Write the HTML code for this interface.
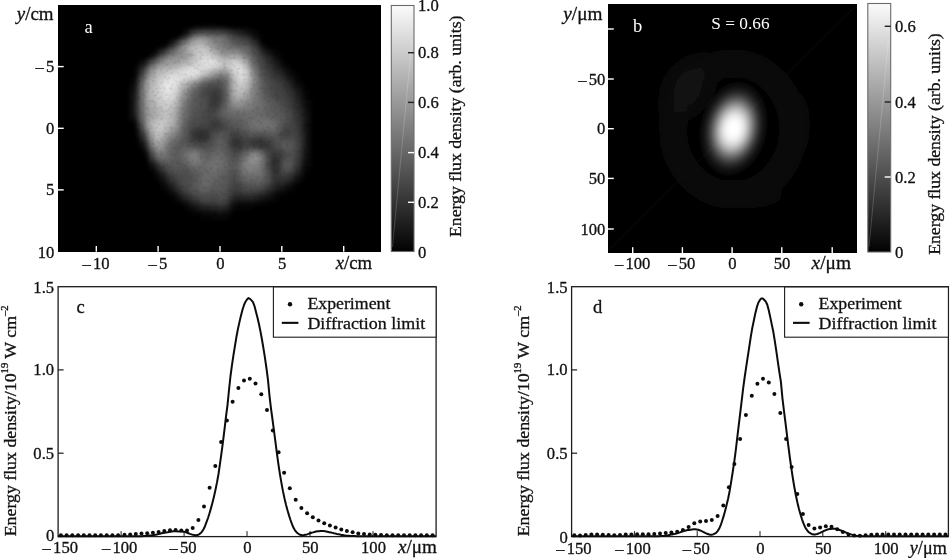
<!DOCTYPE html>
<html lang="en"><head><meta charset="utf-8"><title>Figure</title>
<style>html,body{margin:0;padding:0;background:#fff;}body{width:950px;height:558px;overflow:hidden;}svg{display:block;font-family:"Liberation Serif", "DejaVu Serif", serif;font-size:16.6px;}.it{font-style:italic;}</style></head><body>
<svg width="950" height="558" viewBox="0 0 950 558">
<defs>
<filter id="bl" x="0" y="0" width="1" height="1" color-interpolation-filters="sRGB"><feGaussianBlur in="SourceGraphic" stdDeviation="1.3" result="b"/><feTurbulence type="fractalNoise" baseFrequency="0.3" numOctaves="2" seed="7" result="n"/><feColorMatrix in="n" type="matrix" values="0.3 0 0 0 0.85  0.3 0 0 0 0.85  0.3 0 0 0 0.85  0 0 0 0 1" result="g"/><feBlend in="b" in2="g" mode="multiply"/></filter>
<filter id="bl2" x="-20%" y="-20%" width="140%" height="140%"><feGaussianBlur stdDeviation="11"/></filter>
<linearGradient id="cba" x1="0" y1="0" x2="0" y2="1"><stop offset="0" stop-color="#fbfbfb"/><stop offset="1" stop-color="#020202"/></linearGradient>
<radialGradient id="spot" cx="0.5" cy="0.5" r="0.5"><stop offset="0.00" stop-color="#fff" stop-opacity="1.000"/><stop offset="0.04" stop-color="#fff" stop-opacity="1.000"/><stop offset="0.08" stop-color="#fff" stop-opacity="0.997"/><stop offset="0.12" stop-color="#fff" stop-opacity="0.990"/><stop offset="0.16" stop-color="#fff" stop-opacity="0.978"/><stop offset="0.20" stop-color="#fff" stop-opacity="0.960"/><stop offset="0.24" stop-color="#fff" stop-opacity="0.934"/><stop offset="0.28" stop-color="#fff" stop-opacity="0.900"/><stop offset="0.32" stop-color="#fff" stop-opacity="0.858"/><stop offset="0.36" stop-color="#fff" stop-opacity="0.808"/><stop offset="0.40" stop-color="#fff" stop-opacity="0.751"/><stop offset="0.44" stop-color="#fff" stop-opacity="0.688"/><stop offset="0.48" stop-color="#fff" stop-opacity="0.620"/><stop offset="0.52" stop-color="#fff" stop-opacity="0.550"/><stop offset="0.56" stop-color="#fff" stop-opacity="0.479"/><stop offset="0.60" stop-color="#fff" stop-opacity="0.410"/><stop offset="0.64" stop-color="#fff" stop-opacity="0.343"/><stop offset="0.68" stop-color="#fff" stop-opacity="0.282"/><stop offset="0.72" stop-color="#fff" stop-opacity="0.226"/><stop offset="0.76" stop-color="#fff" stop-opacity="0.177"/><stop offset="0.80" stop-color="#fff" stop-opacity="0.136"/><stop offset="0.84" stop-color="#fff" stop-opacity="0.101"/><stop offset="0.88" stop-color="#fff" stop-opacity="0.074"/><stop offset="0.92" stop-color="#fff" stop-opacity="0.052"/><stop offset="0.96" stop-color="#fff" stop-opacity="0.036"/><stop offset="1.00" stop-color="#fff" stop-opacity="0.024"/></radialGradient>
<clipPath id="clipa"><rect x="58" y="5" width="323" height="247"/></clipPath>
<clipPath id="clipb"><rect x="608" y="4" width="249" height="249"/></clipPath>
</defs>
<rect width="950" height="558" fill="#fff"/>
<rect x="58" y="5" width="323" height="246.7" fill="#000"/>
<g clip-path="url(#clipa)">
<!--BLOB-->
<g filter="url(#bl)" shape-rendering="crispEdges" transform="translate(221.5 119.5) scale(0.995) translate(-221.5 -119.5)">
<rect x="40" y="-10" width="360" height="280" fill="#000"/>
<rect x="193.3" y="23.3" width="10.2" height="3.5" fill="#040404"/>
<rect x="203.3" y="23.3" width="13.5" height="3.5" fill="#080808"/>
<rect x="216.7" y="23.3" width="10.2" height="3.5" fill="#040404"/>
<rect x="183.3" y="26.7" width="3.5" height="3.5" fill="#040404"/>
<rect x="186.7" y="26.7" width="3.5" height="3.5" fill="#080808"/>
<rect x="190.0" y="26.7" width="3.5" height="3.5" fill="#101010"/>
<rect x="193.3" y="26.7" width="3.5" height="3.5" fill="#181818"/>
<rect x="196.7" y="26.7" width="26.9" height="3.5" fill="#1c1c1c"/>
<rect x="223.3" y="26.7" width="3.5" height="3.5" fill="#181818"/>
<rect x="226.7" y="26.7" width="3.5" height="3.5" fill="#141414"/>
<rect x="230.0" y="26.7" width="3.5" height="3.5" fill="#101010"/>
<rect x="233.3" y="26.7" width="6.9" height="3.5" fill="#0c0c0c"/>
<rect x="240.0" y="26.7" width="6.9" height="3.5" fill="#080808"/>
<rect x="246.7" y="26.7" width="6.9" height="3.5" fill="#040404"/>
<rect x="183.3" y="30.0" width="3.5" height="3.5" fill="#0c0c0c"/>
<rect x="186.7" y="30.0" width="3.5" height="3.5" fill="#181818"/>
<rect x="190.0" y="30.0" width="3.5" height="3.5" fill="#2c2c2c"/>
<rect x="193.3" y="30.0" width="3.5" height="3.5" fill="#383838"/>
<rect x="196.7" y="30.0" width="3.5" height="3.5" fill="#404040"/>
<rect x="200.0" y="30.0" width="10.2" height="3.5" fill="#444444"/>
<rect x="210.0" y="30.0" width="10.2" height="3.5" fill="#404040"/>
<rect x="220.0" y="30.0" width="3.5" height="3.5" fill="#3c3c3c"/>
<rect x="223.3" y="30.0" width="3.5" height="3.5" fill="#383838"/>
<rect x="226.7" y="30.0" width="3.5" height="3.5" fill="#303030"/>
<rect x="230.0" y="30.0" width="3.5" height="3.5" fill="#2c2c2c"/>
<rect x="233.3" y="30.0" width="3.5" height="3.5" fill="#242424"/>
<rect x="236.7" y="30.0" width="3.5" height="3.5" fill="#202020"/>
<rect x="240.0" y="30.0" width="3.5" height="3.5" fill="#1c1c1c"/>
<rect x="243.3" y="30.0" width="3.5" height="3.5" fill="#141414"/>
<rect x="246.7" y="30.0" width="3.5" height="3.5" fill="#101010"/>
<rect x="250.0" y="30.0" width="3.5" height="3.5" fill="#0c0c0c"/>
<rect x="253.3" y="30.0" width="3.5" height="3.5" fill="#080808"/>
<rect x="256.7" y="30.0" width="3.5" height="3.5" fill="#040404"/>
<rect x="176.7" y="33.3" width="3.5" height="3.5" fill="#040404"/>
<rect x="180.0" y="33.3" width="3.5" height="3.5" fill="#101010"/>
<rect x="183.3" y="33.3" width="3.5" height="3.5" fill="#202020"/>
<rect x="186.7" y="33.3" width="3.5" height="3.5" fill="#343434"/>
<rect x="190.0" y="33.3" width="3.5" height="3.5" fill="#4c4c4c"/>
<rect x="193.3" y="33.3" width="3.5" height="3.5" fill="#606060"/>
<rect x="196.7" y="33.3" width="10.2" height="3.5" fill="#6c6c6c"/>
<rect x="206.7" y="33.3" width="3.5" height="3.5" fill="#686868"/>
<rect x="210.0" y="33.3" width="3.5" height="3.5" fill="#646464"/>
<rect x="213.3" y="33.3" width="6.9" height="3.5" fill="#606060"/>
<rect x="220.0" y="33.3" width="3.5" height="3.5" fill="#5c5c5c"/>
<rect x="223.3" y="33.3" width="3.5" height="3.5" fill="#585858"/>
<rect x="226.7" y="33.3" width="3.5" height="3.5" fill="#4c4c4c"/>
<rect x="230.0" y="33.3" width="3.5" height="3.5" fill="#444444"/>
<rect x="233.3" y="33.3" width="3.5" height="3.5" fill="#383838"/>
<rect x="236.7" y="33.3" width="3.5" height="3.5" fill="#343434"/>
<rect x="240.0" y="33.3" width="3.5" height="3.5" fill="#2c2c2c"/>
<rect x="243.3" y="33.3" width="3.5" height="3.5" fill="#282828"/>
<rect x="246.7" y="33.3" width="3.5" height="3.5" fill="#202020"/>
<rect x="250.0" y="33.3" width="3.5" height="3.5" fill="#181818"/>
<rect x="253.3" y="33.3" width="3.5" height="3.5" fill="#0c0c0c"/>
<rect x="256.7" y="33.3" width="3.5" height="3.5" fill="#080808"/>
<rect x="260.0" y="33.3" width="3.5" height="3.5" fill="#040404"/>
<rect x="170.0" y="36.7" width="3.5" height="3.5" fill="#040404"/>
<rect x="173.3" y="36.7" width="3.5" height="3.5" fill="#0c0c0c"/>
<rect x="176.7" y="36.7" width="3.5" height="3.5" fill="#1c1c1c"/>
<rect x="180.0" y="36.7" width="3.5" height="3.5" fill="#2c2c2c"/>
<rect x="183.3" y="36.7" width="3.5" height="3.5" fill="#404040"/>
<rect x="186.7" y="36.7" width="3.5" height="3.5" fill="#5c5c5c"/>
<rect x="190.0" y="36.7" width="3.5" height="3.5" fill="#747474"/>
<rect x="193.3" y="36.7" width="3.5" height="3.5" fill="#848484"/>
<rect x="196.7" y="36.7" width="6.9" height="3.5" fill="#909090"/>
<rect x="203.3" y="36.7" width="3.5" height="3.5" fill="#8c8c8c"/>
<rect x="206.7" y="36.7" width="3.5" height="3.5" fill="#848484"/>
<rect x="210.0" y="36.7" width="3.5" height="3.5" fill="#7c7c7c"/>
<rect x="213.3" y="36.7" width="6.9" height="3.5" fill="#747474"/>
<rect x="220.0" y="36.7" width="3.5" height="3.5" fill="#707070"/>
<rect x="223.3" y="36.7" width="3.5" height="3.5" fill="#686868"/>
<rect x="226.7" y="36.7" width="3.5" height="3.5" fill="#606060"/>
<rect x="230.0" y="36.7" width="3.5" height="3.5" fill="#545454"/>
<rect x="233.3" y="36.7" width="3.5" height="3.5" fill="#484848"/>
<rect x="236.7" y="36.7" width="3.5" height="3.5" fill="#444444"/>
<rect x="240.0" y="36.7" width="3.5" height="3.5" fill="#404040"/>
<rect x="243.3" y="36.7" width="3.5" height="3.5" fill="#383838"/>
<rect x="246.7" y="36.7" width="3.5" height="3.5" fill="#303030"/>
<rect x="250.0" y="36.7" width="3.5" height="3.5" fill="#242424"/>
<rect x="253.3" y="36.7" width="3.5" height="3.5" fill="#181818"/>
<rect x="256.7" y="36.7" width="3.5" height="3.5" fill="#0c0c0c"/>
<rect x="260.0" y="36.7" width="3.5" height="3.5" fill="#040404"/>
<rect x="166.7" y="40.0" width="3.5" height="3.5" fill="#080808"/>
<rect x="170.0" y="40.0" width="3.5" height="3.5" fill="#141414"/>
<rect x="173.3" y="40.0" width="3.5" height="3.5" fill="#282828"/>
<rect x="176.7" y="40.0" width="3.5" height="3.5" fill="#3c3c3c"/>
<rect x="180.0" y="40.0" width="3.5" height="3.5" fill="#545454"/>
<rect x="183.3" y="40.0" width="3.5" height="3.5" fill="#6c6c6c"/>
<rect x="186.7" y="40.0" width="3.5" height="3.5" fill="#808080"/>
<rect x="190.0" y="40.0" width="3.5" height="3.5" fill="#949494"/>
<rect x="193.3" y="40.0" width="3.5" height="3.5" fill="#a4a4a4"/>
<rect x="196.7" y="40.0" width="6.9" height="3.5" fill="#a8a8a8"/>
<rect x="203.3" y="40.0" width="3.5" height="3.5" fill="#a0a0a0"/>
<rect x="206.7" y="40.0" width="3.5" height="3.5" fill="#949494"/>
<rect x="210.0" y="40.0" width="3.5" height="3.5" fill="#8c8c8c"/>
<rect x="213.3" y="40.0" width="3.5" height="3.5" fill="#808080"/>
<rect x="216.7" y="40.0" width="3.5" height="3.5" fill="#7c7c7c"/>
<rect x="220.0" y="40.0" width="3.5" height="3.5" fill="#787878"/>
<rect x="223.3" y="40.0" width="3.5" height="3.5" fill="#707070"/>
<rect x="226.7" y="40.0" width="3.5" height="3.5" fill="#686868"/>
<rect x="230.0" y="40.0" width="3.5" height="3.5" fill="#5c5c5c"/>
<rect x="233.3" y="40.0" width="3.5" height="3.5" fill="#545454"/>
<rect x="236.7" y="40.0" width="3.5" height="3.5" fill="#505050"/>
<rect x="240.0" y="40.0" width="3.5" height="3.5" fill="#4c4c4c"/>
<rect x="243.3" y="40.0" width="3.5" height="3.5" fill="#484848"/>
<rect x="246.7" y="40.0" width="3.5" height="3.5" fill="#404040"/>
<rect x="250.0" y="40.0" width="3.5" height="3.5" fill="#343434"/>
<rect x="253.3" y="40.0" width="3.5" height="3.5" fill="#282828"/>
<rect x="256.7" y="40.0" width="3.5" height="3.5" fill="#181818"/>
<rect x="260.0" y="40.0" width="3.5" height="3.5" fill="#080808"/>
<rect x="160.0" y="43.3" width="3.5" height="3.5" fill="#040404"/>
<rect x="163.3" y="43.3" width="3.5" height="3.5" fill="#080808"/>
<rect x="166.7" y="43.3" width="3.5" height="3.5" fill="#181818"/>
<rect x="170.0" y="43.3" width="3.5" height="3.5" fill="#2c2c2c"/>
<rect x="173.3" y="43.3" width="3.5" height="3.5" fill="#444444"/>
<rect x="176.7" y="43.3" width="3.5" height="3.5" fill="#5c5c5c"/>
<rect x="180.0" y="43.3" width="3.5" height="3.5" fill="#747474"/>
<rect x="183.3" y="43.3" width="3.5" height="3.5" fill="#8c8c8c"/>
<rect x="186.7" y="43.3" width="3.5" height="3.5" fill="#9c9c9c"/>
<rect x="190.0" y="43.3" width="3.5" height="3.5" fill="#acacac"/>
<rect x="193.3" y="43.3" width="3.5" height="3.5" fill="#b4b4b4"/>
<rect x="196.7" y="43.3" width="6.9" height="3.5" fill="#b8b8b8"/>
<rect x="203.3" y="43.3" width="3.5" height="3.5" fill="#b0b0b0"/>
<rect x="206.7" y="43.3" width="3.5" height="3.5" fill="#a4a4a4"/>
<rect x="210.0" y="43.3" width="3.5" height="3.5" fill="#989898"/>
<rect x="213.3" y="43.3" width="3.5" height="3.5" fill="#8c8c8c"/>
<rect x="216.7" y="43.3" width="3.5" height="3.5" fill="#808080"/>
<rect x="220.0" y="43.3" width="3.5" height="3.5" fill="#7c7c7c"/>
<rect x="223.3" y="43.3" width="3.5" height="3.5" fill="#747474"/>
<rect x="226.7" y="43.3" width="3.5" height="3.5" fill="#707070"/>
<rect x="230.0" y="43.3" width="3.5" height="3.5" fill="#686868"/>
<rect x="233.3" y="43.3" width="3.5" height="3.5" fill="#606060"/>
<rect x="236.7" y="43.3" width="6.9" height="3.5" fill="#5c5c5c"/>
<rect x="243.3" y="43.3" width="3.5" height="3.5" fill="#585858"/>
<rect x="246.7" y="43.3" width="3.5" height="3.5" fill="#505050"/>
<rect x="250.0" y="43.3" width="3.5" height="3.5" fill="#444444"/>
<rect x="253.3" y="43.3" width="3.5" height="3.5" fill="#343434"/>
<rect x="256.7" y="43.3" width="3.5" height="3.5" fill="#242424"/>
<rect x="260.0" y="43.3" width="3.5" height="3.5" fill="#141414"/>
<rect x="263.3" y="43.3" width="3.5" height="3.5" fill="#080808"/>
<rect x="153.3" y="46.7" width="3.5" height="3.5" fill="#040404"/>
<rect x="156.7" y="46.7" width="3.5" height="3.5" fill="#080808"/>
<rect x="160.0" y="46.7" width="3.5" height="3.5" fill="#141414"/>
<rect x="163.3" y="46.7" width="3.5" height="3.5" fill="#202020"/>
<rect x="166.7" y="46.7" width="3.5" height="3.5" fill="#343434"/>
<rect x="170.0" y="46.7" width="3.5" height="3.5" fill="#484848"/>
<rect x="173.3" y="46.7" width="3.5" height="3.5" fill="#5c5c5c"/>
<rect x="176.7" y="46.7" width="3.5" height="3.5" fill="#747474"/>
<rect x="180.0" y="46.7" width="3.5" height="3.5" fill="#848484"/>
<rect x="183.3" y="46.7" width="3.5" height="3.5" fill="#989898"/>
<rect x="186.7" y="46.7" width="3.5" height="3.5" fill="#a8a8a8"/>
<rect x="190.0" y="46.7" width="3.5" height="3.5" fill="#b4b4b4"/>
<rect x="193.3" y="46.7" width="3.5" height="3.5" fill="#bcbcbc"/>
<rect x="196.7" y="46.7" width="3.5" height="3.5" fill="#c0c0c0"/>
<rect x="200.0" y="46.7" width="3.5" height="3.5" fill="#c4c4c4"/>
<rect x="203.3" y="46.7" width="3.5" height="3.5" fill="#bcbcbc"/>
<rect x="206.7" y="46.7" width="3.5" height="3.5" fill="#b4b4b4"/>
<rect x="210.0" y="46.7" width="3.5" height="3.5" fill="#a4a4a4"/>
<rect x="213.3" y="46.7" width="3.5" height="3.5" fill="#989898"/>
<rect x="216.7" y="46.7" width="3.5" height="3.5" fill="#8c8c8c"/>
<rect x="220.0" y="46.7" width="3.5" height="3.5" fill="#848484"/>
<rect x="223.3" y="46.7" width="3.5" height="3.5" fill="#7c7c7c"/>
<rect x="226.7" y="46.7" width="3.5" height="3.5" fill="#787878"/>
<rect x="230.0" y="46.7" width="6.9" height="3.5" fill="#747474"/>
<rect x="236.7" y="46.7" width="3.5" height="3.5" fill="#707070"/>
<rect x="240.0" y="46.7" width="3.5" height="3.5" fill="#686868"/>
<rect x="243.3" y="46.7" width="3.5" height="3.5" fill="#646464"/>
<rect x="246.7" y="46.7" width="3.5" height="3.5" fill="#5c5c5c"/>
<rect x="250.0" y="46.7" width="3.5" height="3.5" fill="#505050"/>
<rect x="253.3" y="46.7" width="3.5" height="3.5" fill="#404040"/>
<rect x="256.7" y="46.7" width="3.5" height="3.5" fill="#303030"/>
<rect x="260.0" y="46.7" width="3.5" height="3.5" fill="#202020"/>
<rect x="263.3" y="46.7" width="3.5" height="3.5" fill="#101010"/>
<rect x="266.7" y="46.7" width="3.5" height="3.5" fill="#080808"/>
<rect x="270.0" y="46.7" width="6.9" height="3.5" fill="#040404"/>
<rect x="150.0" y="50.0" width="3.5" height="3.5" fill="#040404"/>
<rect x="153.3" y="50.0" width="3.5" height="3.5" fill="#0c0c0c"/>
<rect x="156.7" y="50.0" width="3.5" height="3.5" fill="#1c1c1c"/>
<rect x="160.0" y="50.0" width="3.5" height="3.5" fill="#2c2c2c"/>
<rect x="163.3" y="50.0" width="3.5" height="3.5" fill="#404040"/>
<rect x="166.7" y="50.0" width="3.5" height="3.5" fill="#545454"/>
<rect x="170.0" y="50.0" width="3.5" height="3.5" fill="#646464"/>
<rect x="173.3" y="50.0" width="3.5" height="3.5" fill="#747474"/>
<rect x="176.7" y="50.0" width="3.5" height="3.5" fill="#808080"/>
<rect x="180.0" y="50.0" width="3.5" height="3.5" fill="#8c8c8c"/>
<rect x="183.3" y="50.0" width="3.5" height="3.5" fill="#989898"/>
<rect x="186.7" y="50.0" width="3.5" height="3.5" fill="#a4a4a4"/>
<rect x="190.0" y="50.0" width="3.5" height="3.5" fill="#b0b0b0"/>
<rect x="193.3" y="50.0" width="3.5" height="3.5" fill="#bcbcbc"/>
<rect x="196.7" y="50.0" width="3.5" height="3.5" fill="#c4c4c4"/>
<rect x="200.0" y="50.0" width="6.9" height="3.5" fill="#c8c8c8"/>
<rect x="206.7" y="50.0" width="3.5" height="3.5" fill="#c0c0c0"/>
<rect x="210.0" y="50.0" width="3.5" height="3.5" fill="#b4b4b4"/>
<rect x="213.3" y="50.0" width="3.5" height="3.5" fill="#a8a8a8"/>
<rect x="216.7" y="50.0" width="3.5" height="3.5" fill="#9c9c9c"/>
<rect x="220.0" y="50.0" width="3.5" height="3.5" fill="#909090"/>
<rect x="223.3" y="50.0" width="13.5" height="3.5" fill="#888888"/>
<rect x="236.7" y="50.0" width="3.5" height="3.5" fill="#848484"/>
<rect x="240.0" y="50.0" width="3.5" height="3.5" fill="#7c7c7c"/>
<rect x="243.3" y="50.0" width="3.5" height="3.5" fill="#707070"/>
<rect x="246.7" y="50.0" width="3.5" height="3.5" fill="#646464"/>
<rect x="250.0" y="50.0" width="3.5" height="3.5" fill="#585858"/>
<rect x="253.3" y="50.0" width="3.5" height="3.5" fill="#4c4c4c"/>
<rect x="256.7" y="50.0" width="3.5" height="3.5" fill="#3c3c3c"/>
<rect x="260.0" y="50.0" width="3.5" height="3.5" fill="#2c2c2c"/>
<rect x="263.3" y="50.0" width="3.5" height="3.5" fill="#202020"/>
<rect x="266.7" y="50.0" width="3.5" height="3.5" fill="#141414"/>
<rect x="270.0" y="50.0" width="3.5" height="3.5" fill="#0c0c0c"/>
<rect x="273.3" y="50.0" width="3.5" height="3.5" fill="#080808"/>
<rect x="276.7" y="50.0" width="3.5" height="3.5" fill="#040404"/>
<rect x="146.7" y="53.3" width="3.5" height="3.5" fill="#040404"/>
<rect x="150.0" y="53.3" width="3.5" height="3.5" fill="#101010"/>
<rect x="153.3" y="53.3" width="3.5" height="3.5" fill="#202020"/>
<rect x="156.7" y="53.3" width="3.5" height="3.5" fill="#343434"/>
<rect x="160.0" y="53.3" width="3.5" height="3.5" fill="#4c4c4c"/>
<rect x="163.3" y="53.3" width="3.5" height="3.5" fill="#606060"/>
<rect x="166.7" y="53.3" width="3.5" height="3.5" fill="#707070"/>
<rect x="170.0" y="53.3" width="3.5" height="3.5" fill="#7c7c7c"/>
<rect x="173.3" y="53.3" width="3.5" height="3.5" fill="#848484"/>
<rect x="176.7" y="53.3" width="3.5" height="3.5" fill="#8c8c8c"/>
<rect x="180.0" y="53.3" width="3.5" height="3.5" fill="#909090"/>
<rect x="183.3" y="53.3" width="3.5" height="3.5" fill="#949494"/>
<rect x="186.7" y="53.3" width="3.5" height="3.5" fill="#a0a0a0"/>
<rect x="190.0" y="53.3" width="3.5" height="3.5" fill="#acacac"/>
<rect x="193.3" y="53.3" width="3.5" height="3.5" fill="#bcbcbc"/>
<rect x="196.7" y="53.3" width="3.5" height="3.5" fill="#c8c8c8"/>
<rect x="200.0" y="53.3" width="10.2" height="3.5" fill="#d0d0d0"/>
<rect x="210.0" y="53.3" width="3.5" height="3.5" fill="#c8c8c8"/>
<rect x="213.3" y="53.3" width="3.5" height="3.5" fill="#bcbcbc"/>
<rect x="216.7" y="53.3" width="3.5" height="3.5" fill="#acacac"/>
<rect x="220.0" y="53.3" width="3.5" height="3.5" fill="#a0a0a0"/>
<rect x="223.3" y="53.3" width="6.9" height="3.5" fill="#9c9c9c"/>
<rect x="230.0" y="53.3" width="6.9" height="3.5" fill="#a0a0a0"/>
<rect x="236.7" y="53.3" width="3.5" height="3.5" fill="#9c9c9c"/>
<rect x="240.0" y="53.3" width="3.5" height="3.5" fill="#909090"/>
<rect x="243.3" y="53.3" width="3.5" height="3.5" fill="#808080"/>
<rect x="246.7" y="53.3" width="3.5" height="3.5" fill="#707070"/>
<rect x="250.0" y="53.3" width="3.5" height="3.5" fill="#606060"/>
<rect x="253.3" y="53.3" width="3.5" height="3.5" fill="#505050"/>
<rect x="256.7" y="53.3" width="3.5" height="3.5" fill="#444444"/>
<rect x="260.0" y="53.3" width="3.5" height="3.5" fill="#383838"/>
<rect x="263.3" y="53.3" width="3.5" height="3.5" fill="#2c2c2c"/>
<rect x="266.7" y="53.3" width="3.5" height="3.5" fill="#202020"/>
<rect x="270.0" y="53.3" width="3.5" height="3.5" fill="#181818"/>
<rect x="273.3" y="53.3" width="3.5" height="3.5" fill="#0c0c0c"/>
<rect x="276.7" y="53.3" width="3.5" height="3.5" fill="#080808"/>
<rect x="280.0" y="53.3" width="3.5" height="3.5" fill="#040404"/>
<rect x="140.0" y="56.7" width="3.5" height="3.5" fill="#040404"/>
<rect x="143.3" y="56.7" width="3.5" height="3.5" fill="#080808"/>
<rect x="146.7" y="56.7" width="3.5" height="3.5" fill="#141414"/>
<rect x="150.0" y="56.7" width="3.5" height="3.5" fill="#282828"/>
<rect x="153.3" y="56.7" width="3.5" height="3.5" fill="#3c3c3c"/>
<rect x="156.7" y="56.7" width="3.5" height="3.5" fill="#545454"/>
<rect x="160.0" y="56.7" width="3.5" height="3.5" fill="#686868"/>
<rect x="163.3" y="56.7" width="3.5" height="3.5" fill="#7c7c7c"/>
<rect x="166.7" y="56.7" width="3.5" height="3.5" fill="#888888"/>
<rect x="170.0" y="56.7" width="3.5" height="3.5" fill="#909090"/>
<rect x="173.3" y="56.7" width="6.9" height="3.5" fill="#949494"/>
<rect x="180.0" y="56.7" width="3.5" height="3.5" fill="#989898"/>
<rect x="183.3" y="56.7" width="3.5" height="3.5" fill="#9c9c9c"/>
<rect x="186.7" y="56.7" width="3.5" height="3.5" fill="#a8a8a8"/>
<rect x="190.0" y="56.7" width="3.5" height="3.5" fill="#b4b4b4"/>
<rect x="193.3" y="56.7" width="3.5" height="3.5" fill="#c0c0c0"/>
<rect x="196.7" y="56.7" width="3.5" height="3.5" fill="#cccccc"/>
<rect x="200.0" y="56.7" width="3.5" height="3.5" fill="#d4d4d4"/>
<rect x="203.3" y="56.7" width="6.9" height="3.5" fill="#d8d8d8"/>
<rect x="210.0" y="56.7" width="3.5" height="3.5" fill="#d4d4d4"/>
<rect x="213.3" y="56.7" width="3.5" height="3.5" fill="#cccccc"/>
<rect x="216.7" y="56.7" width="3.5" height="3.5" fill="#c0c0c0"/>
<rect x="220.0" y="56.7" width="3.5" height="3.5" fill="#b4b4b4"/>
<rect x="223.3" y="56.7" width="6.9" height="3.5" fill="#b0b0b0"/>
<rect x="230.0" y="56.7" width="3.5" height="3.5" fill="#b4b4b4"/>
<rect x="233.3" y="56.7" width="3.5" height="3.5" fill="#b8b8b8"/>
<rect x="236.7" y="56.7" width="3.5" height="3.5" fill="#b4b4b4"/>
<rect x="240.0" y="56.7" width="3.5" height="3.5" fill="#a4a4a4"/>
<rect x="243.3" y="56.7" width="3.5" height="3.5" fill="#949494"/>
<rect x="246.7" y="56.7" width="3.5" height="3.5" fill="#808080"/>
<rect x="250.0" y="56.7" width="3.5" height="3.5" fill="#6c6c6c"/>
<rect x="253.3" y="56.7" width="3.5" height="3.5" fill="#585858"/>
<rect x="256.7" y="56.7" width="3.5" height="3.5" fill="#4c4c4c"/>
<rect x="260.0" y="56.7" width="3.5" height="3.5" fill="#404040"/>
<rect x="263.3" y="56.7" width="3.5" height="3.5" fill="#343434"/>
<rect x="266.7" y="56.7" width="3.5" height="3.5" fill="#282828"/>
<rect x="270.0" y="56.7" width="3.5" height="3.5" fill="#202020"/>
<rect x="273.3" y="56.7" width="3.5" height="3.5" fill="#141414"/>
<rect x="276.7" y="56.7" width="3.5" height="3.5" fill="#0c0c0c"/>
<rect x="280.0" y="56.7" width="3.5" height="3.5" fill="#040404"/>
<rect x="136.7" y="60.0" width="3.5" height="3.5" fill="#040404"/>
<rect x="140.0" y="60.0" width="3.5" height="3.5" fill="#0c0c0c"/>
<rect x="143.3" y="60.0" width="3.5" height="3.5" fill="#1c1c1c"/>
<rect x="146.7" y="60.0" width="3.5" height="3.5" fill="#303030"/>
<rect x="150.0" y="60.0" width="3.5" height="3.5" fill="#484848"/>
<rect x="153.3" y="60.0" width="3.5" height="3.5" fill="#606060"/>
<rect x="156.7" y="60.0" width="3.5" height="3.5" fill="#747474"/>
<rect x="160.0" y="60.0" width="3.5" height="3.5" fill="#848484"/>
<rect x="163.3" y="60.0" width="3.5" height="3.5" fill="#909090"/>
<rect x="166.7" y="60.0" width="3.5" height="3.5" fill="#989898"/>
<rect x="170.0" y="60.0" width="6.9" height="3.5" fill="#9c9c9c"/>
<rect x="176.7" y="60.0" width="3.5" height="3.5" fill="#a0a0a0"/>
<rect x="180.0" y="60.0" width="3.5" height="3.5" fill="#a8a8a8"/>
<rect x="183.3" y="60.0" width="3.5" height="3.5" fill="#b0b0b0"/>
<rect x="186.7" y="60.0" width="3.5" height="3.5" fill="#b4b4b4"/>
<rect x="190.0" y="60.0" width="3.5" height="3.5" fill="#c0c0c0"/>
<rect x="193.3" y="60.0" width="3.5" height="3.5" fill="#c8c8c8"/>
<rect x="196.7" y="60.0" width="3.5" height="3.5" fill="#d0d0d0"/>
<rect x="200.0" y="60.0" width="3.5" height="3.5" fill="#d8d8d8"/>
<rect x="203.3" y="60.0" width="3.5" height="3.5" fill="#dcdcdc"/>
<rect x="206.7" y="60.0" width="6.9" height="3.5" fill="#e0e0e0"/>
<rect x="213.3" y="60.0" width="3.5" height="3.5" fill="#d8d8d8"/>
<rect x="216.7" y="60.0" width="3.5" height="3.5" fill="#d0d0d0"/>
<rect x="220.0" y="60.0" width="3.5" height="3.5" fill="#c4c4c4"/>
<rect x="223.3" y="60.0" width="3.5" height="3.5" fill="#bcbcbc"/>
<rect x="226.7" y="60.0" width="3.5" height="3.5" fill="#c0c0c0"/>
<rect x="230.0" y="60.0" width="3.5" height="3.5" fill="#c8c8c8"/>
<rect x="233.3" y="60.0" width="3.5" height="3.5" fill="#cccccc"/>
<rect x="236.7" y="60.0" width="3.5" height="3.5" fill="#c8c8c8"/>
<rect x="240.0" y="60.0" width="3.5" height="3.5" fill="#bcbcbc"/>
<rect x="243.3" y="60.0" width="3.5" height="3.5" fill="#a8a8a8"/>
<rect x="246.7" y="60.0" width="3.5" height="3.5" fill="#909090"/>
<rect x="250.0" y="60.0" width="3.5" height="3.5" fill="#747474"/>
<rect x="253.3" y="60.0" width="3.5" height="3.5" fill="#606060"/>
<rect x="256.7" y="60.0" width="3.5" height="3.5" fill="#505050"/>
<rect x="260.0" y="60.0" width="3.5" height="3.5" fill="#444444"/>
<rect x="263.3" y="60.0" width="3.5" height="3.5" fill="#3c3c3c"/>
<rect x="266.7" y="60.0" width="3.5" height="3.5" fill="#303030"/>
<rect x="270.0" y="60.0" width="3.5" height="3.5" fill="#242424"/>
<rect x="273.3" y="60.0" width="3.5" height="3.5" fill="#1c1c1c"/>
<rect x="276.7" y="60.0" width="3.5" height="3.5" fill="#141414"/>
<rect x="280.0" y="60.0" width="3.5" height="3.5" fill="#0c0c0c"/>
<rect x="283.3" y="60.0" width="3.5" height="3.5" fill="#040404"/>
<rect x="133.3" y="63.3" width="3.5" height="3.5" fill="#040404"/>
<rect x="136.7" y="63.3" width="3.5" height="3.5" fill="#0c0c0c"/>
<rect x="140.0" y="63.3" width="3.5" height="3.5" fill="#1c1c1c"/>
<rect x="143.3" y="63.3" width="3.5" height="3.5" fill="#303030"/>
<rect x="146.7" y="63.3" width="3.5" height="3.5" fill="#4c4c4c"/>
<rect x="150.0" y="63.3" width="3.5" height="3.5" fill="#686868"/>
<rect x="153.3" y="63.3" width="3.5" height="3.5" fill="#808080"/>
<rect x="156.7" y="63.3" width="3.5" height="3.5" fill="#909090"/>
<rect x="160.0" y="63.3" width="3.5" height="3.5" fill="#9c9c9c"/>
<rect x="163.3" y="63.3" width="3.5" height="3.5" fill="#a0a0a0"/>
<rect x="166.7" y="63.3" width="3.5" height="3.5" fill="#a4a4a4"/>
<rect x="170.0" y="63.3" width="3.5" height="3.5" fill="#a8a8a8"/>
<rect x="173.3" y="63.3" width="3.5" height="3.5" fill="#acacac"/>
<rect x="176.7" y="63.3" width="3.5" height="3.5" fill="#b0b0b0"/>
<rect x="180.0" y="63.3" width="3.5" height="3.5" fill="#b8b8b8"/>
<rect x="183.3" y="63.3" width="3.5" height="3.5" fill="#c0c0c0"/>
<rect x="186.7" y="63.3" width="3.5" height="3.5" fill="#c8c8c8"/>
<rect x="190.0" y="63.3" width="3.5" height="3.5" fill="#cccccc"/>
<rect x="193.3" y="63.3" width="3.5" height="3.5" fill="#d0d0d0"/>
<rect x="196.7" y="63.3" width="6.9" height="3.5" fill="#d8d8d8"/>
<rect x="203.3" y="63.3" width="3.5" height="3.5" fill="#dcdcdc"/>
<rect x="206.7" y="63.3" width="3.5" height="3.5" fill="#e0e0e0"/>
<rect x="210.0" y="63.3" width="3.5" height="3.5" fill="#dcdcdc"/>
<rect x="213.3" y="63.3" width="3.5" height="3.5" fill="#d8d8d8"/>
<rect x="216.7" y="63.3" width="3.5" height="3.5" fill="#cccccc"/>
<rect x="220.0" y="63.3" width="3.5" height="3.5" fill="#c4c4c4"/>
<rect x="223.3" y="63.3" width="3.5" height="3.5" fill="#c0c0c0"/>
<rect x="226.7" y="63.3" width="3.5" height="3.5" fill="#c4c4c4"/>
<rect x="230.0" y="63.3" width="3.5" height="3.5" fill="#d0d0d0"/>
<rect x="233.3" y="63.3" width="6.9" height="3.5" fill="#d8d8d8"/>
<rect x="240.0" y="63.3" width="3.5" height="3.5" fill="#d0d0d0"/>
<rect x="243.3" y="63.3" width="3.5" height="3.5" fill="#bcbcbc"/>
<rect x="246.7" y="63.3" width="3.5" height="3.5" fill="#a0a0a0"/>
<rect x="250.0" y="63.3" width="3.5" height="3.5" fill="#808080"/>
<rect x="253.3" y="63.3" width="3.5" height="3.5" fill="#686868"/>
<rect x="256.7" y="63.3" width="3.5" height="3.5" fill="#545454"/>
<rect x="260.0" y="63.3" width="3.5" height="3.5" fill="#484848"/>
<rect x="263.3" y="63.3" width="3.5" height="3.5" fill="#404040"/>
<rect x="266.7" y="63.3" width="3.5" height="3.5" fill="#343434"/>
<rect x="270.0" y="63.3" width="3.5" height="3.5" fill="#2c2c2c"/>
<rect x="273.3" y="63.3" width="3.5" height="3.5" fill="#242424"/>
<rect x="276.7" y="63.3" width="3.5" height="3.5" fill="#181818"/>
<rect x="280.0" y="63.3" width="3.5" height="3.5" fill="#101010"/>
<rect x="283.3" y="63.3" width="3.5" height="3.5" fill="#080808"/>
<rect x="286.7" y="63.3" width="3.5" height="3.5" fill="#040404"/>
<rect x="133.3" y="66.7" width="3.5" height="3.5" fill="#040404"/>
<rect x="136.7" y="66.7" width="3.5" height="3.5" fill="#141414"/>
<rect x="140.0" y="66.7" width="3.5" height="3.5" fill="#282828"/>
<rect x="143.3" y="66.7" width="3.5" height="3.5" fill="#444444"/>
<rect x="146.7" y="66.7" width="3.5" height="3.5" fill="#646464"/>
<rect x="150.0" y="66.7" width="3.5" height="3.5" fill="#808080"/>
<rect x="153.3" y="66.7" width="3.5" height="3.5" fill="#989898"/>
<rect x="156.7" y="66.7" width="3.5" height="3.5" fill="#a4a4a4"/>
<rect x="160.0" y="66.7" width="3.5" height="3.5" fill="#acacac"/>
<rect x="163.3" y="66.7" width="3.5" height="3.5" fill="#b0b0b0"/>
<rect x="166.7" y="66.7" width="3.5" height="3.5" fill="#b4b4b4"/>
<rect x="170.0" y="66.7" width="3.5" height="3.5" fill="#b8b8b8"/>
<rect x="173.3" y="66.7" width="3.5" height="3.5" fill="#bcbcbc"/>
<rect x="176.7" y="66.7" width="3.5" height="3.5" fill="#c4c4c4"/>
<rect x="180.0" y="66.7" width="3.5" height="3.5" fill="#cccccc"/>
<rect x="183.3" y="66.7" width="3.5" height="3.5" fill="#d0d0d0"/>
<rect x="186.7" y="66.7" width="3.5" height="3.5" fill="#d8d8d8"/>
<rect x="190.0" y="66.7" width="10.2" height="3.5" fill="#dcdcdc"/>
<rect x="200.0" y="66.7" width="6.9" height="3.5" fill="#d8d8d8"/>
<rect x="206.7" y="66.7" width="3.5" height="3.5" fill="#d4d4d4"/>
<rect x="210.0" y="66.7" width="3.5" height="3.5" fill="#cccccc"/>
<rect x="213.3" y="66.7" width="3.5" height="3.5" fill="#c4c4c4"/>
<rect x="216.7" y="66.7" width="3.5" height="3.5" fill="#bcbcbc"/>
<rect x="220.0" y="66.7" width="3.5" height="3.5" fill="#b4b4b4"/>
<rect x="223.3" y="66.7" width="3.5" height="3.5" fill="#b0b0b0"/>
<rect x="226.7" y="66.7" width="3.5" height="3.5" fill="#bcbcbc"/>
<rect x="230.0" y="66.7" width="3.5" height="3.5" fill="#c8c8c8"/>
<rect x="233.3" y="66.7" width="3.5" height="3.5" fill="#d8d8d8"/>
<rect x="236.7" y="66.7" width="3.5" height="3.5" fill="#dcdcdc"/>
<rect x="240.0" y="66.7" width="3.5" height="3.5" fill="#d8d8d8"/>
<rect x="243.3" y="66.7" width="3.5" height="3.5" fill="#c8c8c8"/>
<rect x="246.7" y="66.7" width="3.5" height="3.5" fill="#acacac"/>
<rect x="250.0" y="66.7" width="3.5" height="3.5" fill="#8c8c8c"/>
<rect x="253.3" y="66.7" width="3.5" height="3.5" fill="#707070"/>
<rect x="256.7" y="66.7" width="3.5" height="3.5" fill="#5c5c5c"/>
<rect x="260.0" y="66.7" width="3.5" height="3.5" fill="#4c4c4c"/>
<rect x="263.3" y="66.7" width="3.5" height="3.5" fill="#444444"/>
<rect x="266.7" y="66.7" width="3.5" height="3.5" fill="#3c3c3c"/>
<rect x="270.0" y="66.7" width="3.5" height="3.5" fill="#303030"/>
<rect x="273.3" y="66.7" width="3.5" height="3.5" fill="#282828"/>
<rect x="276.7" y="66.7" width="3.5" height="3.5" fill="#202020"/>
<rect x="280.0" y="66.7" width="3.5" height="3.5" fill="#181818"/>
<rect x="283.3" y="66.7" width="3.5" height="3.5" fill="#101010"/>
<rect x="286.7" y="66.7" width="3.5" height="3.5" fill="#080808"/>
<rect x="290.0" y="66.7" width="3.5" height="3.5" fill="#040404"/>
<rect x="133.3" y="70.0" width="3.5" height="3.5" fill="#080808"/>
<rect x="136.7" y="70.0" width="3.5" height="3.5" fill="#181818"/>
<rect x="140.0" y="70.0" width="3.5" height="3.5" fill="#383838"/>
<rect x="143.3" y="70.0" width="3.5" height="3.5" fill="#585858"/>
<rect x="146.7" y="70.0" width="3.5" height="3.5" fill="#787878"/>
<rect x="150.0" y="70.0" width="3.5" height="3.5" fill="#949494"/>
<rect x="153.3" y="70.0" width="3.5" height="3.5" fill="#a8a8a8"/>
<rect x="156.7" y="70.0" width="3.5" height="3.5" fill="#b4b4b4"/>
<rect x="160.0" y="70.0" width="3.5" height="3.5" fill="#b8b8b8"/>
<rect x="163.3" y="70.0" width="3.5" height="3.5" fill="#c0c0c0"/>
<rect x="166.7" y="70.0" width="3.5" height="3.5" fill="#c4c4c4"/>
<rect x="170.0" y="70.0" width="3.5" height="3.5" fill="#c8c8c8"/>
<rect x="173.3" y="70.0" width="3.5" height="3.5" fill="#d0d0d0"/>
<rect x="176.7" y="70.0" width="3.5" height="3.5" fill="#d4d4d4"/>
<rect x="180.0" y="70.0" width="3.5" height="3.5" fill="#d8d8d8"/>
<rect x="183.3" y="70.0" width="3.5" height="3.5" fill="#dcdcdc"/>
<rect x="186.7" y="70.0" width="10.2" height="3.5" fill="#e0e0e0"/>
<rect x="196.7" y="70.0" width="3.5" height="3.5" fill="#dcdcdc"/>
<rect x="200.0" y="70.0" width="3.5" height="3.5" fill="#d0d0d0"/>
<rect x="203.3" y="70.0" width="3.5" height="3.5" fill="#c8c8c8"/>
<rect x="206.7" y="70.0" width="3.5" height="3.5" fill="#bcbcbc"/>
<rect x="210.0" y="70.0" width="3.5" height="3.5" fill="#b4b4b4"/>
<rect x="213.3" y="70.0" width="3.5" height="3.5" fill="#a8a8a8"/>
<rect x="216.7" y="70.0" width="3.5" height="3.5" fill="#9c9c9c"/>
<rect x="220.0" y="70.0" width="6.9" height="3.5" fill="#989898"/>
<rect x="226.7" y="70.0" width="3.5" height="3.5" fill="#a8a8a8"/>
<rect x="230.0" y="70.0" width="3.5" height="3.5" fill="#bcbcbc"/>
<rect x="233.3" y="70.0" width="3.5" height="3.5" fill="#d0d0d0"/>
<rect x="236.7" y="70.0" width="6.9" height="3.5" fill="#dcdcdc"/>
<rect x="243.3" y="70.0" width="3.5" height="3.5" fill="#d0d0d0"/>
<rect x="246.7" y="70.0" width="3.5" height="3.5" fill="#b8b8b8"/>
<rect x="250.0" y="70.0" width="3.5" height="3.5" fill="#989898"/>
<rect x="253.3" y="70.0" width="3.5" height="3.5" fill="#787878"/>
<rect x="256.7" y="70.0" width="3.5" height="3.5" fill="#646464"/>
<rect x="260.0" y="70.0" width="3.5" height="3.5" fill="#545454"/>
<rect x="263.3" y="70.0" width="3.5" height="3.5" fill="#484848"/>
<rect x="266.7" y="70.0" width="3.5" height="3.5" fill="#404040"/>
<rect x="270.0" y="70.0" width="3.5" height="3.5" fill="#383838"/>
<rect x="273.3" y="70.0" width="3.5" height="3.5" fill="#303030"/>
<rect x="276.7" y="70.0" width="3.5" height="3.5" fill="#282828"/>
<rect x="280.0" y="70.0" width="3.5" height="3.5" fill="#202020"/>
<rect x="283.3" y="70.0" width="3.5" height="3.5" fill="#181818"/>
<rect x="286.7" y="70.0" width="3.5" height="3.5" fill="#101010"/>
<rect x="290.0" y="70.0" width="3.5" height="3.5" fill="#080808"/>
<rect x="293.3" y="70.0" width="3.5" height="3.5" fill="#040404"/>
<rect x="133.3" y="73.3" width="3.5" height="3.5" fill="#080808"/>
<rect x="136.7" y="73.3" width="3.5" height="3.5" fill="#242424"/>
<rect x="140.0" y="73.3" width="3.5" height="3.5" fill="#444444"/>
<rect x="143.3" y="73.3" width="3.5" height="3.5" fill="#6c6c6c"/>
<rect x="146.7" y="73.3" width="3.5" height="3.5" fill="#888888"/>
<rect x="150.0" y="73.3" width="3.5" height="3.5" fill="#a0a0a0"/>
<rect x="153.3" y="73.3" width="3.5" height="3.5" fill="#b0b0b0"/>
<rect x="156.7" y="73.3" width="3.5" height="3.5" fill="#bcbcbc"/>
<rect x="160.0" y="73.3" width="3.5" height="3.5" fill="#c4c4c4"/>
<rect x="163.3" y="73.3" width="3.5" height="3.5" fill="#cccccc"/>
<rect x="166.7" y="73.3" width="3.5" height="3.5" fill="#d4d4d4"/>
<rect x="170.0" y="73.3" width="3.5" height="3.5" fill="#d8d8d8"/>
<rect x="173.3" y="73.3" width="20.2" height="3.5" fill="#dcdcdc"/>
<rect x="193.3" y="73.3" width="3.5" height="3.5" fill="#d8d8d8"/>
<rect x="196.7" y="73.3" width="3.5" height="3.5" fill="#cccccc"/>
<rect x="200.0" y="73.3" width="3.5" height="3.5" fill="#c0c0c0"/>
<rect x="203.3" y="73.3" width="3.5" height="3.5" fill="#b0b0b0"/>
<rect x="206.7" y="73.3" width="3.5" height="3.5" fill="#a4a4a4"/>
<rect x="210.0" y="73.3" width="3.5" height="3.5" fill="#989898"/>
<rect x="213.3" y="73.3" width="3.5" height="3.5" fill="#8c8c8c"/>
<rect x="216.7" y="73.3" width="3.5" height="3.5" fill="#808080"/>
<rect x="220.0" y="73.3" width="3.5" height="3.5" fill="#7c7c7c"/>
<rect x="223.3" y="73.3" width="3.5" height="3.5" fill="#808080"/>
<rect x="226.7" y="73.3" width="3.5" height="3.5" fill="#949494"/>
<rect x="230.0" y="73.3" width="3.5" height="3.5" fill="#acacac"/>
<rect x="233.3" y="73.3" width="3.5" height="3.5" fill="#c8c8c8"/>
<rect x="236.7" y="73.3" width="3.5" height="3.5" fill="#d8d8d8"/>
<rect x="240.0" y="73.3" width="3.5" height="3.5" fill="#dcdcdc"/>
<rect x="243.3" y="73.3" width="3.5" height="3.5" fill="#d0d0d0"/>
<rect x="246.7" y="73.3" width="3.5" height="3.5" fill="#bcbcbc"/>
<rect x="250.0" y="73.3" width="3.5" height="3.5" fill="#9c9c9c"/>
<rect x="253.3" y="73.3" width="3.5" height="3.5" fill="#808080"/>
<rect x="256.7" y="73.3" width="3.5" height="3.5" fill="#686868"/>
<rect x="260.0" y="73.3" width="3.5" height="3.5" fill="#585858"/>
<rect x="263.3" y="73.3" width="3.5" height="3.5" fill="#4c4c4c"/>
<rect x="266.7" y="73.3" width="3.5" height="3.5" fill="#444444"/>
<rect x="270.0" y="73.3" width="3.5" height="3.5" fill="#3c3c3c"/>
<rect x="273.3" y="73.3" width="3.5" height="3.5" fill="#343434"/>
<rect x="276.7" y="73.3" width="3.5" height="3.5" fill="#303030"/>
<rect x="280.0" y="73.3" width="3.5" height="3.5" fill="#282828"/>
<rect x="283.3" y="73.3" width="3.5" height="3.5" fill="#202020"/>
<rect x="286.7" y="73.3" width="3.5" height="3.5" fill="#141414"/>
<rect x="290.0" y="73.3" width="3.5" height="3.5" fill="#0c0c0c"/>
<rect x="293.3" y="73.3" width="3.5" height="3.5" fill="#080808"/>
<rect x="296.7" y="73.3" width="3.5" height="3.5" fill="#040404"/>
<rect x="130.0" y="76.7" width="3.5" height="3.5" fill="#040404"/>
<rect x="133.3" y="76.7" width="3.5" height="3.5" fill="#101010"/>
<rect x="136.7" y="76.7" width="3.5" height="3.5" fill="#2c2c2c"/>
<rect x="140.0" y="76.7" width="3.5" height="3.5" fill="#545454"/>
<rect x="143.3" y="76.7" width="3.5" height="3.5" fill="#787878"/>
<rect x="146.7" y="76.7" width="3.5" height="3.5" fill="#989898"/>
<rect x="150.0" y="76.7" width="3.5" height="3.5" fill="#a8a8a8"/>
<rect x="153.3" y="76.7" width="3.5" height="3.5" fill="#b8b8b8"/>
<rect x="156.7" y="76.7" width="3.5" height="3.5" fill="#c4c4c4"/>
<rect x="160.0" y="76.7" width="3.5" height="3.5" fill="#cccccc"/>
<rect x="163.3" y="76.7" width="3.5" height="3.5" fill="#d8d8d8"/>
<rect x="166.7" y="76.7" width="3.5" height="3.5" fill="#dcdcdc"/>
<rect x="170.0" y="76.7" width="3.5" height="3.5" fill="#e0e0e0"/>
<rect x="173.3" y="76.7" width="3.5" height="3.5" fill="#e4e4e4"/>
<rect x="176.7" y="76.7" width="3.5" height="3.5" fill="#e0e0e0"/>
<rect x="180.0" y="76.7" width="3.5" height="3.5" fill="#d8d8d8"/>
<rect x="183.3" y="76.7" width="3.5" height="3.5" fill="#d4d4d4"/>
<rect x="186.7" y="76.7" width="3.5" height="3.5" fill="#cccccc"/>
<rect x="190.0" y="76.7" width="3.5" height="3.5" fill="#c8c8c8"/>
<rect x="193.3" y="76.7" width="3.5" height="3.5" fill="#c0c0c0"/>
<rect x="196.7" y="76.7" width="3.5" height="3.5" fill="#b0b0b0"/>
<rect x="200.0" y="76.7" width="3.5" height="3.5" fill="#a0a0a0"/>
<rect x="203.3" y="76.7" width="3.5" height="3.5" fill="#909090"/>
<rect x="206.7" y="76.7" width="3.5" height="3.5" fill="#848484"/>
<rect x="210.0" y="76.7" width="3.5" height="3.5" fill="#787878"/>
<rect x="213.3" y="76.7" width="3.5" height="3.5" fill="#707070"/>
<rect x="216.7" y="76.7" width="6.9" height="3.5" fill="#686868"/>
<rect x="223.3" y="76.7" width="3.5" height="3.5" fill="#707070"/>
<rect x="226.7" y="76.7" width="3.5" height="3.5" fill="#848484"/>
<rect x="230.0" y="76.7" width="3.5" height="3.5" fill="#a4a4a4"/>
<rect x="233.3" y="76.7" width="3.5" height="3.5" fill="#c0c0c0"/>
<rect x="236.7" y="76.7" width="3.5" height="3.5" fill="#d0d0d0"/>
<rect x="240.0" y="76.7" width="3.5" height="3.5" fill="#d8d8d8"/>
<rect x="243.3" y="76.7" width="3.5" height="3.5" fill="#d0d0d0"/>
<rect x="246.7" y="76.7" width="3.5" height="3.5" fill="#b8b8b8"/>
<rect x="250.0" y="76.7" width="3.5" height="3.5" fill="#a0a0a0"/>
<rect x="253.3" y="76.7" width="3.5" height="3.5" fill="#848484"/>
<rect x="256.7" y="76.7" width="3.5" height="3.5" fill="#6c6c6c"/>
<rect x="260.0" y="76.7" width="3.5" height="3.5" fill="#5c5c5c"/>
<rect x="263.3" y="76.7" width="3.5" height="3.5" fill="#505050"/>
<rect x="266.7" y="76.7" width="3.5" height="3.5" fill="#484848"/>
<rect x="270.0" y="76.7" width="3.5" height="3.5" fill="#404040"/>
<rect x="273.3" y="76.7" width="3.5" height="3.5" fill="#3c3c3c"/>
<rect x="276.7" y="76.7" width="3.5" height="3.5" fill="#343434"/>
<rect x="280.0" y="76.7" width="3.5" height="3.5" fill="#303030"/>
<rect x="283.3" y="76.7" width="3.5" height="3.5" fill="#282828"/>
<rect x="286.7" y="76.7" width="3.5" height="3.5" fill="#1c1c1c"/>
<rect x="290.0" y="76.7" width="3.5" height="3.5" fill="#141414"/>
<rect x="293.3" y="76.7" width="3.5" height="3.5" fill="#0c0c0c"/>
<rect x="296.7" y="76.7" width="3.5" height="3.5" fill="#040404"/>
<rect x="130.0" y="80.0" width="3.5" height="3.5" fill="#040404"/>
<rect x="133.3" y="80.0" width="3.5" height="3.5" fill="#141414"/>
<rect x="136.7" y="80.0" width="3.5" height="3.5" fill="#343434"/>
<rect x="140.0" y="80.0" width="3.5" height="3.5" fill="#5c5c5c"/>
<rect x="143.3" y="80.0" width="3.5" height="3.5" fill="#848484"/>
<rect x="146.7" y="80.0" width="3.5" height="3.5" fill="#a0a0a0"/>
<rect x="150.0" y="80.0" width="3.5" height="3.5" fill="#b0b0b0"/>
<rect x="153.3" y="80.0" width="3.5" height="3.5" fill="#bcbcbc"/>
<rect x="156.7" y="80.0" width="3.5" height="3.5" fill="#c8c8c8"/>
<rect x="160.0" y="80.0" width="3.5" height="3.5" fill="#d4d4d4"/>
<rect x="163.3" y="80.0" width="3.5" height="3.5" fill="#e0e0e0"/>
<rect x="166.7" y="80.0" width="6.9" height="3.5" fill="#e4e4e4"/>
<rect x="173.3" y="80.0" width="3.5" height="3.5" fill="#e0e0e0"/>
<rect x="176.7" y="80.0" width="3.5" height="3.5" fill="#d8d8d8"/>
<rect x="180.0" y="80.0" width="3.5" height="3.5" fill="#d0d0d0"/>
<rect x="183.3" y="80.0" width="3.5" height="3.5" fill="#c4c4c4"/>
<rect x="186.7" y="80.0" width="3.5" height="3.5" fill="#b8b8b8"/>
<rect x="190.0" y="80.0" width="3.5" height="3.5" fill="#acacac"/>
<rect x="193.3" y="80.0" width="3.5" height="3.5" fill="#9c9c9c"/>
<rect x="196.7" y="80.0" width="3.5" height="3.5" fill="#909090"/>
<rect x="200.0" y="80.0" width="3.5" height="3.5" fill="#7c7c7c"/>
<rect x="203.3" y="80.0" width="3.5" height="3.5" fill="#707070"/>
<rect x="206.7" y="80.0" width="3.5" height="3.5" fill="#686868"/>
<rect x="210.0" y="80.0" width="3.5" height="3.5" fill="#606060"/>
<rect x="213.3" y="80.0" width="3.5" height="3.5" fill="#5c5c5c"/>
<rect x="216.7" y="80.0" width="3.5" height="3.5" fill="#585858"/>
<rect x="220.0" y="80.0" width="3.5" height="3.5" fill="#5c5c5c"/>
<rect x="223.3" y="80.0" width="3.5" height="3.5" fill="#686868"/>
<rect x="226.7" y="80.0" width="3.5" height="3.5" fill="#808080"/>
<rect x="230.0" y="80.0" width="3.5" height="3.5" fill="#9c9c9c"/>
<rect x="233.3" y="80.0" width="3.5" height="3.5" fill="#b8b8b8"/>
<rect x="236.7" y="80.0" width="3.5" height="3.5" fill="#cccccc"/>
<rect x="240.0" y="80.0" width="3.5" height="3.5" fill="#d0d0d0"/>
<rect x="243.3" y="80.0" width="3.5" height="3.5" fill="#c8c8c8"/>
<rect x="246.7" y="80.0" width="3.5" height="3.5" fill="#b4b4b4"/>
<rect x="250.0" y="80.0" width="3.5" height="3.5" fill="#9c9c9c"/>
<rect x="253.3" y="80.0" width="3.5" height="3.5" fill="#848484"/>
<rect x="256.7" y="80.0" width="3.5" height="3.5" fill="#707070"/>
<rect x="260.0" y="80.0" width="3.5" height="3.5" fill="#606060"/>
<rect x="263.3" y="80.0" width="3.5" height="3.5" fill="#545454"/>
<rect x="266.7" y="80.0" width="3.5" height="3.5" fill="#4c4c4c"/>
<rect x="270.0" y="80.0" width="3.5" height="3.5" fill="#444444"/>
<rect x="273.3" y="80.0" width="3.5" height="3.5" fill="#404040"/>
<rect x="276.7" y="80.0" width="3.5" height="3.5" fill="#3c3c3c"/>
<rect x="280.0" y="80.0" width="3.5" height="3.5" fill="#343434"/>
<rect x="283.3" y="80.0" width="3.5" height="3.5" fill="#303030"/>
<rect x="286.7" y="80.0" width="3.5" height="3.5" fill="#242424"/>
<rect x="290.0" y="80.0" width="3.5" height="3.5" fill="#181818"/>
<rect x="293.3" y="80.0" width="3.5" height="3.5" fill="#101010"/>
<rect x="296.7" y="80.0" width="3.5" height="3.5" fill="#080808"/>
<rect x="300.0" y="80.0" width="3.5" height="3.5" fill="#040404"/>
<rect x="130.0" y="83.3" width="3.5" height="3.5" fill="#080808"/>
<rect x="133.3" y="83.3" width="3.5" height="3.5" fill="#181818"/>
<rect x="136.7" y="83.3" width="3.5" height="3.5" fill="#3c3c3c"/>
<rect x="140.0" y="83.3" width="3.5" height="3.5" fill="#646464"/>
<rect x="143.3" y="83.3" width="3.5" height="3.5" fill="#8c8c8c"/>
<rect x="146.7" y="83.3" width="3.5" height="3.5" fill="#a4a4a4"/>
<rect x="150.0" y="83.3" width="3.5" height="3.5" fill="#b4b4b4"/>
<rect x="153.3" y="83.3" width="3.5" height="3.5" fill="#c0c0c0"/>
<rect x="156.7" y="83.3" width="3.5" height="3.5" fill="#cccccc"/>
<rect x="160.0" y="83.3" width="3.5" height="3.5" fill="#d8d8d8"/>
<rect x="163.3" y="83.3" width="3.5" height="3.5" fill="#e4e4e4"/>
<rect x="166.7" y="83.3" width="3.5" height="3.5" fill="#e8e8e8"/>
<rect x="170.0" y="83.3" width="3.5" height="3.5" fill="#e4e4e4"/>
<rect x="173.3" y="83.3" width="3.5" height="3.5" fill="#dcdcdc"/>
<rect x="176.7" y="83.3" width="3.5" height="3.5" fill="#d0d0d0"/>
<rect x="180.0" y="83.3" width="3.5" height="3.5" fill="#c0c0c0"/>
<rect x="183.3" y="83.3" width="3.5" height="3.5" fill="#b0b0b0"/>
<rect x="186.7" y="83.3" width="3.5" height="3.5" fill="#a0a0a0"/>
<rect x="190.0" y="83.3" width="3.5" height="3.5" fill="#909090"/>
<rect x="193.3" y="83.3" width="3.5" height="3.5" fill="#808080"/>
<rect x="196.7" y="83.3" width="3.5" height="3.5" fill="#707070"/>
<rect x="200.0" y="83.3" width="3.5" height="3.5" fill="#606060"/>
<rect x="203.3" y="83.3" width="3.5" height="3.5" fill="#585858"/>
<rect x="206.7" y="83.3" width="3.5" height="3.5" fill="#505050"/>
<rect x="210.0" y="83.3" width="10.2" height="3.5" fill="#4c4c4c"/>
<rect x="220.0" y="83.3" width="3.5" height="3.5" fill="#545454"/>
<rect x="223.3" y="83.3" width="3.5" height="3.5" fill="#606060"/>
<rect x="226.7" y="83.3" width="3.5" height="3.5" fill="#7c7c7c"/>
<rect x="230.0" y="83.3" width="3.5" height="3.5" fill="#9c9c9c"/>
<rect x="233.3" y="83.3" width="3.5" height="3.5" fill="#b4b4b4"/>
<rect x="236.7" y="83.3" width="6.9" height="3.5" fill="#c8c8c8"/>
<rect x="243.3" y="83.3" width="3.5" height="3.5" fill="#c0c0c0"/>
<rect x="246.7" y="83.3" width="3.5" height="3.5" fill="#b0b0b0"/>
<rect x="250.0" y="83.3" width="3.5" height="3.5" fill="#989898"/>
<rect x="253.3" y="83.3" width="3.5" height="3.5" fill="#808080"/>
<rect x="256.7" y="83.3" width="3.5" height="3.5" fill="#707070"/>
<rect x="260.0" y="83.3" width="3.5" height="3.5" fill="#606060"/>
<rect x="263.3" y="83.3" width="3.5" height="3.5" fill="#585858"/>
<rect x="266.7" y="83.3" width="3.5" height="3.5" fill="#505050"/>
<rect x="270.0" y="83.3" width="3.5" height="3.5" fill="#484848"/>
<rect x="273.3" y="83.3" width="3.5" height="3.5" fill="#444444"/>
<rect x="276.7" y="83.3" width="3.5" height="3.5" fill="#404040"/>
<rect x="280.0" y="83.3" width="3.5" height="3.5" fill="#3c3c3c"/>
<rect x="283.3" y="83.3" width="3.5" height="3.5" fill="#343434"/>
<rect x="286.7" y="83.3" width="3.5" height="3.5" fill="#2c2c2c"/>
<rect x="290.0" y="83.3" width="3.5" height="3.5" fill="#202020"/>
<rect x="293.3" y="83.3" width="3.5" height="3.5" fill="#141414"/>
<rect x="296.7" y="83.3" width="3.5" height="3.5" fill="#0c0c0c"/>
<rect x="300.0" y="83.3" width="3.5" height="3.5" fill="#080808"/>
<rect x="303.3" y="83.3" width="3.5" height="3.5" fill="#040404"/>
<rect x="126.7" y="86.7" width="3.5" height="3.5" fill="#040404"/>
<rect x="130.0" y="86.7" width="3.5" height="3.5" fill="#0c0c0c"/>
<rect x="133.3" y="86.7" width="3.5" height="3.5" fill="#1c1c1c"/>
<rect x="136.7" y="86.7" width="3.5" height="3.5" fill="#404040"/>
<rect x="140.0" y="86.7" width="3.5" height="3.5" fill="#686868"/>
<rect x="143.3" y="86.7" width="3.5" height="3.5" fill="#909090"/>
<rect x="146.7" y="86.7" width="3.5" height="3.5" fill="#a8a8a8"/>
<rect x="150.0" y="86.7" width="3.5" height="3.5" fill="#b8b8b8"/>
<rect x="153.3" y="86.7" width="3.5" height="3.5" fill="#c4c4c4"/>
<rect x="156.7" y="86.7" width="3.5" height="3.5" fill="#d0d0d0"/>
<rect x="160.0" y="86.7" width="3.5" height="3.5" fill="#dcdcdc"/>
<rect x="163.3" y="86.7" width="6.9" height="3.5" fill="#e4e4e4"/>
<rect x="170.0" y="86.7" width="3.5" height="3.5" fill="#e0e0e0"/>
<rect x="173.3" y="86.7" width="3.5" height="3.5" fill="#d8d8d8"/>
<rect x="176.7" y="86.7" width="3.5" height="3.5" fill="#c8c8c8"/>
<rect x="180.0" y="86.7" width="3.5" height="3.5" fill="#b4b4b4"/>
<rect x="183.3" y="86.7" width="3.5" height="3.5" fill="#a0a0a0"/>
<rect x="186.7" y="86.7" width="3.5" height="3.5" fill="#8c8c8c"/>
<rect x="190.0" y="86.7" width="3.5" height="3.5" fill="#7c7c7c"/>
<rect x="193.3" y="86.7" width="3.5" height="3.5" fill="#6c6c6c"/>
<rect x="196.7" y="86.7" width="3.5" height="3.5" fill="#606060"/>
<rect x="200.0" y="86.7" width="3.5" height="3.5" fill="#545454"/>
<rect x="203.3" y="86.7" width="3.5" height="3.5" fill="#4c4c4c"/>
<rect x="206.7" y="86.7" width="13.5" height="3.5" fill="#444444"/>
<rect x="220.0" y="86.7" width="3.5" height="3.5" fill="#4c4c4c"/>
<rect x="223.3" y="86.7" width="3.5" height="3.5" fill="#5c5c5c"/>
<rect x="226.7" y="86.7" width="3.5" height="3.5" fill="#787878"/>
<rect x="230.0" y="86.7" width="3.5" height="3.5" fill="#989898"/>
<rect x="233.3" y="86.7" width="3.5" height="3.5" fill="#b4b4b4"/>
<rect x="236.7" y="86.7" width="3.5" height="3.5" fill="#c0c0c0"/>
<rect x="240.0" y="86.7" width="3.5" height="3.5" fill="#c4c4c4"/>
<rect x="243.3" y="86.7" width="3.5" height="3.5" fill="#b8b8b8"/>
<rect x="246.7" y="86.7" width="3.5" height="3.5" fill="#a8a8a8"/>
<rect x="250.0" y="86.7" width="3.5" height="3.5" fill="#909090"/>
<rect x="253.3" y="86.7" width="3.5" height="3.5" fill="#7c7c7c"/>
<rect x="256.7" y="86.7" width="3.5" height="3.5" fill="#707070"/>
<rect x="260.0" y="86.7" width="3.5" height="3.5" fill="#606060"/>
<rect x="263.3" y="86.7" width="3.5" height="3.5" fill="#585858"/>
<rect x="266.7" y="86.7" width="3.5" height="3.5" fill="#505050"/>
<rect x="270.0" y="86.7" width="3.5" height="3.5" fill="#484848"/>
<rect x="273.3" y="86.7" width="3.5" height="3.5" fill="#444444"/>
<rect x="276.7" y="86.7" width="6.9" height="3.5" fill="#404040"/>
<rect x="283.3" y="86.7" width="3.5" height="3.5" fill="#383838"/>
<rect x="286.7" y="86.7" width="3.5" height="3.5" fill="#303030"/>
<rect x="290.0" y="86.7" width="3.5" height="3.5" fill="#282828"/>
<rect x="293.3" y="86.7" width="3.5" height="3.5" fill="#1c1c1c"/>
<rect x="296.7" y="86.7" width="3.5" height="3.5" fill="#141414"/>
<rect x="300.0" y="86.7" width="3.5" height="3.5" fill="#0c0c0c"/>
<rect x="303.3" y="86.7" width="3.5" height="3.5" fill="#040404"/>
<rect x="126.7" y="90.0" width="3.5" height="3.5" fill="#040404"/>
<rect x="130.0" y="90.0" width="3.5" height="3.5" fill="#0c0c0c"/>
<rect x="133.3" y="90.0" width="3.5" height="3.5" fill="#202020"/>
<rect x="136.7" y="90.0" width="3.5" height="3.5" fill="#444444"/>
<rect x="140.0" y="90.0" width="3.5" height="3.5" fill="#6c6c6c"/>
<rect x="143.3" y="90.0" width="3.5" height="3.5" fill="#909090"/>
<rect x="146.7" y="90.0" width="3.5" height="3.5" fill="#a8a8a8"/>
<rect x="150.0" y="90.0" width="3.5" height="3.5" fill="#b8b8b8"/>
<rect x="153.3" y="90.0" width="3.5" height="3.5" fill="#c4c4c4"/>
<rect x="156.7" y="90.0" width="3.5" height="3.5" fill="#cccccc"/>
<rect x="160.0" y="90.0" width="3.5" height="3.5" fill="#d8d8d8"/>
<rect x="163.3" y="90.0" width="3.5" height="3.5" fill="#e0e0e0"/>
<rect x="166.7" y="90.0" width="3.5" height="3.5" fill="#e4e4e4"/>
<rect x="170.0" y="90.0" width="3.5" height="3.5" fill="#dcdcdc"/>
<rect x="173.3" y="90.0" width="3.5" height="3.5" fill="#d4d4d4"/>
<rect x="176.7" y="90.0" width="3.5" height="3.5" fill="#c0c0c0"/>
<rect x="180.0" y="90.0" width="3.5" height="3.5" fill="#acacac"/>
<rect x="183.3" y="90.0" width="3.5" height="3.5" fill="#949494"/>
<rect x="186.7" y="90.0" width="3.5" height="3.5" fill="#808080"/>
<rect x="190.0" y="90.0" width="3.5" height="3.5" fill="#707070"/>
<rect x="193.3" y="90.0" width="3.5" height="3.5" fill="#606060"/>
<rect x="196.7" y="90.0" width="3.5" height="3.5" fill="#585858"/>
<rect x="200.0" y="90.0" width="3.5" height="3.5" fill="#4c4c4c"/>
<rect x="203.3" y="90.0" width="3.5" height="3.5" fill="#484848"/>
<rect x="206.7" y="90.0" width="6.9" height="3.5" fill="#404040"/>
<rect x="213.3" y="90.0" width="3.5" height="3.5" fill="#3c3c3c"/>
<rect x="216.7" y="90.0" width="3.5" height="3.5" fill="#404040"/>
<rect x="220.0" y="90.0" width="3.5" height="3.5" fill="#484848"/>
<rect x="223.3" y="90.0" width="3.5" height="3.5" fill="#585858"/>
<rect x="226.7" y="90.0" width="3.5" height="3.5" fill="#747474"/>
<rect x="230.0" y="90.0" width="3.5" height="3.5" fill="#949494"/>
<rect x="233.3" y="90.0" width="3.5" height="3.5" fill="#b0b0b0"/>
<rect x="236.7" y="90.0" width="6.9" height="3.5" fill="#bcbcbc"/>
<rect x="243.3" y="90.0" width="3.5" height="3.5" fill="#b0b0b0"/>
<rect x="246.7" y="90.0" width="3.5" height="3.5" fill="#a0a0a0"/>
<rect x="250.0" y="90.0" width="3.5" height="3.5" fill="#8c8c8c"/>
<rect x="253.3" y="90.0" width="3.5" height="3.5" fill="#7c7c7c"/>
<rect x="256.7" y="90.0" width="3.5" height="3.5" fill="#707070"/>
<rect x="260.0" y="90.0" width="3.5" height="3.5" fill="#646464"/>
<rect x="263.3" y="90.0" width="3.5" height="3.5" fill="#585858"/>
<rect x="266.7" y="90.0" width="3.5" height="3.5" fill="#505050"/>
<rect x="270.0" y="90.0" width="3.5" height="3.5" fill="#4c4c4c"/>
<rect x="273.3" y="90.0" width="6.9" height="3.5" fill="#444444"/>
<rect x="280.0" y="90.0" width="3.5" height="3.5" fill="#404040"/>
<rect x="283.3" y="90.0" width="3.5" height="3.5" fill="#3c3c3c"/>
<rect x="286.7" y="90.0" width="3.5" height="3.5" fill="#343434"/>
<rect x="290.0" y="90.0" width="3.5" height="3.5" fill="#2c2c2c"/>
<rect x="293.3" y="90.0" width="3.5" height="3.5" fill="#242424"/>
<rect x="296.7" y="90.0" width="3.5" height="3.5" fill="#181818"/>
<rect x="300.0" y="90.0" width="3.5" height="3.5" fill="#101010"/>
<rect x="303.3" y="90.0" width="3.5" height="3.5" fill="#080808"/>
<rect x="306.7" y="90.0" width="3.5" height="3.5" fill="#040404"/>
<rect x="126.7" y="93.3" width="3.5" height="3.5" fill="#040404"/>
<rect x="130.0" y="93.3" width="3.5" height="3.5" fill="#101010"/>
<rect x="133.3" y="93.3" width="3.5" height="3.5" fill="#242424"/>
<rect x="136.7" y="93.3" width="3.5" height="3.5" fill="#444444"/>
<rect x="140.0" y="93.3" width="3.5" height="3.5" fill="#6c6c6c"/>
<rect x="143.3" y="93.3" width="3.5" height="3.5" fill="#909090"/>
<rect x="146.7" y="93.3" width="3.5" height="3.5" fill="#a8a8a8"/>
<rect x="150.0" y="93.3" width="3.5" height="3.5" fill="#b8b8b8"/>
<rect x="153.3" y="93.3" width="3.5" height="3.5" fill="#c0c0c0"/>
<rect x="156.7" y="93.3" width="3.5" height="3.5" fill="#cccccc"/>
<rect x="160.0" y="93.3" width="3.5" height="3.5" fill="#d4d4d4"/>
<rect x="163.3" y="93.3" width="3.5" height="3.5" fill="#dcdcdc"/>
<rect x="166.7" y="93.3" width="3.5" height="3.5" fill="#e0e0e0"/>
<rect x="170.0" y="93.3" width="3.5" height="3.5" fill="#d8d8d8"/>
<rect x="173.3" y="93.3" width="3.5" height="3.5" fill="#cccccc"/>
<rect x="176.7" y="93.3" width="3.5" height="3.5" fill="#b8b8b8"/>
<rect x="180.0" y="93.3" width="3.5" height="3.5" fill="#a0a0a0"/>
<rect x="183.3" y="93.3" width="3.5" height="3.5" fill="#8c8c8c"/>
<rect x="186.7" y="93.3" width="3.5" height="3.5" fill="#787878"/>
<rect x="190.0" y="93.3" width="3.5" height="3.5" fill="#686868"/>
<rect x="193.3" y="93.3" width="3.5" height="3.5" fill="#5c5c5c"/>
<rect x="196.7" y="93.3" width="3.5" height="3.5" fill="#545454"/>
<rect x="200.0" y="93.3" width="3.5" height="3.5" fill="#4c4c4c"/>
<rect x="203.3" y="93.3" width="3.5" height="3.5" fill="#484848"/>
<rect x="206.7" y="93.3" width="3.5" height="3.5" fill="#404040"/>
<rect x="210.0" y="93.3" width="3.5" height="3.5" fill="#3c3c3c"/>
<rect x="213.3" y="93.3" width="3.5" height="3.5" fill="#383838"/>
<rect x="216.7" y="93.3" width="3.5" height="3.5" fill="#3c3c3c"/>
<rect x="220.0" y="93.3" width="3.5" height="3.5" fill="#444444"/>
<rect x="223.3" y="93.3" width="3.5" height="3.5" fill="#585858"/>
<rect x="226.7" y="93.3" width="3.5" height="3.5" fill="#747474"/>
<rect x="230.0" y="93.3" width="3.5" height="3.5" fill="#949494"/>
<rect x="233.3" y="93.3" width="3.5" height="3.5" fill="#acacac"/>
<rect x="236.7" y="93.3" width="3.5" height="3.5" fill="#b4b4b4"/>
<rect x="240.0" y="93.3" width="3.5" height="3.5" fill="#b0b0b0"/>
<rect x="243.3" y="93.3" width="3.5" height="3.5" fill="#a4a4a4"/>
<rect x="246.7" y="93.3" width="3.5" height="3.5" fill="#989898"/>
<rect x="250.0" y="93.3" width="3.5" height="3.5" fill="#888888"/>
<rect x="253.3" y="93.3" width="3.5" height="3.5" fill="#7c7c7c"/>
<rect x="256.7" y="93.3" width="3.5" height="3.5" fill="#707070"/>
<rect x="260.0" y="93.3" width="3.5" height="3.5" fill="#646464"/>
<rect x="263.3" y="93.3" width="3.5" height="3.5" fill="#5c5c5c"/>
<rect x="266.7" y="93.3" width="3.5" height="3.5" fill="#545454"/>
<rect x="270.0" y="93.3" width="3.5" height="3.5" fill="#4c4c4c"/>
<rect x="273.3" y="93.3" width="3.5" height="3.5" fill="#484848"/>
<rect x="276.7" y="93.3" width="6.9" height="3.5" fill="#444444"/>
<rect x="283.3" y="93.3" width="3.5" height="3.5" fill="#404040"/>
<rect x="286.7" y="93.3" width="3.5" height="3.5" fill="#383838"/>
<rect x="290.0" y="93.3" width="3.5" height="3.5" fill="#303030"/>
<rect x="293.3" y="93.3" width="3.5" height="3.5" fill="#282828"/>
<rect x="296.7" y="93.3" width="3.5" height="3.5" fill="#1c1c1c"/>
<rect x="300.0" y="93.3" width="3.5" height="3.5" fill="#141414"/>
<rect x="303.3" y="93.3" width="3.5" height="3.5" fill="#080808"/>
<rect x="306.7" y="93.3" width="3.5" height="3.5" fill="#040404"/>
<rect x="126.7" y="96.7" width="3.5" height="3.5" fill="#040404"/>
<rect x="130.0" y="96.7" width="3.5" height="3.5" fill="#101010"/>
<rect x="133.3" y="96.7" width="3.5" height="3.5" fill="#242424"/>
<rect x="136.7" y="96.7" width="3.5" height="3.5" fill="#444444"/>
<rect x="140.0" y="96.7" width="3.5" height="3.5" fill="#6c6c6c"/>
<rect x="143.3" y="96.7" width="3.5" height="3.5" fill="#909090"/>
<rect x="146.7" y="96.7" width="3.5" height="3.5" fill="#a8a8a8"/>
<rect x="150.0" y="96.7" width="3.5" height="3.5" fill="#b4b4b4"/>
<rect x="153.3" y="96.7" width="3.5" height="3.5" fill="#c0c0c0"/>
<rect x="156.7" y="96.7" width="3.5" height="3.5" fill="#c8c8c8"/>
<rect x="160.0" y="96.7" width="3.5" height="3.5" fill="#d0d0d0"/>
<rect x="163.3" y="96.7" width="6.9" height="3.5" fill="#d8d8d8"/>
<rect x="170.0" y="96.7" width="3.5" height="3.5" fill="#d4d4d4"/>
<rect x="173.3" y="96.7" width="3.5" height="3.5" fill="#c4c4c4"/>
<rect x="176.7" y="96.7" width="3.5" height="3.5" fill="#b0b0b0"/>
<rect x="180.0" y="96.7" width="3.5" height="3.5" fill="#989898"/>
<rect x="183.3" y="96.7" width="3.5" height="3.5" fill="#848484"/>
<rect x="186.7" y="96.7" width="3.5" height="3.5" fill="#707070"/>
<rect x="190.0" y="96.7" width="3.5" height="3.5" fill="#646464"/>
<rect x="193.3" y="96.7" width="3.5" height="3.5" fill="#585858"/>
<rect x="196.7" y="96.7" width="3.5" height="3.5" fill="#545454"/>
<rect x="200.0" y="96.7" width="3.5" height="3.5" fill="#505050"/>
<rect x="203.3" y="96.7" width="3.5" height="3.5" fill="#4c4c4c"/>
<rect x="206.7" y="96.7" width="3.5" height="3.5" fill="#444444"/>
<rect x="210.0" y="96.7" width="3.5" height="3.5" fill="#3c3c3c"/>
<rect x="213.3" y="96.7" width="6.9" height="3.5" fill="#383838"/>
<rect x="220.0" y="96.7" width="3.5" height="3.5" fill="#444444"/>
<rect x="223.3" y="96.7" width="3.5" height="3.5" fill="#585858"/>
<rect x="226.7" y="96.7" width="3.5" height="3.5" fill="#707070"/>
<rect x="230.0" y="96.7" width="3.5" height="3.5" fill="#8c8c8c"/>
<rect x="233.3" y="96.7" width="3.5" height="3.5" fill="#a4a4a4"/>
<rect x="236.7" y="96.7" width="3.5" height="3.5" fill="#a8a8a8"/>
<rect x="240.0" y="96.7" width="3.5" height="3.5" fill="#a4a4a4"/>
<rect x="243.3" y="96.7" width="3.5" height="3.5" fill="#9c9c9c"/>
<rect x="246.7" y="96.7" width="3.5" height="3.5" fill="#909090"/>
<rect x="250.0" y="96.7" width="3.5" height="3.5" fill="#848484"/>
<rect x="253.3" y="96.7" width="3.5" height="3.5" fill="#787878"/>
<rect x="256.7" y="96.7" width="3.5" height="3.5" fill="#707070"/>
<rect x="260.0" y="96.7" width="3.5" height="3.5" fill="#686868"/>
<rect x="263.3" y="96.7" width="3.5" height="3.5" fill="#606060"/>
<rect x="266.7" y="96.7" width="3.5" height="3.5" fill="#585858"/>
<rect x="270.0" y="96.7" width="3.5" height="3.5" fill="#545454"/>
<rect x="273.3" y="96.7" width="3.5" height="3.5" fill="#4c4c4c"/>
<rect x="276.7" y="96.7" width="3.5" height="3.5" fill="#484848"/>
<rect x="280.0" y="96.7" width="3.5" height="3.5" fill="#444444"/>
<rect x="283.3" y="96.7" width="3.5" height="3.5" fill="#404040"/>
<rect x="286.7" y="96.7" width="3.5" height="3.5" fill="#3c3c3c"/>
<rect x="290.0" y="96.7" width="3.5" height="3.5" fill="#343434"/>
<rect x="293.3" y="96.7" width="3.5" height="3.5" fill="#2c2c2c"/>
<rect x="296.7" y="96.7" width="3.5" height="3.5" fill="#202020"/>
<rect x="300.0" y="96.7" width="3.5" height="3.5" fill="#141414"/>
<rect x="303.3" y="96.7" width="3.5" height="3.5" fill="#0c0c0c"/>
<rect x="306.7" y="96.7" width="3.5" height="3.5" fill="#040404"/>
<rect x="126.7" y="100.0" width="3.5" height="3.5" fill="#040404"/>
<rect x="130.0" y="100.0" width="3.5" height="3.5" fill="#101010"/>
<rect x="133.3" y="100.0" width="3.5" height="3.5" fill="#282828"/>
<rect x="136.7" y="100.0" width="3.5" height="3.5" fill="#484848"/>
<rect x="140.0" y="100.0" width="3.5" height="3.5" fill="#6c6c6c"/>
<rect x="143.3" y="100.0" width="3.5" height="3.5" fill="#8c8c8c"/>
<rect x="146.7" y="100.0" width="3.5" height="3.5" fill="#a4a4a4"/>
<rect x="150.0" y="100.0" width="3.5" height="3.5" fill="#b0b0b0"/>
<rect x="153.3" y="100.0" width="3.5" height="3.5" fill="#bcbcbc"/>
<rect x="156.7" y="100.0" width="3.5" height="3.5" fill="#c4c4c4"/>
<rect x="160.0" y="100.0" width="3.5" height="3.5" fill="#cccccc"/>
<rect x="163.3" y="100.0" width="6.9" height="3.5" fill="#d0d0d0"/>
<rect x="170.0" y="100.0" width="3.5" height="3.5" fill="#cccccc"/>
<rect x="173.3" y="100.0" width="3.5" height="3.5" fill="#bcbcbc"/>
<rect x="176.7" y="100.0" width="3.5" height="3.5" fill="#a8a8a8"/>
<rect x="180.0" y="100.0" width="3.5" height="3.5" fill="#909090"/>
<rect x="183.3" y="100.0" width="3.5" height="3.5" fill="#7c7c7c"/>
<rect x="186.7" y="100.0" width="3.5" height="3.5" fill="#6c6c6c"/>
<rect x="190.0" y="100.0" width="3.5" height="3.5" fill="#606060"/>
<rect x="193.3" y="100.0" width="3.5" height="3.5" fill="#585858"/>
<rect x="196.7" y="100.0" width="3.5" height="3.5" fill="#545454"/>
<rect x="200.0" y="100.0" width="3.5" height="3.5" fill="#505050"/>
<rect x="203.3" y="100.0" width="3.5" height="3.5" fill="#4c4c4c"/>
<rect x="206.7" y="100.0" width="3.5" height="3.5" fill="#444444"/>
<rect x="210.0" y="100.0" width="3.5" height="3.5" fill="#3c3c3c"/>
<rect x="213.3" y="100.0" width="3.5" height="3.5" fill="#383838"/>
<rect x="216.7" y="100.0" width="3.5" height="3.5" fill="#3c3c3c"/>
<rect x="220.0" y="100.0" width="3.5" height="3.5" fill="#484848"/>
<rect x="223.3" y="100.0" width="3.5" height="3.5" fill="#585858"/>
<rect x="226.7" y="100.0" width="3.5" height="3.5" fill="#707070"/>
<rect x="230.0" y="100.0" width="3.5" height="3.5" fill="#888888"/>
<rect x="233.3" y="100.0" width="3.5" height="3.5" fill="#989898"/>
<rect x="236.7" y="100.0" width="3.5" height="3.5" fill="#9c9c9c"/>
<rect x="240.0" y="100.0" width="3.5" height="3.5" fill="#989898"/>
<rect x="243.3" y="100.0" width="3.5" height="3.5" fill="#909090"/>
<rect x="246.7" y="100.0" width="3.5" height="3.5" fill="#888888"/>
<rect x="250.0" y="100.0" width="3.5" height="3.5" fill="#808080"/>
<rect x="253.3" y="100.0" width="3.5" height="3.5" fill="#787878"/>
<rect x="256.7" y="100.0" width="3.5" height="3.5" fill="#707070"/>
<rect x="260.0" y="100.0" width="3.5" height="3.5" fill="#6c6c6c"/>
<rect x="263.3" y="100.0" width="3.5" height="3.5" fill="#646464"/>
<rect x="266.7" y="100.0" width="3.5" height="3.5" fill="#5c5c5c"/>
<rect x="270.0" y="100.0" width="3.5" height="3.5" fill="#585858"/>
<rect x="273.3" y="100.0" width="3.5" height="3.5" fill="#545454"/>
<rect x="276.7" y="100.0" width="3.5" height="3.5" fill="#4c4c4c"/>
<rect x="280.0" y="100.0" width="3.5" height="3.5" fill="#484848"/>
<rect x="283.3" y="100.0" width="3.5" height="3.5" fill="#444444"/>
<rect x="286.7" y="100.0" width="3.5" height="3.5" fill="#404040"/>
<rect x="290.0" y="100.0" width="3.5" height="3.5" fill="#383838"/>
<rect x="293.3" y="100.0" width="3.5" height="3.5" fill="#2c2c2c"/>
<rect x="296.7" y="100.0" width="3.5" height="3.5" fill="#242424"/>
<rect x="300.0" y="100.0" width="3.5" height="3.5" fill="#181818"/>
<rect x="303.3" y="100.0" width="3.5" height="3.5" fill="#101010"/>
<rect x="306.7" y="100.0" width="3.5" height="3.5" fill="#080808"/>
<rect x="310.0" y="100.0" width="3.5" height="3.5" fill="#040404"/>
<rect x="126.7" y="103.3" width="3.5" height="3.5" fill="#040404"/>
<rect x="130.0" y="103.3" width="3.5" height="3.5" fill="#101010"/>
<rect x="133.3" y="103.3" width="3.5" height="3.5" fill="#282828"/>
<rect x="136.7" y="103.3" width="3.5" height="3.5" fill="#484848"/>
<rect x="140.0" y="103.3" width="3.5" height="3.5" fill="#6c6c6c"/>
<rect x="143.3" y="103.3" width="3.5" height="3.5" fill="#8c8c8c"/>
<rect x="146.7" y="103.3" width="3.5" height="3.5" fill="#a0a0a0"/>
<rect x="150.0" y="103.3" width="3.5" height="3.5" fill="#acacac"/>
<rect x="153.3" y="103.3" width="3.5" height="3.5" fill="#b4b4b4"/>
<rect x="156.7" y="103.3" width="3.5" height="3.5" fill="#c0c0c0"/>
<rect x="160.0" y="103.3" width="3.5" height="3.5" fill="#c8c8c8"/>
<rect x="163.3" y="103.3" width="6.9" height="3.5" fill="#cccccc"/>
<rect x="170.0" y="103.3" width="3.5" height="3.5" fill="#c4c4c4"/>
<rect x="173.3" y="103.3" width="3.5" height="3.5" fill="#b4b4b4"/>
<rect x="176.7" y="103.3" width="3.5" height="3.5" fill="#a0a0a0"/>
<rect x="180.0" y="103.3" width="3.5" height="3.5" fill="#8c8c8c"/>
<rect x="183.3" y="103.3" width="3.5" height="3.5" fill="#747474"/>
<rect x="186.7" y="103.3" width="3.5" height="3.5" fill="#686868"/>
<rect x="190.0" y="103.3" width="3.5" height="3.5" fill="#5c5c5c"/>
<rect x="193.3" y="103.3" width="3.5" height="3.5" fill="#585858"/>
<rect x="196.7" y="103.3" width="3.5" height="3.5" fill="#545454"/>
<rect x="200.0" y="103.3" width="3.5" height="3.5" fill="#505050"/>
<rect x="203.3" y="103.3" width="3.5" height="3.5" fill="#4c4c4c"/>
<rect x="206.7" y="103.3" width="3.5" height="3.5" fill="#444444"/>
<rect x="210.0" y="103.3" width="3.5" height="3.5" fill="#3c3c3c"/>
<rect x="213.3" y="103.3" width="3.5" height="3.5" fill="#383838"/>
<rect x="216.7" y="103.3" width="3.5" height="3.5" fill="#404040"/>
<rect x="220.0" y="103.3" width="3.5" height="3.5" fill="#4c4c4c"/>
<rect x="223.3" y="103.3" width="3.5" height="3.5" fill="#5c5c5c"/>
<rect x="226.7" y="103.3" width="3.5" height="3.5" fill="#707070"/>
<rect x="230.0" y="103.3" width="3.5" height="3.5" fill="#808080"/>
<rect x="233.3" y="103.3" width="10.2" height="3.5" fill="#8c8c8c"/>
<rect x="243.3" y="103.3" width="3.5" height="3.5" fill="#848484"/>
<rect x="246.7" y="103.3" width="3.5" height="3.5" fill="#808080"/>
<rect x="250.0" y="103.3" width="3.5" height="3.5" fill="#7c7c7c"/>
<rect x="253.3" y="103.3" width="3.5" height="3.5" fill="#747474"/>
<rect x="256.7" y="103.3" width="3.5" height="3.5" fill="#707070"/>
<rect x="260.0" y="103.3" width="3.5" height="3.5" fill="#6c6c6c"/>
<rect x="263.3" y="103.3" width="3.5" height="3.5" fill="#686868"/>
<rect x="266.7" y="103.3" width="3.5" height="3.5" fill="#606060"/>
<rect x="270.0" y="103.3" width="3.5" height="3.5" fill="#5c5c5c"/>
<rect x="273.3" y="103.3" width="3.5" height="3.5" fill="#585858"/>
<rect x="276.7" y="103.3" width="3.5" height="3.5" fill="#545454"/>
<rect x="280.0" y="103.3" width="3.5" height="3.5" fill="#4c4c4c"/>
<rect x="283.3" y="103.3" width="3.5" height="3.5" fill="#484848"/>
<rect x="286.7" y="103.3" width="3.5" height="3.5" fill="#404040"/>
<rect x="290.0" y="103.3" width="3.5" height="3.5" fill="#383838"/>
<rect x="293.3" y="103.3" width="3.5" height="3.5" fill="#303030"/>
<rect x="296.7" y="103.3" width="3.5" height="3.5" fill="#282828"/>
<rect x="300.0" y="103.3" width="3.5" height="3.5" fill="#1c1c1c"/>
<rect x="303.3" y="103.3" width="3.5" height="3.5" fill="#101010"/>
<rect x="306.7" y="103.3" width="3.5" height="3.5" fill="#080808"/>
<rect x="310.0" y="103.3" width="3.5" height="3.5" fill="#040404"/>
<rect x="126.7" y="106.7" width="3.5" height="3.5" fill="#040404"/>
<rect x="130.0" y="106.7" width="3.5" height="3.5" fill="#101010"/>
<rect x="133.3" y="106.7" width="3.5" height="3.5" fill="#282828"/>
<rect x="136.7" y="106.7" width="3.5" height="3.5" fill="#484848"/>
<rect x="140.0" y="106.7" width="3.5" height="3.5" fill="#686868"/>
<rect x="143.3" y="106.7" width="3.5" height="3.5" fill="#888888"/>
<rect x="146.7" y="106.7" width="3.5" height="3.5" fill="#9c9c9c"/>
<rect x="150.0" y="106.7" width="3.5" height="3.5" fill="#a8a8a8"/>
<rect x="153.3" y="106.7" width="3.5" height="3.5" fill="#b0b0b0"/>
<rect x="156.7" y="106.7" width="3.5" height="3.5" fill="#b8b8b8"/>
<rect x="160.0" y="106.7" width="3.5" height="3.5" fill="#c0c0c0"/>
<rect x="163.3" y="106.7" width="3.5" height="3.5" fill="#c8c8c8"/>
<rect x="166.7" y="106.7" width="3.5" height="3.5" fill="#c4c4c4"/>
<rect x="170.0" y="106.7" width="3.5" height="3.5" fill="#bcbcbc"/>
<rect x="173.3" y="106.7" width="3.5" height="3.5" fill="#b0b0b0"/>
<rect x="176.7" y="106.7" width="3.5" height="3.5" fill="#9c9c9c"/>
<rect x="180.0" y="106.7" width="3.5" height="3.5" fill="#848484"/>
<rect x="183.3" y="106.7" width="3.5" height="3.5" fill="#707070"/>
<rect x="186.7" y="106.7" width="3.5" height="3.5" fill="#646464"/>
<rect x="190.0" y="106.7" width="3.5" height="3.5" fill="#5c5c5c"/>
<rect x="193.3" y="106.7" width="6.9" height="3.5" fill="#545454"/>
<rect x="200.0" y="106.7" width="3.5" height="3.5" fill="#505050"/>
<rect x="203.3" y="106.7" width="3.5" height="3.5" fill="#4c4c4c"/>
<rect x="206.7" y="106.7" width="3.5" height="3.5" fill="#444444"/>
<rect x="210.0" y="106.7" width="6.9" height="3.5" fill="#404040"/>
<rect x="216.7" y="106.7" width="3.5" height="3.5" fill="#484848"/>
<rect x="220.0" y="106.7" width="3.5" height="3.5" fill="#545454"/>
<rect x="223.3" y="106.7" width="3.5" height="3.5" fill="#606060"/>
<rect x="226.7" y="106.7" width="3.5" height="3.5" fill="#6c6c6c"/>
<rect x="230.0" y="106.7" width="3.5" height="3.5" fill="#787878"/>
<rect x="233.3" y="106.7" width="3.5" height="3.5" fill="#7c7c7c"/>
<rect x="236.7" y="106.7" width="3.5" height="3.5" fill="#808080"/>
<rect x="240.0" y="106.7" width="6.9" height="3.5" fill="#7c7c7c"/>
<rect x="246.7" y="106.7" width="3.5" height="3.5" fill="#787878"/>
<rect x="250.0" y="106.7" width="3.5" height="3.5" fill="#747474"/>
<rect x="253.3" y="106.7" width="3.5" height="3.5" fill="#707070"/>
<rect x="256.7" y="106.7" width="6.9" height="3.5" fill="#6c6c6c"/>
<rect x="263.3" y="106.7" width="3.5" height="3.5" fill="#646464"/>
<rect x="266.7" y="106.7" width="3.5" height="3.5" fill="#606060"/>
<rect x="270.0" y="106.7" width="3.5" height="3.5" fill="#5c5c5c"/>
<rect x="273.3" y="106.7" width="3.5" height="3.5" fill="#585858"/>
<rect x="276.7" y="106.7" width="3.5" height="3.5" fill="#545454"/>
<rect x="280.0" y="106.7" width="3.5" height="3.5" fill="#505050"/>
<rect x="283.3" y="106.7" width="3.5" height="3.5" fill="#4c4c4c"/>
<rect x="286.7" y="106.7" width="3.5" height="3.5" fill="#444444"/>
<rect x="290.0" y="106.7" width="3.5" height="3.5" fill="#3c3c3c"/>
<rect x="293.3" y="106.7" width="3.5" height="3.5" fill="#343434"/>
<rect x="296.7" y="106.7" width="3.5" height="3.5" fill="#282828"/>
<rect x="300.0" y="106.7" width="3.5" height="3.5" fill="#202020"/>
<rect x="303.3" y="106.7" width="3.5" height="3.5" fill="#141414"/>
<rect x="306.7" y="106.7" width="3.5" height="3.5" fill="#0c0c0c"/>
<rect x="310.0" y="106.7" width="3.5" height="3.5" fill="#040404"/>
<rect x="126.7" y="110.0" width="3.5" height="3.5" fill="#040404"/>
<rect x="130.0" y="110.0" width="3.5" height="3.5" fill="#101010"/>
<rect x="133.3" y="110.0" width="3.5" height="3.5" fill="#282828"/>
<rect x="136.7" y="110.0" width="3.5" height="3.5" fill="#444444"/>
<rect x="140.0" y="110.0" width="3.5" height="3.5" fill="#686868"/>
<rect x="143.3" y="110.0" width="3.5" height="3.5" fill="#888888"/>
<rect x="146.7" y="110.0" width="3.5" height="3.5" fill="#989898"/>
<rect x="150.0" y="110.0" width="3.5" height="3.5" fill="#a4a4a4"/>
<rect x="153.3" y="110.0" width="3.5" height="3.5" fill="#acacac"/>
<rect x="156.7" y="110.0" width="3.5" height="3.5" fill="#b4b4b4"/>
<rect x="160.0" y="110.0" width="3.5" height="3.5" fill="#bcbcbc"/>
<rect x="163.3" y="110.0" width="3.5" height="3.5" fill="#c4c4c4"/>
<rect x="166.7" y="110.0" width="3.5" height="3.5" fill="#c0c0c0"/>
<rect x="170.0" y="110.0" width="3.5" height="3.5" fill="#b8b8b8"/>
<rect x="173.3" y="110.0" width="3.5" height="3.5" fill="#a8a8a8"/>
<rect x="176.7" y="110.0" width="3.5" height="3.5" fill="#949494"/>
<rect x="180.0" y="110.0" width="3.5" height="3.5" fill="#808080"/>
<rect x="183.3" y="110.0" width="3.5" height="3.5" fill="#707070"/>
<rect x="186.7" y="110.0" width="3.5" height="3.5" fill="#606060"/>
<rect x="190.0" y="110.0" width="3.5" height="3.5" fill="#585858"/>
<rect x="193.3" y="110.0" width="3.5" height="3.5" fill="#545454"/>
<rect x="196.7" y="110.0" width="3.5" height="3.5" fill="#505050"/>
<rect x="200.0" y="110.0" width="3.5" height="3.5" fill="#4c4c4c"/>
<rect x="203.3" y="110.0" width="3.5" height="3.5" fill="#484848"/>
<rect x="206.7" y="110.0" width="10.2" height="3.5" fill="#444444"/>
<rect x="216.7" y="110.0" width="3.5" height="3.5" fill="#4c4c4c"/>
<rect x="220.0" y="110.0" width="3.5" height="3.5" fill="#585858"/>
<rect x="223.3" y="110.0" width="3.5" height="3.5" fill="#646464"/>
<rect x="226.7" y="110.0" width="3.5" height="3.5" fill="#686868"/>
<rect x="230.0" y="110.0" width="3.5" height="3.5" fill="#6c6c6c"/>
<rect x="233.3" y="110.0" width="6.9" height="3.5" fill="#707070"/>
<rect x="240.0" y="110.0" width="3.5" height="3.5" fill="#747474"/>
<rect x="243.3" y="110.0" width="10.2" height="3.5" fill="#707070"/>
<rect x="253.3" y="110.0" width="6.9" height="3.5" fill="#6c6c6c"/>
<rect x="260.0" y="110.0" width="3.5" height="3.5" fill="#686868"/>
<rect x="263.3" y="110.0" width="3.5" height="3.5" fill="#646464"/>
<rect x="266.7" y="110.0" width="3.5" height="3.5" fill="#606060"/>
<rect x="270.0" y="110.0" width="3.5" height="3.5" fill="#5c5c5c"/>
<rect x="273.3" y="110.0" width="6.9" height="3.5" fill="#585858"/>
<rect x="280.0" y="110.0" width="3.5" height="3.5" fill="#545454"/>
<rect x="283.3" y="110.0" width="3.5" height="3.5" fill="#505050"/>
<rect x="286.7" y="110.0" width="3.5" height="3.5" fill="#484848"/>
<rect x="290.0" y="110.0" width="3.5" height="3.5" fill="#404040"/>
<rect x="293.3" y="110.0" width="3.5" height="3.5" fill="#383838"/>
<rect x="296.7" y="110.0" width="3.5" height="3.5" fill="#2c2c2c"/>
<rect x="300.0" y="110.0" width="3.5" height="3.5" fill="#242424"/>
<rect x="303.3" y="110.0" width="3.5" height="3.5" fill="#181818"/>
<rect x="306.7" y="110.0" width="3.5" height="3.5" fill="#0c0c0c"/>
<rect x="310.0" y="110.0" width="3.5" height="3.5" fill="#040404"/>
<rect x="126.7" y="113.3" width="3.5" height="3.5" fill="#040404"/>
<rect x="130.0" y="113.3" width="3.5" height="3.5" fill="#101010"/>
<rect x="133.3" y="113.3" width="3.5" height="3.5" fill="#242424"/>
<rect x="136.7" y="113.3" width="3.5" height="3.5" fill="#404040"/>
<rect x="140.0" y="113.3" width="3.5" height="3.5" fill="#646464"/>
<rect x="143.3" y="113.3" width="3.5" height="3.5" fill="#848484"/>
<rect x="146.7" y="113.3" width="3.5" height="3.5" fill="#989898"/>
<rect x="150.0" y="113.3" width="3.5" height="3.5" fill="#a4a4a4"/>
<rect x="153.3" y="113.3" width="3.5" height="3.5" fill="#acacac"/>
<rect x="156.7" y="113.3" width="3.5" height="3.5" fill="#b4b4b4"/>
<rect x="160.0" y="113.3" width="3.5" height="3.5" fill="#bcbcbc"/>
<rect x="163.3" y="113.3" width="6.9" height="3.5" fill="#c0c0c0"/>
<rect x="170.0" y="113.3" width="3.5" height="3.5" fill="#b4b4b4"/>
<rect x="173.3" y="113.3" width="3.5" height="3.5" fill="#a4a4a4"/>
<rect x="176.7" y="113.3" width="3.5" height="3.5" fill="#909090"/>
<rect x="180.0" y="113.3" width="3.5" height="3.5" fill="#7c7c7c"/>
<rect x="183.3" y="113.3" width="3.5" height="3.5" fill="#6c6c6c"/>
<rect x="186.7" y="113.3" width="3.5" height="3.5" fill="#606060"/>
<rect x="190.0" y="113.3" width="3.5" height="3.5" fill="#585858"/>
<rect x="193.3" y="113.3" width="6.9" height="3.5" fill="#505050"/>
<rect x="200.0" y="113.3" width="3.5" height="3.5" fill="#4c4c4c"/>
<rect x="203.3" y="113.3" width="3.5" height="3.5" fill="#484848"/>
<rect x="206.7" y="113.3" width="6.9" height="3.5" fill="#444444"/>
<rect x="213.3" y="113.3" width="3.5" height="3.5" fill="#484848"/>
<rect x="216.7" y="113.3" width="3.5" height="3.5" fill="#505050"/>
<rect x="220.0" y="113.3" width="3.5" height="3.5" fill="#585858"/>
<rect x="223.3" y="113.3" width="3.5" height="3.5" fill="#606060"/>
<rect x="226.7" y="113.3" width="6.9" height="3.5" fill="#646464"/>
<rect x="233.3" y="113.3" width="10.2" height="3.5" fill="#686868"/>
<rect x="243.3" y="113.3" width="16.9" height="3.5" fill="#6c6c6c"/>
<rect x="260.0" y="113.3" width="6.9" height="3.5" fill="#686868"/>
<rect x="266.7" y="113.3" width="3.5" height="3.5" fill="#646464"/>
<rect x="270.0" y="113.3" width="3.5" height="3.5" fill="#606060"/>
<rect x="273.3" y="113.3" width="3.5" height="3.5" fill="#5c5c5c"/>
<rect x="276.7" y="113.3" width="6.9" height="3.5" fill="#585858"/>
<rect x="283.3" y="113.3" width="3.5" height="3.5" fill="#505050"/>
<rect x="286.7" y="113.3" width="3.5" height="3.5" fill="#4c4c4c"/>
<rect x="290.0" y="113.3" width="3.5" height="3.5" fill="#444444"/>
<rect x="293.3" y="113.3" width="3.5" height="3.5" fill="#383838"/>
<rect x="296.7" y="113.3" width="3.5" height="3.5" fill="#303030"/>
<rect x="300.0" y="113.3" width="3.5" height="3.5" fill="#242424"/>
<rect x="303.3" y="113.3" width="3.5" height="3.5" fill="#181818"/>
<rect x="306.7" y="113.3" width="3.5" height="3.5" fill="#101010"/>
<rect x="310.0" y="113.3" width="3.5" height="3.5" fill="#040404"/>
<rect x="126.7" y="116.7" width="3.5" height="3.5" fill="#040404"/>
<rect x="130.0" y="116.7" width="3.5" height="3.5" fill="#0c0c0c"/>
<rect x="133.3" y="116.7" width="3.5" height="3.5" fill="#1c1c1c"/>
<rect x="136.7" y="116.7" width="3.5" height="3.5" fill="#3c3c3c"/>
<rect x="140.0" y="116.7" width="3.5" height="3.5" fill="#606060"/>
<rect x="143.3" y="116.7" width="3.5" height="3.5" fill="#848484"/>
<rect x="146.7" y="116.7" width="3.5" height="3.5" fill="#9c9c9c"/>
<rect x="150.0" y="116.7" width="3.5" height="3.5" fill="#a8a8a8"/>
<rect x="153.3" y="116.7" width="3.5" height="3.5" fill="#b0b0b0"/>
<rect x="156.7" y="116.7" width="3.5" height="3.5" fill="#b8b8b8"/>
<rect x="160.0" y="116.7" width="6.9" height="3.5" fill="#c0c0c0"/>
<rect x="166.7" y="116.7" width="3.5" height="3.5" fill="#bcbcbc"/>
<rect x="170.0" y="116.7" width="3.5" height="3.5" fill="#b4b4b4"/>
<rect x="173.3" y="116.7" width="3.5" height="3.5" fill="#a4a4a4"/>
<rect x="176.7" y="116.7" width="3.5" height="3.5" fill="#909090"/>
<rect x="180.0" y="116.7" width="3.5" height="3.5" fill="#787878"/>
<rect x="183.3" y="116.7" width="3.5" height="3.5" fill="#686868"/>
<rect x="186.7" y="116.7" width="3.5" height="3.5" fill="#5c5c5c"/>
<rect x="190.0" y="116.7" width="3.5" height="3.5" fill="#545454"/>
<rect x="193.3" y="116.7" width="3.5" height="3.5" fill="#505050"/>
<rect x="196.7" y="116.7" width="6.9" height="3.5" fill="#4c4c4c"/>
<rect x="203.3" y="116.7" width="3.5" height="3.5" fill="#484848"/>
<rect x="206.7" y="116.7" width="10.2" height="3.5" fill="#444444"/>
<rect x="216.7" y="116.7" width="3.5" height="3.5" fill="#484848"/>
<rect x="220.0" y="116.7" width="3.5" height="3.5" fill="#505050"/>
<rect x="223.3" y="116.7" width="3.5" height="3.5" fill="#585858"/>
<rect x="226.7" y="116.7" width="3.5" height="3.5" fill="#5c5c5c"/>
<rect x="230.0" y="116.7" width="10.2" height="3.5" fill="#606060"/>
<rect x="240.0" y="116.7" width="3.5" height="3.5" fill="#646464"/>
<rect x="243.3" y="116.7" width="6.9" height="3.5" fill="#686868"/>
<rect x="250.0" y="116.7" width="16.9" height="3.5" fill="#6c6c6c"/>
<rect x="266.7" y="116.7" width="3.5" height="3.5" fill="#686868"/>
<rect x="270.0" y="116.7" width="3.5" height="3.5" fill="#646464"/>
<rect x="273.3" y="116.7" width="3.5" height="3.5" fill="#606060"/>
<rect x="276.7" y="116.7" width="3.5" height="3.5" fill="#5c5c5c"/>
<rect x="280.0" y="116.7" width="3.5" height="3.5" fill="#585858"/>
<rect x="283.3" y="116.7" width="3.5" height="3.5" fill="#545454"/>
<rect x="286.7" y="116.7" width="3.5" height="3.5" fill="#4c4c4c"/>
<rect x="290.0" y="116.7" width="3.5" height="3.5" fill="#444444"/>
<rect x="293.3" y="116.7" width="3.5" height="3.5" fill="#3c3c3c"/>
<rect x="296.7" y="116.7" width="3.5" height="3.5" fill="#303030"/>
<rect x="300.0" y="116.7" width="3.5" height="3.5" fill="#282828"/>
<rect x="303.3" y="116.7" width="3.5" height="3.5" fill="#1c1c1c"/>
<rect x="306.7" y="116.7" width="3.5" height="3.5" fill="#101010"/>
<rect x="310.0" y="116.7" width="3.5" height="3.5" fill="#040404"/>
<rect x="130.0" y="120.0" width="3.5" height="3.5" fill="#040404"/>
<rect x="133.3" y="120.0" width="3.5" height="3.5" fill="#141414"/>
<rect x="136.7" y="120.0" width="3.5" height="3.5" fill="#343434"/>
<rect x="140.0" y="120.0" width="3.5" height="3.5" fill="#5c5c5c"/>
<rect x="143.3" y="120.0" width="3.5" height="3.5" fill="#808080"/>
<rect x="146.7" y="120.0" width="3.5" height="3.5" fill="#9c9c9c"/>
<rect x="150.0" y="120.0" width="3.5" height="3.5" fill="#b0b0b0"/>
<rect x="153.3" y="120.0" width="3.5" height="3.5" fill="#bcbcbc"/>
<rect x="156.7" y="120.0" width="3.5" height="3.5" fill="#c0c0c0"/>
<rect x="160.0" y="120.0" width="6.9" height="3.5" fill="#c4c4c4"/>
<rect x="166.7" y="120.0" width="3.5" height="3.5" fill="#bcbcbc"/>
<rect x="170.0" y="120.0" width="3.5" height="3.5" fill="#b0b0b0"/>
<rect x="173.3" y="120.0" width="3.5" height="3.5" fill="#a0a0a0"/>
<rect x="176.7" y="120.0" width="3.5" height="3.5" fill="#8c8c8c"/>
<rect x="180.0" y="120.0" width="3.5" height="3.5" fill="#787878"/>
<rect x="183.3" y="120.0" width="3.5" height="3.5" fill="#646464"/>
<rect x="186.7" y="120.0" width="3.5" height="3.5" fill="#585858"/>
<rect x="190.0" y="120.0" width="3.5" height="3.5" fill="#505050"/>
<rect x="193.3" y="120.0" width="6.9" height="3.5" fill="#4c4c4c"/>
<rect x="200.0" y="120.0" width="6.9" height="3.5" fill="#484848"/>
<rect x="206.7" y="120.0" width="3.5" height="3.5" fill="#444444"/>
<rect x="210.0" y="120.0" width="3.5" height="3.5" fill="#404040"/>
<rect x="213.3" y="120.0" width="3.5" height="3.5" fill="#3c3c3c"/>
<rect x="216.7" y="120.0" width="3.5" height="3.5" fill="#404040"/>
<rect x="220.0" y="120.0" width="3.5" height="3.5" fill="#484848"/>
<rect x="223.3" y="120.0" width="3.5" height="3.5" fill="#505050"/>
<rect x="226.7" y="120.0" width="3.5" height="3.5" fill="#545454"/>
<rect x="230.0" y="120.0" width="3.5" height="3.5" fill="#585858"/>
<rect x="233.3" y="120.0" width="3.5" height="3.5" fill="#5c5c5c"/>
<rect x="236.7" y="120.0" width="6.9" height="3.5" fill="#606060"/>
<rect x="243.3" y="120.0" width="3.5" height="3.5" fill="#646464"/>
<rect x="246.7" y="120.0" width="3.5" height="3.5" fill="#686868"/>
<rect x="250.0" y="120.0" width="3.5" height="3.5" fill="#6c6c6c"/>
<rect x="253.3" y="120.0" width="16.9" height="3.5" fill="#707070"/>
<rect x="270.0" y="120.0" width="3.5" height="3.5" fill="#6c6c6c"/>
<rect x="273.3" y="120.0" width="3.5" height="3.5" fill="#686868"/>
<rect x="276.7" y="120.0" width="3.5" height="3.5" fill="#606060"/>
<rect x="280.0" y="120.0" width="3.5" height="3.5" fill="#585858"/>
<rect x="283.3" y="120.0" width="3.5" height="3.5" fill="#505050"/>
<rect x="286.7" y="120.0" width="3.5" height="3.5" fill="#4c4c4c"/>
<rect x="290.0" y="120.0" width="3.5" height="3.5" fill="#444444"/>
<rect x="293.3" y="120.0" width="3.5" height="3.5" fill="#3c3c3c"/>
<rect x="296.7" y="120.0" width="3.5" height="3.5" fill="#343434"/>
<rect x="300.0" y="120.0" width="3.5" height="3.5" fill="#282828"/>
<rect x="303.3" y="120.0" width="3.5" height="3.5" fill="#1c1c1c"/>
<rect x="306.7" y="120.0" width="3.5" height="3.5" fill="#101010"/>
<rect x="310.0" y="120.0" width="3.5" height="3.5" fill="#040404"/>
<rect x="133.3" y="123.3" width="3.5" height="3.5" fill="#0c0c0c"/>
<rect x="136.7" y="123.3" width="3.5" height="3.5" fill="#282828"/>
<rect x="140.0" y="123.3" width="3.5" height="3.5" fill="#505050"/>
<rect x="143.3" y="123.3" width="3.5" height="3.5" fill="#7c7c7c"/>
<rect x="146.7" y="123.3" width="3.5" height="3.5" fill="#9c9c9c"/>
<rect x="150.0" y="123.3" width="3.5" height="3.5" fill="#b4b4b4"/>
<rect x="153.3" y="123.3" width="3.5" height="3.5" fill="#c0c0c0"/>
<rect x="156.7" y="123.3" width="6.9" height="3.5" fill="#c8c8c8"/>
<rect x="163.3" y="123.3" width="3.5" height="3.5" fill="#c0c0c0"/>
<rect x="166.7" y="123.3" width="3.5" height="3.5" fill="#b8b8b8"/>
<rect x="170.0" y="123.3" width="3.5" height="3.5" fill="#acacac"/>
<rect x="173.3" y="123.3" width="3.5" height="3.5" fill="#9c9c9c"/>
<rect x="176.7" y="123.3" width="3.5" height="3.5" fill="#888888"/>
<rect x="180.0" y="123.3" width="3.5" height="3.5" fill="#747474"/>
<rect x="183.3" y="123.3" width="3.5" height="3.5" fill="#606060"/>
<rect x="186.7" y="123.3" width="3.5" height="3.5" fill="#545454"/>
<rect x="190.0" y="123.3" width="3.5" height="3.5" fill="#4c4c4c"/>
<rect x="193.3" y="123.3" width="6.9" height="3.5" fill="#484848"/>
<rect x="200.0" y="123.3" width="6.9" height="3.5" fill="#444444"/>
<rect x="206.7" y="123.3" width="3.5" height="3.5" fill="#404040"/>
<rect x="210.0" y="123.3" width="3.5" height="3.5" fill="#3c3c3c"/>
<rect x="213.3" y="123.3" width="3.5" height="3.5" fill="#383838"/>
<rect x="216.7" y="123.3" width="3.5" height="3.5" fill="#3c3c3c"/>
<rect x="220.0" y="123.3" width="3.5" height="3.5" fill="#404040"/>
<rect x="223.3" y="123.3" width="3.5" height="3.5" fill="#484848"/>
<rect x="226.7" y="123.3" width="3.5" height="3.5" fill="#505050"/>
<rect x="230.0" y="123.3" width="3.5" height="3.5" fill="#545454"/>
<rect x="233.3" y="123.3" width="6.9" height="3.5" fill="#585858"/>
<rect x="240.0" y="123.3" width="3.5" height="3.5" fill="#5c5c5c"/>
<rect x="243.3" y="123.3" width="3.5" height="3.5" fill="#606060"/>
<rect x="246.7" y="123.3" width="3.5" height="3.5" fill="#686868"/>
<rect x="250.0" y="123.3" width="3.5" height="3.5" fill="#6c6c6c"/>
<rect x="253.3" y="123.3" width="20.2" height="3.5" fill="#707070"/>
<rect x="273.3" y="123.3" width="3.5" height="3.5" fill="#6c6c6c"/>
<rect x="276.7" y="123.3" width="3.5" height="3.5" fill="#606060"/>
<rect x="280.0" y="123.3" width="3.5" height="3.5" fill="#585858"/>
<rect x="283.3" y="123.3" width="3.5" height="3.5" fill="#4c4c4c"/>
<rect x="286.7" y="123.3" width="3.5" height="3.5" fill="#484848"/>
<rect x="290.0" y="123.3" width="3.5" height="3.5" fill="#444444"/>
<rect x="293.3" y="123.3" width="3.5" height="3.5" fill="#404040"/>
<rect x="296.7" y="123.3" width="3.5" height="3.5" fill="#343434"/>
<rect x="300.0" y="123.3" width="3.5" height="3.5" fill="#282828"/>
<rect x="303.3" y="123.3" width="3.5" height="3.5" fill="#181818"/>
<rect x="306.7" y="123.3" width="3.5" height="3.5" fill="#0c0c0c"/>
<rect x="310.0" y="123.3" width="3.5" height="3.5" fill="#040404"/>
<rect x="133.3" y="126.7" width="3.5" height="3.5" fill="#080808"/>
<rect x="136.7" y="126.7" width="3.5" height="3.5" fill="#202020"/>
<rect x="140.0" y="126.7" width="3.5" height="3.5" fill="#484848"/>
<rect x="143.3" y="126.7" width="3.5" height="3.5" fill="#707070"/>
<rect x="146.7" y="126.7" width="3.5" height="3.5" fill="#949494"/>
<rect x="150.0" y="126.7" width="3.5" height="3.5" fill="#b0b0b0"/>
<rect x="153.3" y="126.7" width="3.5" height="3.5" fill="#c0c0c0"/>
<rect x="156.7" y="126.7" width="3.5" height="3.5" fill="#c8c8c8"/>
<rect x="160.0" y="126.7" width="3.5" height="3.5" fill="#c4c4c4"/>
<rect x="163.3" y="126.7" width="3.5" height="3.5" fill="#bcbcbc"/>
<rect x="166.7" y="126.7" width="3.5" height="3.5" fill="#b0b0b0"/>
<rect x="170.0" y="126.7" width="3.5" height="3.5" fill="#a0a0a0"/>
<rect x="173.3" y="126.7" width="3.5" height="3.5" fill="#909090"/>
<rect x="176.7" y="126.7" width="3.5" height="3.5" fill="#808080"/>
<rect x="180.0" y="126.7" width="3.5" height="3.5" fill="#6c6c6c"/>
<rect x="183.3" y="126.7" width="3.5" height="3.5" fill="#5c5c5c"/>
<rect x="186.7" y="126.7" width="3.5" height="3.5" fill="#505050"/>
<rect x="190.0" y="126.7" width="3.5" height="3.5" fill="#484848"/>
<rect x="193.3" y="126.7" width="3.5" height="3.5" fill="#404040"/>
<rect x="196.7" y="126.7" width="20.2" height="3.5" fill="#3c3c3c"/>
<rect x="216.7" y="126.7" width="3.5" height="3.5" fill="#404040"/>
<rect x="220.0" y="126.7" width="3.5" height="3.5" fill="#444444"/>
<rect x="223.3" y="126.7" width="3.5" height="3.5" fill="#484848"/>
<rect x="226.7" y="126.7" width="6.9" height="3.5" fill="#4c4c4c"/>
<rect x="233.3" y="126.7" width="3.5" height="3.5" fill="#505050"/>
<rect x="236.7" y="126.7" width="3.5" height="3.5" fill="#545454"/>
<rect x="240.0" y="126.7" width="3.5" height="3.5" fill="#585858"/>
<rect x="243.3" y="126.7" width="3.5" height="3.5" fill="#5c5c5c"/>
<rect x="246.7" y="126.7" width="3.5" height="3.5" fill="#606060"/>
<rect x="250.0" y="126.7" width="3.5" height="3.5" fill="#686868"/>
<rect x="253.3" y="126.7" width="20.2" height="3.5" fill="#6c6c6c"/>
<rect x="273.3" y="126.7" width="3.5" height="3.5" fill="#686868"/>
<rect x="276.7" y="126.7" width="3.5" height="3.5" fill="#5c5c5c"/>
<rect x="280.0" y="126.7" width="3.5" height="3.5" fill="#505050"/>
<rect x="283.3" y="126.7" width="3.5" height="3.5" fill="#484848"/>
<rect x="286.7" y="126.7" width="6.9" height="3.5" fill="#444444"/>
<rect x="293.3" y="126.7" width="3.5" height="3.5" fill="#404040"/>
<rect x="296.7" y="126.7" width="3.5" height="3.5" fill="#383838"/>
<rect x="300.0" y="126.7" width="3.5" height="3.5" fill="#282828"/>
<rect x="303.3" y="126.7" width="3.5" height="3.5" fill="#1c1c1c"/>
<rect x="306.7" y="126.7" width="3.5" height="3.5" fill="#101010"/>
<rect x="310.0" y="126.7" width="3.5" height="3.5" fill="#040404"/>
<rect x="133.3" y="130.0" width="3.5" height="3.5" fill="#040404"/>
<rect x="136.7" y="130.0" width="3.5" height="3.5" fill="#181818"/>
<rect x="140.0" y="130.0" width="3.5" height="3.5" fill="#3c3c3c"/>
<rect x="143.3" y="130.0" width="3.5" height="3.5" fill="#606060"/>
<rect x="146.7" y="130.0" width="3.5" height="3.5" fill="#888888"/>
<rect x="150.0" y="130.0" width="3.5" height="3.5" fill="#a8a8a8"/>
<rect x="153.3" y="130.0" width="3.5" height="3.5" fill="#bcbcbc"/>
<rect x="156.7" y="130.0" width="3.5" height="3.5" fill="#c4c4c4"/>
<rect x="160.0" y="130.0" width="3.5" height="3.5" fill="#bcbcbc"/>
<rect x="163.3" y="130.0" width="3.5" height="3.5" fill="#b0b0b0"/>
<rect x="166.7" y="130.0" width="3.5" height="3.5" fill="#a4a4a4"/>
<rect x="170.0" y="130.0" width="3.5" height="3.5" fill="#949494"/>
<rect x="173.3" y="130.0" width="3.5" height="3.5" fill="#888888"/>
<rect x="176.7" y="130.0" width="3.5" height="3.5" fill="#787878"/>
<rect x="180.0" y="130.0" width="3.5" height="3.5" fill="#686868"/>
<rect x="183.3" y="130.0" width="3.5" height="3.5" fill="#5c5c5c"/>
<rect x="186.7" y="130.0" width="3.5" height="3.5" fill="#4c4c4c"/>
<rect x="190.0" y="130.0" width="3.5" height="3.5" fill="#404040"/>
<rect x="193.3" y="130.0" width="3.5" height="3.5" fill="#383838"/>
<rect x="196.7" y="130.0" width="10.2" height="3.5" fill="#343434"/>
<rect x="206.7" y="130.0" width="3.5" height="3.5" fill="#383838"/>
<rect x="210.0" y="130.0" width="3.5" height="3.5" fill="#404040"/>
<rect x="213.3" y="130.0" width="3.5" height="3.5" fill="#444444"/>
<rect x="216.7" y="130.0" width="3.5" height="3.5" fill="#484848"/>
<rect x="220.0" y="130.0" width="10.2" height="3.5" fill="#4c4c4c"/>
<rect x="230.0" y="130.0" width="10.2" height="3.5" fill="#484848"/>
<rect x="240.0" y="130.0" width="3.5" height="3.5" fill="#505050"/>
<rect x="243.3" y="130.0" width="3.5" height="3.5" fill="#545454"/>
<rect x="246.7" y="130.0" width="3.5" height="3.5" fill="#5c5c5c"/>
<rect x="250.0" y="130.0" width="20.2" height="3.5" fill="#606060"/>
<rect x="270.0" y="130.0" width="3.5" height="3.5" fill="#646464"/>
<rect x="273.3" y="130.0" width="3.5" height="3.5" fill="#606060"/>
<rect x="276.7" y="130.0" width="3.5" height="3.5" fill="#585858"/>
<rect x="280.0" y="130.0" width="3.5" height="3.5" fill="#4c4c4c"/>
<rect x="283.3" y="130.0" width="3.5" height="3.5" fill="#444444"/>
<rect x="286.7" y="130.0" width="3.5" height="3.5" fill="#404040"/>
<rect x="290.0" y="130.0" width="3.5" height="3.5" fill="#444444"/>
<rect x="293.3" y="130.0" width="3.5" height="3.5" fill="#404040"/>
<rect x="296.7" y="130.0" width="3.5" height="3.5" fill="#383838"/>
<rect x="300.0" y="130.0" width="3.5" height="3.5" fill="#2c2c2c"/>
<rect x="303.3" y="130.0" width="3.5" height="3.5" fill="#1c1c1c"/>
<rect x="306.7" y="130.0" width="3.5" height="3.5" fill="#101010"/>
<rect x="310.0" y="130.0" width="3.5" height="3.5" fill="#040404"/>
<rect x="133.3" y="133.3" width="3.5" height="3.5" fill="#040404"/>
<rect x="136.7" y="133.3" width="3.5" height="3.5" fill="#141414"/>
<rect x="140.0" y="133.3" width="3.5" height="3.5" fill="#2c2c2c"/>
<rect x="143.3" y="133.3" width="3.5" height="3.5" fill="#505050"/>
<rect x="146.7" y="133.3" width="3.5" height="3.5" fill="#787878"/>
<rect x="150.0" y="133.3" width="3.5" height="3.5" fill="#9c9c9c"/>
<rect x="153.3" y="133.3" width="3.5" height="3.5" fill="#b4b4b4"/>
<rect x="156.7" y="133.3" width="3.5" height="3.5" fill="#bcbcbc"/>
<rect x="160.0" y="133.3" width="3.5" height="3.5" fill="#b4b4b4"/>
<rect x="163.3" y="133.3" width="3.5" height="3.5" fill="#a4a4a4"/>
<rect x="166.7" y="133.3" width="3.5" height="3.5" fill="#989898"/>
<rect x="170.0" y="133.3" width="3.5" height="3.5" fill="#888888"/>
<rect x="173.3" y="133.3" width="3.5" height="3.5" fill="#7c7c7c"/>
<rect x="176.7" y="133.3" width="3.5" height="3.5" fill="#707070"/>
<rect x="180.0" y="133.3" width="3.5" height="3.5" fill="#646464"/>
<rect x="183.3" y="133.3" width="3.5" height="3.5" fill="#585858"/>
<rect x="186.7" y="133.3" width="3.5" height="3.5" fill="#4c4c4c"/>
<rect x="190.0" y="133.3" width="3.5" height="3.5" fill="#404040"/>
<rect x="193.3" y="133.3" width="3.5" height="3.5" fill="#343434"/>
<rect x="196.7" y="133.3" width="3.5" height="3.5" fill="#303030"/>
<rect x="200.0" y="133.3" width="3.5" height="3.5" fill="#2c2c2c"/>
<rect x="203.3" y="133.3" width="3.5" height="3.5" fill="#303030"/>
<rect x="206.7" y="133.3" width="3.5" height="3.5" fill="#383838"/>
<rect x="210.0" y="133.3" width="3.5" height="3.5" fill="#444444"/>
<rect x="213.3" y="133.3" width="3.5" height="3.5" fill="#4c4c4c"/>
<rect x="216.7" y="133.3" width="6.9" height="3.5" fill="#545454"/>
<rect x="223.3" y="133.3" width="3.5" height="3.5" fill="#505050"/>
<rect x="226.7" y="133.3" width="3.5" height="3.5" fill="#4c4c4c"/>
<rect x="230.0" y="133.3" width="3.5" height="3.5" fill="#444444"/>
<rect x="233.3" y="133.3" width="6.9" height="3.5" fill="#404040"/>
<rect x="240.0" y="133.3" width="3.5" height="3.5" fill="#484848"/>
<rect x="243.3" y="133.3" width="3.5" height="3.5" fill="#4c4c4c"/>
<rect x="246.7" y="133.3" width="3.5" height="3.5" fill="#505050"/>
<rect x="250.0" y="133.3" width="3.5" height="3.5" fill="#545454"/>
<rect x="253.3" y="133.3" width="13.5" height="3.5" fill="#505050"/>
<rect x="266.7" y="133.3" width="3.5" height="3.5" fill="#545454"/>
<rect x="270.0" y="133.3" width="6.9" height="3.5" fill="#585858"/>
<rect x="276.7" y="133.3" width="3.5" height="3.5" fill="#505050"/>
<rect x="280.0" y="133.3" width="3.5" height="3.5" fill="#484848"/>
<rect x="283.3" y="133.3" width="13.5" height="3.5" fill="#444444"/>
<rect x="296.7" y="133.3" width="3.5" height="3.5" fill="#3c3c3c"/>
<rect x="300.0" y="133.3" width="3.5" height="3.5" fill="#2c2c2c"/>
<rect x="303.3" y="133.3" width="3.5" height="3.5" fill="#202020"/>
<rect x="306.7" y="133.3" width="3.5" height="3.5" fill="#101010"/>
<rect x="310.0" y="133.3" width="3.5" height="3.5" fill="#040404"/>
<rect x="136.7" y="136.7" width="3.5" height="3.5" fill="#0c0c0c"/>
<rect x="140.0" y="136.7" width="3.5" height="3.5" fill="#242424"/>
<rect x="143.3" y="136.7" width="3.5" height="3.5" fill="#444444"/>
<rect x="146.7" y="136.7" width="3.5" height="3.5" fill="#6c6c6c"/>
<rect x="150.0" y="136.7" width="3.5" height="3.5" fill="#909090"/>
<rect x="153.3" y="136.7" width="3.5" height="3.5" fill="#acacac"/>
<rect x="156.7" y="136.7" width="3.5" height="3.5" fill="#b4b4b4"/>
<rect x="160.0" y="136.7" width="3.5" height="3.5" fill="#a8a8a8"/>
<rect x="163.3" y="136.7" width="3.5" height="3.5" fill="#989898"/>
<rect x="166.7" y="136.7" width="3.5" height="3.5" fill="#888888"/>
<rect x="170.0" y="136.7" width="3.5" height="3.5" fill="#7c7c7c"/>
<rect x="173.3" y="136.7" width="3.5" height="3.5" fill="#707070"/>
<rect x="176.7" y="136.7" width="3.5" height="3.5" fill="#686868"/>
<rect x="180.0" y="136.7" width="3.5" height="3.5" fill="#5c5c5c"/>
<rect x="183.3" y="136.7" width="3.5" height="3.5" fill="#545454"/>
<rect x="186.7" y="136.7" width="3.5" height="3.5" fill="#4c4c4c"/>
<rect x="190.0" y="136.7" width="3.5" height="3.5" fill="#404040"/>
<rect x="193.3" y="136.7" width="3.5" height="3.5" fill="#383838"/>
<rect x="196.7" y="136.7" width="6.9" height="3.5" fill="#303030"/>
<rect x="203.3" y="136.7" width="3.5" height="3.5" fill="#343434"/>
<rect x="206.7" y="136.7" width="3.5" height="3.5" fill="#3c3c3c"/>
<rect x="210.0" y="136.7" width="3.5" height="3.5" fill="#484848"/>
<rect x="213.3" y="136.7" width="3.5" height="3.5" fill="#505050"/>
<rect x="216.7" y="136.7" width="6.9" height="3.5" fill="#585858"/>
<rect x="223.3" y="136.7" width="3.5" height="3.5" fill="#545454"/>
<rect x="226.7" y="136.7" width="3.5" height="3.5" fill="#4c4c4c"/>
<rect x="230.0" y="136.7" width="3.5" height="3.5" fill="#404040"/>
<rect x="233.3" y="136.7" width="6.9" height="3.5" fill="#383838"/>
<rect x="240.0" y="136.7" width="3.5" height="3.5" fill="#404040"/>
<rect x="243.3" y="136.7" width="10.2" height="3.5" fill="#444444"/>
<rect x="253.3" y="136.7" width="10.2" height="3.5" fill="#404040"/>
<rect x="263.3" y="136.7" width="3.5" height="3.5" fill="#444444"/>
<rect x="266.7" y="136.7" width="3.5" height="3.5" fill="#484848"/>
<rect x="270.0" y="136.7" width="3.5" height="3.5" fill="#4c4c4c"/>
<rect x="273.3" y="136.7" width="6.9" height="3.5" fill="#505050"/>
<rect x="280.0" y="136.7" width="3.5" height="3.5" fill="#4c4c4c"/>
<rect x="283.3" y="136.7" width="6.9" height="3.5" fill="#484848"/>
<rect x="290.0" y="136.7" width="3.5" height="3.5" fill="#4c4c4c"/>
<rect x="293.3" y="136.7" width="3.5" height="3.5" fill="#484848"/>
<rect x="296.7" y="136.7" width="3.5" height="3.5" fill="#3c3c3c"/>
<rect x="300.0" y="136.7" width="3.5" height="3.5" fill="#303030"/>
<rect x="303.3" y="136.7" width="3.5" height="3.5" fill="#202020"/>
<rect x="306.7" y="136.7" width="3.5" height="3.5" fill="#101010"/>
<rect x="310.0" y="136.7" width="3.5" height="3.5" fill="#040404"/>
<rect x="136.7" y="140.0" width="3.5" height="3.5" fill="#080808"/>
<rect x="140.0" y="140.0" width="3.5" height="3.5" fill="#181818"/>
<rect x="143.3" y="140.0" width="3.5" height="3.5" fill="#343434"/>
<rect x="146.7" y="140.0" width="3.5" height="3.5" fill="#5c5c5c"/>
<rect x="150.0" y="140.0" width="3.5" height="3.5" fill="#848484"/>
<rect x="153.3" y="140.0" width="3.5" height="3.5" fill="#a4a4a4"/>
<rect x="156.7" y="140.0" width="3.5" height="3.5" fill="#a8a8a8"/>
<rect x="160.0" y="140.0" width="3.5" height="3.5" fill="#a0a0a0"/>
<rect x="163.3" y="140.0" width="3.5" height="3.5" fill="#909090"/>
<rect x="166.7" y="140.0" width="3.5" height="3.5" fill="#808080"/>
<rect x="170.0" y="140.0" width="3.5" height="3.5" fill="#707070"/>
<rect x="173.3" y="140.0" width="3.5" height="3.5" fill="#686868"/>
<rect x="176.7" y="140.0" width="3.5" height="3.5" fill="#606060"/>
<rect x="180.0" y="140.0" width="3.5" height="3.5" fill="#585858"/>
<rect x="183.3" y="140.0" width="3.5" height="3.5" fill="#545454"/>
<rect x="186.7" y="140.0" width="3.5" height="3.5" fill="#4c4c4c"/>
<rect x="190.0" y="140.0" width="3.5" height="3.5" fill="#444444"/>
<rect x="193.3" y="140.0" width="3.5" height="3.5" fill="#404040"/>
<rect x="196.7" y="140.0" width="10.2" height="3.5" fill="#3c3c3c"/>
<rect x="206.7" y="140.0" width="3.5" height="3.5" fill="#444444"/>
<rect x="210.0" y="140.0" width="3.5" height="3.5" fill="#4c4c4c"/>
<rect x="213.3" y="140.0" width="3.5" height="3.5" fill="#545454"/>
<rect x="216.7" y="140.0" width="6.9" height="3.5" fill="#5c5c5c"/>
<rect x="223.3" y="140.0" width="3.5" height="3.5" fill="#545454"/>
<rect x="226.7" y="140.0" width="3.5" height="3.5" fill="#484848"/>
<rect x="230.0" y="140.0" width="3.5" height="3.5" fill="#3c3c3c"/>
<rect x="233.3" y="140.0" width="6.9" height="3.5" fill="#343434"/>
<rect x="240.0" y="140.0" width="3.5" height="3.5" fill="#383838"/>
<rect x="243.3" y="140.0" width="6.9" height="3.5" fill="#404040"/>
<rect x="250.0" y="140.0" width="3.5" height="3.5" fill="#3c3c3c"/>
<rect x="253.3" y="140.0" width="3.5" height="3.5" fill="#383838"/>
<rect x="256.7" y="140.0" width="6.9" height="3.5" fill="#343434"/>
<rect x="263.3" y="140.0" width="3.5" height="3.5" fill="#383838"/>
<rect x="266.7" y="140.0" width="3.5" height="3.5" fill="#3c3c3c"/>
<rect x="270.0" y="140.0" width="3.5" height="3.5" fill="#444444"/>
<rect x="273.3" y="140.0" width="3.5" height="3.5" fill="#4c4c4c"/>
<rect x="276.7" y="140.0" width="6.9" height="3.5" fill="#505050"/>
<rect x="283.3" y="140.0" width="6.9" height="3.5" fill="#545454"/>
<rect x="290.0" y="140.0" width="3.5" height="3.5" fill="#505050"/>
<rect x="293.3" y="140.0" width="3.5" height="3.5" fill="#4c4c4c"/>
<rect x="296.7" y="140.0" width="3.5" height="3.5" fill="#404040"/>
<rect x="300.0" y="140.0" width="3.5" height="3.5" fill="#303030"/>
<rect x="303.3" y="140.0" width="3.5" height="3.5" fill="#202020"/>
<rect x="306.7" y="140.0" width="3.5" height="3.5" fill="#101010"/>
<rect x="310.0" y="140.0" width="3.5" height="3.5" fill="#040404"/>
<rect x="136.7" y="143.3" width="3.5" height="3.5" fill="#040404"/>
<rect x="140.0" y="143.3" width="3.5" height="3.5" fill="#101010"/>
<rect x="143.3" y="143.3" width="3.5" height="3.5" fill="#282828"/>
<rect x="146.7" y="143.3" width="3.5" height="3.5" fill="#4c4c4c"/>
<rect x="150.0" y="143.3" width="3.5" height="3.5" fill="#787878"/>
<rect x="153.3" y="143.3" width="3.5" height="3.5" fill="#949494"/>
<rect x="156.7" y="143.3" width="3.5" height="3.5" fill="#9c9c9c"/>
<rect x="160.0" y="143.3" width="3.5" height="3.5" fill="#949494"/>
<rect x="163.3" y="143.3" width="3.5" height="3.5" fill="#848484"/>
<rect x="166.7" y="143.3" width="3.5" height="3.5" fill="#787878"/>
<rect x="170.0" y="143.3" width="3.5" height="3.5" fill="#686868"/>
<rect x="173.3" y="143.3" width="3.5" height="3.5" fill="#606060"/>
<rect x="176.7" y="143.3" width="3.5" height="3.5" fill="#5c5c5c"/>
<rect x="180.0" y="143.3" width="6.9" height="3.5" fill="#585858"/>
<rect x="186.7" y="143.3" width="3.5" height="3.5" fill="#545454"/>
<rect x="190.0" y="143.3" width="3.5" height="3.5" fill="#505050"/>
<rect x="193.3" y="143.3" width="3.5" height="3.5" fill="#4c4c4c"/>
<rect x="196.7" y="143.3" width="10.2" height="3.5" fill="#484848"/>
<rect x="206.7" y="143.3" width="3.5" height="3.5" fill="#4c4c4c"/>
<rect x="210.0" y="143.3" width="3.5" height="3.5" fill="#505050"/>
<rect x="213.3" y="143.3" width="3.5" height="3.5" fill="#585858"/>
<rect x="216.7" y="143.3" width="6.9" height="3.5" fill="#5c5c5c"/>
<rect x="223.3" y="143.3" width="3.5" height="3.5" fill="#585858"/>
<rect x="226.7" y="143.3" width="3.5" height="3.5" fill="#4c4c4c"/>
<rect x="230.0" y="143.3" width="3.5" height="3.5" fill="#3c3c3c"/>
<rect x="233.3" y="143.3" width="6.9" height="3.5" fill="#343434"/>
<rect x="240.0" y="143.3" width="3.5" height="3.5" fill="#383838"/>
<rect x="243.3" y="143.3" width="6.9" height="3.5" fill="#404040"/>
<rect x="250.0" y="143.3" width="3.5" height="3.5" fill="#3c3c3c"/>
<rect x="253.3" y="143.3" width="6.9" height="3.5" fill="#383838"/>
<rect x="260.0" y="143.3" width="6.9" height="3.5" fill="#343434"/>
<rect x="266.7" y="143.3" width="3.5" height="3.5" fill="#383838"/>
<rect x="270.0" y="143.3" width="3.5" height="3.5" fill="#404040"/>
<rect x="273.3" y="143.3" width="3.5" height="3.5" fill="#484848"/>
<rect x="276.7" y="143.3" width="3.5" height="3.5" fill="#505050"/>
<rect x="280.0" y="143.3" width="3.5" height="3.5" fill="#545454"/>
<rect x="283.3" y="143.3" width="6.9" height="3.5" fill="#585858"/>
<rect x="290.0" y="143.3" width="3.5" height="3.5" fill="#545454"/>
<rect x="293.3" y="143.3" width="3.5" height="3.5" fill="#4c4c4c"/>
<rect x="296.7" y="143.3" width="3.5" height="3.5" fill="#404040"/>
<rect x="300.0" y="143.3" width="3.5" height="3.5" fill="#303030"/>
<rect x="303.3" y="143.3" width="3.5" height="3.5" fill="#202020"/>
<rect x="306.7" y="143.3" width="3.5" height="3.5" fill="#101010"/>
<rect x="310.0" y="143.3" width="3.5" height="3.5" fill="#040404"/>
<rect x="140.0" y="146.7" width="3.5" height="3.5" fill="#080808"/>
<rect x="143.3" y="146.7" width="3.5" height="3.5" fill="#1c1c1c"/>
<rect x="146.7" y="146.7" width="3.5" height="3.5" fill="#3c3c3c"/>
<rect x="150.0" y="146.7" width="3.5" height="3.5" fill="#646464"/>
<rect x="153.3" y="146.7" width="3.5" height="3.5" fill="#848484"/>
<rect x="156.7" y="146.7" width="3.5" height="3.5" fill="#909090"/>
<rect x="160.0" y="146.7" width="3.5" height="3.5" fill="#8c8c8c"/>
<rect x="163.3" y="146.7" width="3.5" height="3.5" fill="#7c7c7c"/>
<rect x="166.7" y="146.7" width="3.5" height="3.5" fill="#707070"/>
<rect x="170.0" y="146.7" width="3.5" height="3.5" fill="#646464"/>
<rect x="173.3" y="146.7" width="10.2" height="3.5" fill="#5c5c5c"/>
<rect x="183.3" y="146.7" width="13.5" height="3.5" fill="#606060"/>
<rect x="196.7" y="146.7" width="3.5" height="3.5" fill="#585858"/>
<rect x="200.0" y="146.7" width="3.5" height="3.5" fill="#545454"/>
<rect x="203.3" y="146.7" width="3.5" height="3.5" fill="#505050"/>
<rect x="206.7" y="146.7" width="3.5" height="3.5" fill="#545454"/>
<rect x="210.0" y="146.7" width="3.5" height="3.5" fill="#585858"/>
<rect x="213.3" y="146.7" width="3.5" height="3.5" fill="#5c5c5c"/>
<rect x="216.7" y="146.7" width="6.9" height="3.5" fill="#606060"/>
<rect x="223.3" y="146.7" width="3.5" height="3.5" fill="#585858"/>
<rect x="226.7" y="146.7" width="3.5" height="3.5" fill="#505050"/>
<rect x="230.0" y="146.7" width="3.5" height="3.5" fill="#444444"/>
<rect x="233.3" y="146.7" width="6.9" height="3.5" fill="#3c3c3c"/>
<rect x="240.0" y="146.7" width="3.5" height="3.5" fill="#404040"/>
<rect x="243.3" y="146.7" width="3.5" height="3.5" fill="#484848"/>
<rect x="246.7" y="146.7" width="3.5" height="3.5" fill="#4c4c4c"/>
<rect x="250.0" y="146.7" width="3.5" height="3.5" fill="#505050"/>
<rect x="253.3" y="146.7" width="3.5" height="3.5" fill="#4c4c4c"/>
<rect x="256.7" y="146.7" width="3.5" height="3.5" fill="#484848"/>
<rect x="260.0" y="146.7" width="3.5" height="3.5" fill="#444444"/>
<rect x="263.3" y="146.7" width="3.5" height="3.5" fill="#404040"/>
<rect x="266.7" y="146.7" width="3.5" height="3.5" fill="#3c3c3c"/>
<rect x="270.0" y="146.7" width="3.5" height="3.5" fill="#404040"/>
<rect x="273.3" y="146.7" width="3.5" height="3.5" fill="#444444"/>
<rect x="276.7" y="146.7" width="3.5" height="3.5" fill="#484848"/>
<rect x="280.0" y="146.7" width="3.5" height="3.5" fill="#505050"/>
<rect x="283.3" y="146.7" width="10.2" height="3.5" fill="#545454"/>
<rect x="293.3" y="146.7" width="3.5" height="3.5" fill="#4c4c4c"/>
<rect x="296.7" y="146.7" width="3.5" height="3.5" fill="#404040"/>
<rect x="300.0" y="146.7" width="3.5" height="3.5" fill="#303030"/>
<rect x="303.3" y="146.7" width="3.5" height="3.5" fill="#1c1c1c"/>
<rect x="306.7" y="146.7" width="3.5" height="3.5" fill="#101010"/>
<rect x="310.0" y="146.7" width="3.5" height="3.5" fill="#040404"/>
<rect x="140.0" y="150.0" width="3.5" height="3.5" fill="#040404"/>
<rect x="143.3" y="150.0" width="3.5" height="3.5" fill="#101010"/>
<rect x="146.7" y="150.0" width="3.5" height="3.5" fill="#303030"/>
<rect x="150.0" y="150.0" width="3.5" height="3.5" fill="#545454"/>
<rect x="153.3" y="150.0" width="3.5" height="3.5" fill="#747474"/>
<rect x="156.7" y="150.0" width="3.5" height="3.5" fill="#848484"/>
<rect x="160.0" y="150.0" width="3.5" height="3.5" fill="#808080"/>
<rect x="163.3" y="150.0" width="3.5" height="3.5" fill="#787878"/>
<rect x="166.7" y="150.0" width="3.5" height="3.5" fill="#6c6c6c"/>
<rect x="170.0" y="150.0" width="3.5" height="3.5" fill="#646464"/>
<rect x="173.3" y="150.0" width="6.9" height="3.5" fill="#5c5c5c"/>
<rect x="180.0" y="150.0" width="3.5" height="3.5" fill="#606060"/>
<rect x="183.3" y="150.0" width="3.5" height="3.5" fill="#686868"/>
<rect x="186.7" y="150.0" width="3.5" height="3.5" fill="#6c6c6c"/>
<rect x="190.0" y="150.0" width="6.9" height="3.5" fill="#707070"/>
<rect x="196.7" y="150.0" width="3.5" height="3.5" fill="#686868"/>
<rect x="200.0" y="150.0" width="3.5" height="3.5" fill="#606060"/>
<rect x="203.3" y="150.0" width="3.5" height="3.5" fill="#5c5c5c"/>
<rect x="206.7" y="150.0" width="3.5" height="3.5" fill="#585858"/>
<rect x="210.0" y="150.0" width="3.5" height="3.5" fill="#5c5c5c"/>
<rect x="213.3" y="150.0" width="3.5" height="3.5" fill="#606060"/>
<rect x="216.7" y="150.0" width="3.5" height="3.5" fill="#646464"/>
<rect x="220.0" y="150.0" width="3.5" height="3.5" fill="#606060"/>
<rect x="223.3" y="150.0" width="3.5" height="3.5" fill="#5c5c5c"/>
<rect x="226.7" y="150.0" width="3.5" height="3.5" fill="#545454"/>
<rect x="230.0" y="150.0" width="3.5" height="3.5" fill="#4c4c4c"/>
<rect x="233.3" y="150.0" width="6.9" height="3.5" fill="#444444"/>
<rect x="240.0" y="150.0" width="3.5" height="3.5" fill="#4c4c4c"/>
<rect x="243.3" y="150.0" width="3.5" height="3.5" fill="#585858"/>
<rect x="246.7" y="150.0" width="3.5" height="3.5" fill="#606060"/>
<rect x="250.0" y="150.0" width="3.5" height="3.5" fill="#686868"/>
<rect x="253.3" y="150.0" width="3.5" height="3.5" fill="#6c6c6c"/>
<rect x="256.7" y="150.0" width="3.5" height="3.5" fill="#646464"/>
<rect x="260.0" y="150.0" width="3.5" height="3.5" fill="#5c5c5c"/>
<rect x="263.3" y="150.0" width="3.5" height="3.5" fill="#4c4c4c"/>
<rect x="266.7" y="150.0" width="3.5" height="3.5" fill="#444444"/>
<rect x="270.0" y="150.0" width="6.9" height="3.5" fill="#3c3c3c"/>
<rect x="276.7" y="150.0" width="3.5" height="3.5" fill="#404040"/>
<rect x="280.0" y="150.0" width="3.5" height="3.5" fill="#444444"/>
<rect x="283.3" y="150.0" width="3.5" height="3.5" fill="#4c4c4c"/>
<rect x="286.7" y="150.0" width="6.9" height="3.5" fill="#505050"/>
<rect x="293.3" y="150.0" width="3.5" height="3.5" fill="#4c4c4c"/>
<rect x="296.7" y="150.0" width="3.5" height="3.5" fill="#3c3c3c"/>
<rect x="300.0" y="150.0" width="3.5" height="3.5" fill="#2c2c2c"/>
<rect x="303.3" y="150.0" width="3.5" height="3.5" fill="#1c1c1c"/>
<rect x="306.7" y="150.0" width="3.5" height="3.5" fill="#101010"/>
<rect x="310.0" y="150.0" width="3.5" height="3.5" fill="#040404"/>
<rect x="143.3" y="153.3" width="3.5" height="3.5" fill="#080808"/>
<rect x="146.7" y="153.3" width="3.5" height="3.5" fill="#202020"/>
<rect x="150.0" y="153.3" width="3.5" height="3.5" fill="#444444"/>
<rect x="153.3" y="153.3" width="3.5" height="3.5" fill="#606060"/>
<rect x="156.7" y="153.3" width="3.5" height="3.5" fill="#707070"/>
<rect x="160.0" y="153.3" width="3.5" height="3.5" fill="#747474"/>
<rect x="163.3" y="153.3" width="3.5" height="3.5" fill="#707070"/>
<rect x="166.7" y="153.3" width="3.5" height="3.5" fill="#686868"/>
<rect x="170.0" y="153.3" width="3.5" height="3.5" fill="#606060"/>
<rect x="173.3" y="153.3" width="6.9" height="3.5" fill="#5c5c5c"/>
<rect x="180.0" y="153.3" width="3.5" height="3.5" fill="#646464"/>
<rect x="183.3" y="153.3" width="3.5" height="3.5" fill="#6c6c6c"/>
<rect x="186.7" y="153.3" width="3.5" height="3.5" fill="#747474"/>
<rect x="190.0" y="153.3" width="6.9" height="3.5" fill="#7c7c7c"/>
<rect x="196.7" y="153.3" width="3.5" height="3.5" fill="#747474"/>
<rect x="200.0" y="153.3" width="3.5" height="3.5" fill="#686868"/>
<rect x="203.3" y="153.3" width="6.9" height="3.5" fill="#606060"/>
<rect x="210.0" y="153.3" width="3.5" height="3.5" fill="#646464"/>
<rect x="213.3" y="153.3" width="10.2" height="3.5" fill="#686868"/>
<rect x="223.3" y="153.3" width="3.5" height="3.5" fill="#606060"/>
<rect x="226.7" y="153.3" width="3.5" height="3.5" fill="#585858"/>
<rect x="230.0" y="153.3" width="3.5" height="3.5" fill="#505050"/>
<rect x="233.3" y="153.3" width="3.5" height="3.5" fill="#4c4c4c"/>
<rect x="236.7" y="153.3" width="3.5" height="3.5" fill="#505050"/>
<rect x="240.0" y="153.3" width="3.5" height="3.5" fill="#585858"/>
<rect x="243.3" y="153.3" width="3.5" height="3.5" fill="#686868"/>
<rect x="246.7" y="153.3" width="3.5" height="3.5" fill="#747474"/>
<rect x="250.0" y="153.3" width="3.5" height="3.5" fill="#808080"/>
<rect x="253.3" y="153.3" width="3.5" height="3.5" fill="#848484"/>
<rect x="256.7" y="153.3" width="3.5" height="3.5" fill="#808080"/>
<rect x="260.0" y="153.3" width="3.5" height="3.5" fill="#707070"/>
<rect x="263.3" y="153.3" width="3.5" height="3.5" fill="#5c5c5c"/>
<rect x="266.7" y="153.3" width="3.5" height="3.5" fill="#484848"/>
<rect x="270.0" y="153.3" width="3.5" height="3.5" fill="#3c3c3c"/>
<rect x="273.3" y="153.3" width="3.5" height="3.5" fill="#343434"/>
<rect x="276.7" y="153.3" width="3.5" height="3.5" fill="#383838"/>
<rect x="280.0" y="153.3" width="3.5" height="3.5" fill="#404040"/>
<rect x="283.3" y="153.3" width="3.5" height="3.5" fill="#484848"/>
<rect x="286.7" y="153.3" width="3.5" height="3.5" fill="#4c4c4c"/>
<rect x="290.0" y="153.3" width="3.5" height="3.5" fill="#505050"/>
<rect x="293.3" y="153.3" width="3.5" height="3.5" fill="#484848"/>
<rect x="296.7" y="153.3" width="3.5" height="3.5" fill="#3c3c3c"/>
<rect x="300.0" y="153.3" width="3.5" height="3.5" fill="#2c2c2c"/>
<rect x="303.3" y="153.3" width="3.5" height="3.5" fill="#181818"/>
<rect x="306.7" y="153.3" width="3.5" height="3.5" fill="#0c0c0c"/>
<rect x="310.0" y="153.3" width="3.5" height="3.5" fill="#040404"/>
<rect x="143.3" y="156.7" width="3.5" height="3.5" fill="#040404"/>
<rect x="146.7" y="156.7" width="3.5" height="3.5" fill="#181818"/>
<rect x="150.0" y="156.7" width="3.5" height="3.5" fill="#343434"/>
<rect x="153.3" y="156.7" width="3.5" height="3.5" fill="#4c4c4c"/>
<rect x="156.7" y="156.7" width="3.5" height="3.5" fill="#606060"/>
<rect x="160.0" y="156.7" width="6.9" height="3.5" fill="#686868"/>
<rect x="166.7" y="156.7" width="3.5" height="3.5" fill="#646464"/>
<rect x="170.0" y="156.7" width="3.5" height="3.5" fill="#606060"/>
<rect x="173.3" y="156.7" width="6.9" height="3.5" fill="#5c5c5c"/>
<rect x="180.0" y="156.7" width="3.5" height="3.5" fill="#606060"/>
<rect x="183.3" y="156.7" width="3.5" height="3.5" fill="#686868"/>
<rect x="186.7" y="156.7" width="3.5" height="3.5" fill="#747474"/>
<rect x="190.0" y="156.7" width="6.9" height="3.5" fill="#7c7c7c"/>
<rect x="196.7" y="156.7" width="3.5" height="3.5" fill="#787878"/>
<rect x="200.0" y="156.7" width="3.5" height="3.5" fill="#6c6c6c"/>
<rect x="203.3" y="156.7" width="3.5" height="3.5" fill="#686868"/>
<rect x="206.7" y="156.7" width="3.5" height="3.5" fill="#646464"/>
<rect x="210.0" y="156.7" width="3.5" height="3.5" fill="#686868"/>
<rect x="213.3" y="156.7" width="6.9" height="3.5" fill="#6c6c6c"/>
<rect x="220.0" y="156.7" width="3.5" height="3.5" fill="#686868"/>
<rect x="223.3" y="156.7" width="3.5" height="3.5" fill="#646464"/>
<rect x="226.7" y="156.7" width="3.5" height="3.5" fill="#5c5c5c"/>
<rect x="230.0" y="156.7" width="6.9" height="3.5" fill="#545454"/>
<rect x="236.7" y="156.7" width="3.5" height="3.5" fill="#585858"/>
<rect x="240.0" y="156.7" width="3.5" height="3.5" fill="#646464"/>
<rect x="243.3" y="156.7" width="3.5" height="3.5" fill="#707070"/>
<rect x="246.7" y="156.7" width="3.5" height="3.5" fill="#808080"/>
<rect x="250.0" y="156.7" width="3.5" height="3.5" fill="#8c8c8c"/>
<rect x="253.3" y="156.7" width="3.5" height="3.5" fill="#909090"/>
<rect x="256.7" y="156.7" width="3.5" height="3.5" fill="#888888"/>
<rect x="260.0" y="156.7" width="3.5" height="3.5" fill="#787878"/>
<rect x="263.3" y="156.7" width="3.5" height="3.5" fill="#646464"/>
<rect x="266.7" y="156.7" width="3.5" height="3.5" fill="#4c4c4c"/>
<rect x="270.0" y="156.7" width="3.5" height="3.5" fill="#383838"/>
<rect x="273.3" y="156.7" width="3.5" height="3.5" fill="#303030"/>
<rect x="276.7" y="156.7" width="3.5" height="3.5" fill="#343434"/>
<rect x="280.0" y="156.7" width="3.5" height="3.5" fill="#404040"/>
<rect x="283.3" y="156.7" width="3.5" height="3.5" fill="#484848"/>
<rect x="286.7" y="156.7" width="6.9" height="3.5" fill="#505050"/>
<rect x="293.3" y="156.7" width="3.5" height="3.5" fill="#484848"/>
<rect x="296.7" y="156.7" width="3.5" height="3.5" fill="#383838"/>
<rect x="300.0" y="156.7" width="3.5" height="3.5" fill="#282828"/>
<rect x="303.3" y="156.7" width="3.5" height="3.5" fill="#181818"/>
<rect x="306.7" y="156.7" width="3.5" height="3.5" fill="#0c0c0c"/>
<rect x="310.0" y="156.7" width="3.5" height="3.5" fill="#040404"/>
<rect x="146.7" y="160.0" width="3.5" height="3.5" fill="#101010"/>
<rect x="150.0" y="160.0" width="3.5" height="3.5" fill="#242424"/>
<rect x="153.3" y="160.0" width="3.5" height="3.5" fill="#383838"/>
<rect x="156.7" y="160.0" width="3.5" height="3.5" fill="#4c4c4c"/>
<rect x="160.0" y="160.0" width="3.5" height="3.5" fill="#585858"/>
<rect x="163.3" y="160.0" width="3.5" height="3.5" fill="#5c5c5c"/>
<rect x="166.7" y="160.0" width="3.5" height="3.5" fill="#606060"/>
<rect x="170.0" y="160.0" width="3.5" height="3.5" fill="#5c5c5c"/>
<rect x="173.3" y="160.0" width="6.9" height="3.5" fill="#585858"/>
<rect x="180.0" y="160.0" width="3.5" height="3.5" fill="#5c5c5c"/>
<rect x="183.3" y="160.0" width="3.5" height="3.5" fill="#646464"/>
<rect x="186.7" y="160.0" width="3.5" height="3.5" fill="#6c6c6c"/>
<rect x="190.0" y="160.0" width="3.5" height="3.5" fill="#747474"/>
<rect x="193.3" y="160.0" width="3.5" height="3.5" fill="#787878"/>
<rect x="196.7" y="160.0" width="3.5" height="3.5" fill="#747474"/>
<rect x="200.0" y="160.0" width="3.5" height="3.5" fill="#707070"/>
<rect x="203.3" y="160.0" width="6.9" height="3.5" fill="#686868"/>
<rect x="210.0" y="160.0" width="3.5" height="3.5" fill="#6c6c6c"/>
<rect x="213.3" y="160.0" width="6.9" height="3.5" fill="#707070"/>
<rect x="220.0" y="160.0" width="3.5" height="3.5" fill="#6c6c6c"/>
<rect x="223.3" y="160.0" width="3.5" height="3.5" fill="#686868"/>
<rect x="226.7" y="160.0" width="3.5" height="3.5" fill="#5c5c5c"/>
<rect x="230.0" y="160.0" width="3.5" height="3.5" fill="#585858"/>
<rect x="233.3" y="160.0" width="3.5" height="3.5" fill="#545454"/>
<rect x="236.7" y="160.0" width="3.5" height="3.5" fill="#5c5c5c"/>
<rect x="240.0" y="160.0" width="3.5" height="3.5" fill="#6c6c6c"/>
<rect x="243.3" y="160.0" width="3.5" height="3.5" fill="#787878"/>
<rect x="246.7" y="160.0" width="3.5" height="3.5" fill="#848484"/>
<rect x="250.0" y="160.0" width="6.9" height="3.5" fill="#8c8c8c"/>
<rect x="256.7" y="160.0" width="3.5" height="3.5" fill="#848484"/>
<rect x="260.0" y="160.0" width="3.5" height="3.5" fill="#787878"/>
<rect x="263.3" y="160.0" width="3.5" height="3.5" fill="#646464"/>
<rect x="266.7" y="160.0" width="3.5" height="3.5" fill="#4c4c4c"/>
<rect x="270.0" y="160.0" width="3.5" height="3.5" fill="#343434"/>
<rect x="273.3" y="160.0" width="3.5" height="3.5" fill="#2c2c2c"/>
<rect x="276.7" y="160.0" width="3.5" height="3.5" fill="#303030"/>
<rect x="280.0" y="160.0" width="3.5" height="3.5" fill="#404040"/>
<rect x="283.3" y="160.0" width="3.5" height="3.5" fill="#505050"/>
<rect x="286.7" y="160.0" width="3.5" height="3.5" fill="#545454"/>
<rect x="290.0" y="160.0" width="3.5" height="3.5" fill="#505050"/>
<rect x="293.3" y="160.0" width="3.5" height="3.5" fill="#484848"/>
<rect x="296.7" y="160.0" width="3.5" height="3.5" fill="#383838"/>
<rect x="300.0" y="160.0" width="3.5" height="3.5" fill="#242424"/>
<rect x="303.3" y="160.0" width="3.5" height="3.5" fill="#141414"/>
<rect x="306.7" y="160.0" width="3.5" height="3.5" fill="#080808"/>
<rect x="310.0" y="160.0" width="3.5" height="3.5" fill="#040404"/>
<rect x="146.7" y="163.3" width="3.5" height="3.5" fill="#080808"/>
<rect x="150.0" y="163.3" width="3.5" height="3.5" fill="#141414"/>
<rect x="153.3" y="163.3" width="3.5" height="3.5" fill="#282828"/>
<rect x="156.7" y="163.3" width="3.5" height="3.5" fill="#383838"/>
<rect x="160.0" y="163.3" width="3.5" height="3.5" fill="#484848"/>
<rect x="163.3" y="163.3" width="3.5" height="3.5" fill="#505050"/>
<rect x="166.7" y="163.3" width="16.9" height="3.5" fill="#585858"/>
<rect x="183.3" y="163.3" width="3.5" height="3.5" fill="#5c5c5c"/>
<rect x="186.7" y="163.3" width="3.5" height="3.5" fill="#646464"/>
<rect x="190.0" y="163.3" width="3.5" height="3.5" fill="#6c6c6c"/>
<rect x="193.3" y="163.3" width="6.9" height="3.5" fill="#707070"/>
<rect x="200.0" y="163.3" width="10.2" height="3.5" fill="#6c6c6c"/>
<rect x="210.0" y="163.3" width="10.2" height="3.5" fill="#707070"/>
<rect x="220.0" y="163.3" width="3.5" height="3.5" fill="#6c6c6c"/>
<rect x="223.3" y="163.3" width="3.5" height="3.5" fill="#686868"/>
<rect x="226.7" y="163.3" width="3.5" height="3.5" fill="#5c5c5c"/>
<rect x="230.0" y="163.3" width="6.9" height="3.5" fill="#585858"/>
<rect x="236.7" y="163.3" width="3.5" height="3.5" fill="#606060"/>
<rect x="240.0" y="163.3" width="3.5" height="3.5" fill="#6c6c6c"/>
<rect x="243.3" y="163.3" width="3.5" height="3.5" fill="#7c7c7c"/>
<rect x="246.7" y="163.3" width="3.5" height="3.5" fill="#848484"/>
<rect x="250.0" y="163.3" width="3.5" height="3.5" fill="#888888"/>
<rect x="253.3" y="163.3" width="3.5" height="3.5" fill="#848484"/>
<rect x="256.7" y="163.3" width="3.5" height="3.5" fill="#808080"/>
<rect x="260.0" y="163.3" width="3.5" height="3.5" fill="#747474"/>
<rect x="263.3" y="163.3" width="3.5" height="3.5" fill="#606060"/>
<rect x="266.7" y="163.3" width="3.5" height="3.5" fill="#484848"/>
<rect x="270.0" y="163.3" width="3.5" height="3.5" fill="#343434"/>
<rect x="273.3" y="163.3" width="3.5" height="3.5" fill="#2c2c2c"/>
<rect x="276.7" y="163.3" width="3.5" height="3.5" fill="#343434"/>
<rect x="280.0" y="163.3" width="3.5" height="3.5" fill="#444444"/>
<rect x="283.3" y="163.3" width="3.5" height="3.5" fill="#505050"/>
<rect x="286.7" y="163.3" width="3.5" height="3.5" fill="#585858"/>
<rect x="290.0" y="163.3" width="3.5" height="3.5" fill="#505050"/>
<rect x="293.3" y="163.3" width="3.5" height="3.5" fill="#444444"/>
<rect x="296.7" y="163.3" width="3.5" height="3.5" fill="#343434"/>
<rect x="300.0" y="163.3" width="3.5" height="3.5" fill="#202020"/>
<rect x="303.3" y="163.3" width="3.5" height="3.5" fill="#101010"/>
<rect x="306.7" y="163.3" width="3.5" height="3.5" fill="#080808"/>
<rect x="310.0" y="163.3" width="3.5" height="3.5" fill="#040404"/>
<rect x="146.7" y="166.7" width="3.5" height="3.5" fill="#040404"/>
<rect x="150.0" y="166.7" width="3.5" height="3.5" fill="#0c0c0c"/>
<rect x="153.3" y="166.7" width="3.5" height="3.5" fill="#181818"/>
<rect x="156.7" y="166.7" width="3.5" height="3.5" fill="#282828"/>
<rect x="160.0" y="166.7" width="3.5" height="3.5" fill="#383838"/>
<rect x="163.3" y="166.7" width="3.5" height="3.5" fill="#444444"/>
<rect x="166.7" y="166.7" width="3.5" height="3.5" fill="#4c4c4c"/>
<rect x="170.0" y="166.7" width="3.5" height="3.5" fill="#505050"/>
<rect x="173.3" y="166.7" width="13.5" height="3.5" fill="#545454"/>
<rect x="186.7" y="166.7" width="3.5" height="3.5" fill="#5c5c5c"/>
<rect x="190.0" y="166.7" width="3.5" height="3.5" fill="#606060"/>
<rect x="193.3" y="166.7" width="13.5" height="3.5" fill="#686868"/>
<rect x="206.7" y="166.7" width="6.9" height="3.5" fill="#6c6c6c"/>
<rect x="213.3" y="166.7" width="3.5" height="3.5" fill="#707070"/>
<rect x="216.7" y="166.7" width="3.5" height="3.5" fill="#6c6c6c"/>
<rect x="220.0" y="166.7" width="3.5" height="3.5" fill="#686868"/>
<rect x="223.3" y="166.7" width="3.5" height="3.5" fill="#646464"/>
<rect x="226.7" y="166.7" width="3.5" height="3.5" fill="#5c5c5c"/>
<rect x="230.0" y="166.7" width="6.9" height="3.5" fill="#585858"/>
<rect x="236.7" y="166.7" width="3.5" height="3.5" fill="#606060"/>
<rect x="240.0" y="166.7" width="3.5" height="3.5" fill="#6c6c6c"/>
<rect x="243.3" y="166.7" width="3.5" height="3.5" fill="#787878"/>
<rect x="246.7" y="166.7" width="6.9" height="3.5" fill="#808080"/>
<rect x="253.3" y="166.7" width="3.5" height="3.5" fill="#7c7c7c"/>
<rect x="256.7" y="166.7" width="3.5" height="3.5" fill="#787878"/>
<rect x="260.0" y="166.7" width="3.5" height="3.5" fill="#707070"/>
<rect x="263.3" y="166.7" width="3.5" height="3.5" fill="#606060"/>
<rect x="266.7" y="166.7" width="3.5" height="3.5" fill="#4c4c4c"/>
<rect x="270.0" y="166.7" width="3.5" height="3.5" fill="#383838"/>
<rect x="273.3" y="166.7" width="3.5" height="3.5" fill="#303030"/>
<rect x="276.7" y="166.7" width="3.5" height="3.5" fill="#343434"/>
<rect x="280.0" y="166.7" width="3.5" height="3.5" fill="#444444"/>
<rect x="283.3" y="166.7" width="6.9" height="3.5" fill="#505050"/>
<rect x="290.0" y="166.7" width="3.5" height="3.5" fill="#4c4c4c"/>
<rect x="293.3" y="166.7" width="3.5" height="3.5" fill="#3c3c3c"/>
<rect x="296.7" y="166.7" width="3.5" height="3.5" fill="#2c2c2c"/>
<rect x="300.0" y="166.7" width="3.5" height="3.5" fill="#1c1c1c"/>
<rect x="303.3" y="166.7" width="3.5" height="3.5" fill="#0c0c0c"/>
<rect x="306.7" y="166.7" width="3.5" height="3.5" fill="#040404"/>
<rect x="150.0" y="170.0" width="3.5" height="3.5" fill="#040404"/>
<rect x="153.3" y="170.0" width="3.5" height="3.5" fill="#0c0c0c"/>
<rect x="156.7" y="170.0" width="3.5" height="3.5" fill="#1c1c1c"/>
<rect x="160.0" y="170.0" width="3.5" height="3.5" fill="#282828"/>
<rect x="163.3" y="170.0" width="3.5" height="3.5" fill="#383838"/>
<rect x="166.7" y="170.0" width="3.5" height="3.5" fill="#444444"/>
<rect x="170.0" y="170.0" width="3.5" height="3.5" fill="#4c4c4c"/>
<rect x="173.3" y="170.0" width="13.5" height="3.5" fill="#505050"/>
<rect x="186.7" y="170.0" width="3.5" height="3.5" fill="#545454"/>
<rect x="190.0" y="170.0" width="3.5" height="3.5" fill="#585858"/>
<rect x="193.3" y="170.0" width="3.5" height="3.5" fill="#5c5c5c"/>
<rect x="196.7" y="170.0" width="3.5" height="3.5" fill="#606060"/>
<rect x="200.0" y="170.0" width="3.5" height="3.5" fill="#646464"/>
<rect x="203.3" y="170.0" width="6.9" height="3.5" fill="#686868"/>
<rect x="210.0" y="170.0" width="6.9" height="3.5" fill="#6c6c6c"/>
<rect x="216.7" y="170.0" width="3.5" height="3.5" fill="#686868"/>
<rect x="220.0" y="170.0" width="3.5" height="3.5" fill="#646464"/>
<rect x="223.3" y="170.0" width="3.5" height="3.5" fill="#606060"/>
<rect x="226.7" y="170.0" width="3.5" height="3.5" fill="#585858"/>
<rect x="230.0" y="170.0" width="6.9" height="3.5" fill="#545454"/>
<rect x="236.7" y="170.0" width="3.5" height="3.5" fill="#5c5c5c"/>
<rect x="240.0" y="170.0" width="3.5" height="3.5" fill="#686868"/>
<rect x="243.3" y="170.0" width="3.5" height="3.5" fill="#747474"/>
<rect x="246.7" y="170.0" width="10.2" height="3.5" fill="#787878"/>
<rect x="256.7" y="170.0" width="3.5" height="3.5" fill="#747474"/>
<rect x="260.0" y="170.0" width="3.5" height="3.5" fill="#6c6c6c"/>
<rect x="263.3" y="170.0" width="3.5" height="3.5" fill="#606060"/>
<rect x="266.7" y="170.0" width="3.5" height="3.5" fill="#505050"/>
<rect x="270.0" y="170.0" width="3.5" height="3.5" fill="#3c3c3c"/>
<rect x="273.3" y="170.0" width="3.5" height="3.5" fill="#303030"/>
<rect x="276.7" y="170.0" width="3.5" height="3.5" fill="#343434"/>
<rect x="280.0" y="170.0" width="3.5" height="3.5" fill="#404040"/>
<rect x="283.3" y="170.0" width="6.9" height="3.5" fill="#484848"/>
<rect x="290.0" y="170.0" width="3.5" height="3.5" fill="#404040"/>
<rect x="293.3" y="170.0" width="3.5" height="3.5" fill="#343434"/>
<rect x="296.7" y="170.0" width="3.5" height="3.5" fill="#242424"/>
<rect x="300.0" y="170.0" width="3.5" height="3.5" fill="#141414"/>
<rect x="303.3" y="170.0" width="3.5" height="3.5" fill="#080808"/>
<rect x="306.7" y="170.0" width="3.5" height="3.5" fill="#040404"/>
<rect x="153.3" y="173.3" width="3.5" height="3.5" fill="#080808"/>
<rect x="156.7" y="173.3" width="3.5" height="3.5" fill="#101010"/>
<rect x="160.0" y="173.3" width="3.5" height="3.5" fill="#1c1c1c"/>
<rect x="163.3" y="173.3" width="3.5" height="3.5" fill="#2c2c2c"/>
<rect x="166.7" y="173.3" width="3.5" height="3.5" fill="#383838"/>
<rect x="170.0" y="173.3" width="3.5" height="3.5" fill="#404040"/>
<rect x="173.3" y="173.3" width="3.5" height="3.5" fill="#484848"/>
<rect x="176.7" y="173.3" width="10.2" height="3.5" fill="#4c4c4c"/>
<rect x="186.7" y="173.3" width="3.5" height="3.5" fill="#505050"/>
<rect x="190.0" y="173.3" width="3.5" height="3.5" fill="#545454"/>
<rect x="193.3" y="173.3" width="3.5" height="3.5" fill="#585858"/>
<rect x="196.7" y="173.3" width="3.5" height="3.5" fill="#5c5c5c"/>
<rect x="200.0" y="173.3" width="3.5" height="3.5" fill="#606060"/>
<rect x="203.3" y="173.3" width="13.5" height="3.5" fill="#686868"/>
<rect x="216.7" y="173.3" width="3.5" height="3.5" fill="#646464"/>
<rect x="220.0" y="173.3" width="3.5" height="3.5" fill="#606060"/>
<rect x="223.3" y="173.3" width="3.5" height="3.5" fill="#5c5c5c"/>
<rect x="226.7" y="173.3" width="3.5" height="3.5" fill="#585858"/>
<rect x="230.0" y="173.3" width="6.9" height="3.5" fill="#505050"/>
<rect x="236.7" y="173.3" width="3.5" height="3.5" fill="#585858"/>
<rect x="240.0" y="173.3" width="3.5" height="3.5" fill="#646464"/>
<rect x="243.3" y="173.3" width="3.5" height="3.5" fill="#6c6c6c"/>
<rect x="246.7" y="173.3" width="13.5" height="3.5" fill="#707070"/>
<rect x="260.0" y="173.3" width="3.5" height="3.5" fill="#6c6c6c"/>
<rect x="263.3" y="173.3" width="3.5" height="3.5" fill="#606060"/>
<rect x="266.7" y="173.3" width="3.5" height="3.5" fill="#505050"/>
<rect x="270.0" y="173.3" width="3.5" height="3.5" fill="#404040"/>
<rect x="273.3" y="173.3" width="6.9" height="3.5" fill="#343434"/>
<rect x="280.0" y="173.3" width="3.5" height="3.5" fill="#3c3c3c"/>
<rect x="283.3" y="173.3" width="3.5" height="3.5" fill="#404040"/>
<rect x="286.7" y="173.3" width="3.5" height="3.5" fill="#3c3c3c"/>
<rect x="290.0" y="173.3" width="3.5" height="3.5" fill="#343434"/>
<rect x="293.3" y="173.3" width="3.5" height="3.5" fill="#282828"/>
<rect x="296.7" y="173.3" width="3.5" height="3.5" fill="#1c1c1c"/>
<rect x="300.0" y="173.3" width="3.5" height="3.5" fill="#101010"/>
<rect x="303.3" y="173.3" width="3.5" height="3.5" fill="#080808"/>
<rect x="153.3" y="176.7" width="3.5" height="3.5" fill="#040404"/>
<rect x="156.7" y="176.7" width="3.5" height="3.5" fill="#080808"/>
<rect x="160.0" y="176.7" width="3.5" height="3.5" fill="#141414"/>
<rect x="163.3" y="176.7" width="3.5" height="3.5" fill="#202020"/>
<rect x="166.7" y="176.7" width="3.5" height="3.5" fill="#2c2c2c"/>
<rect x="170.0" y="176.7" width="3.5" height="3.5" fill="#383838"/>
<rect x="173.3" y="176.7" width="3.5" height="3.5" fill="#404040"/>
<rect x="176.7" y="176.7" width="6.9" height="3.5" fill="#484848"/>
<rect x="183.3" y="176.7" width="6.9" height="3.5" fill="#4c4c4c"/>
<rect x="190.0" y="176.7" width="3.5" height="3.5" fill="#505050"/>
<rect x="193.3" y="176.7" width="3.5" height="3.5" fill="#545454"/>
<rect x="196.7" y="176.7" width="3.5" height="3.5" fill="#5c5c5c"/>
<rect x="200.0" y="176.7" width="3.5" height="3.5" fill="#646464"/>
<rect x="203.3" y="176.7" width="6.9" height="3.5" fill="#686868"/>
<rect x="210.0" y="176.7" width="6.9" height="3.5" fill="#646464"/>
<rect x="216.7" y="176.7" width="3.5" height="3.5" fill="#606060"/>
<rect x="220.0" y="176.7" width="3.5" height="3.5" fill="#5c5c5c"/>
<rect x="223.3" y="176.7" width="3.5" height="3.5" fill="#585858"/>
<rect x="226.7" y="176.7" width="3.5" height="3.5" fill="#545454"/>
<rect x="230.0" y="176.7" width="3.5" height="3.5" fill="#505050"/>
<rect x="233.3" y="176.7" width="3.5" height="3.5" fill="#4c4c4c"/>
<rect x="236.7" y="176.7" width="3.5" height="3.5" fill="#545454"/>
<rect x="240.0" y="176.7" width="3.5" height="3.5" fill="#5c5c5c"/>
<rect x="243.3" y="176.7" width="3.5" height="3.5" fill="#646464"/>
<rect x="246.7" y="176.7" width="13.5" height="3.5" fill="#686868"/>
<rect x="260.0" y="176.7" width="3.5" height="3.5" fill="#646464"/>
<rect x="263.3" y="176.7" width="3.5" height="3.5" fill="#5c5c5c"/>
<rect x="266.7" y="176.7" width="3.5" height="3.5" fill="#505050"/>
<rect x="270.0" y="176.7" width="3.5" height="3.5" fill="#404040"/>
<rect x="273.3" y="176.7" width="13.5" height="3.5" fill="#343434"/>
<rect x="286.7" y="176.7" width="3.5" height="3.5" fill="#303030"/>
<rect x="290.0" y="176.7" width="3.5" height="3.5" fill="#282828"/>
<rect x="293.3" y="176.7" width="3.5" height="3.5" fill="#1c1c1c"/>
<rect x="296.7" y="176.7" width="3.5" height="3.5" fill="#101010"/>
<rect x="300.0" y="176.7" width="3.5" height="3.5" fill="#080808"/>
<rect x="303.3" y="176.7" width="3.5" height="3.5" fill="#040404"/>
<rect x="156.7" y="180.0" width="3.5" height="3.5" fill="#040404"/>
<rect x="160.0" y="180.0" width="3.5" height="3.5" fill="#0c0c0c"/>
<rect x="163.3" y="180.0" width="3.5" height="3.5" fill="#181818"/>
<rect x="166.7" y="180.0" width="3.5" height="3.5" fill="#242424"/>
<rect x="170.0" y="180.0" width="3.5" height="3.5" fill="#303030"/>
<rect x="173.3" y="180.0" width="3.5" height="3.5" fill="#383838"/>
<rect x="176.7" y="180.0" width="3.5" height="3.5" fill="#404040"/>
<rect x="180.0" y="180.0" width="3.5" height="3.5" fill="#484848"/>
<rect x="183.3" y="180.0" width="6.9" height="3.5" fill="#4c4c4c"/>
<rect x="190.0" y="180.0" width="3.5" height="3.5" fill="#505050"/>
<rect x="193.3" y="180.0" width="3.5" height="3.5" fill="#585858"/>
<rect x="196.7" y="180.0" width="3.5" height="3.5" fill="#5c5c5c"/>
<rect x="200.0" y="180.0" width="3.5" height="3.5" fill="#646464"/>
<rect x="203.3" y="180.0" width="6.9" height="3.5" fill="#686868"/>
<rect x="210.0" y="180.0" width="3.5" height="3.5" fill="#646464"/>
<rect x="213.3" y="180.0" width="3.5" height="3.5" fill="#606060"/>
<rect x="216.7" y="180.0" width="6.9" height="3.5" fill="#5c5c5c"/>
<rect x="223.3" y="180.0" width="3.5" height="3.5" fill="#585858"/>
<rect x="226.7" y="180.0" width="3.5" height="3.5" fill="#505050"/>
<rect x="230.0" y="180.0" width="3.5" height="3.5" fill="#4c4c4c"/>
<rect x="233.3" y="180.0" width="3.5" height="3.5" fill="#484848"/>
<rect x="236.7" y="180.0" width="3.5" height="3.5" fill="#4c4c4c"/>
<rect x="240.0" y="180.0" width="3.5" height="3.5" fill="#545454"/>
<rect x="243.3" y="180.0" width="3.5" height="3.5" fill="#5c5c5c"/>
<rect x="246.7" y="180.0" width="13.5" height="3.5" fill="#606060"/>
<rect x="260.0" y="180.0" width="3.5" height="3.5" fill="#5c5c5c"/>
<rect x="263.3" y="180.0" width="3.5" height="3.5" fill="#585858"/>
<rect x="266.7" y="180.0" width="3.5" height="3.5" fill="#4c4c4c"/>
<rect x="270.0" y="180.0" width="3.5" height="3.5" fill="#3c3c3c"/>
<rect x="273.3" y="180.0" width="3.5" height="3.5" fill="#343434"/>
<rect x="276.7" y="180.0" width="6.9" height="3.5" fill="#2c2c2c"/>
<rect x="283.3" y="180.0" width="3.5" height="3.5" fill="#282828"/>
<rect x="286.7" y="180.0" width="3.5" height="3.5" fill="#242424"/>
<rect x="290.0" y="180.0" width="3.5" height="3.5" fill="#1c1c1c"/>
<rect x="293.3" y="180.0" width="3.5" height="3.5" fill="#101010"/>
<rect x="296.7" y="180.0" width="3.5" height="3.5" fill="#0c0c0c"/>
<rect x="300.0" y="180.0" width="3.5" height="3.5" fill="#040404"/>
<rect x="160.0" y="183.3" width="3.5" height="3.5" fill="#080808"/>
<rect x="163.3" y="183.3" width="3.5" height="3.5" fill="#0c0c0c"/>
<rect x="166.7" y="183.3" width="3.5" height="3.5" fill="#181818"/>
<rect x="170.0" y="183.3" width="3.5" height="3.5" fill="#242424"/>
<rect x="173.3" y="183.3" width="3.5" height="3.5" fill="#303030"/>
<rect x="176.7" y="183.3" width="3.5" height="3.5" fill="#3c3c3c"/>
<rect x="180.0" y="183.3" width="3.5" height="3.5" fill="#444444"/>
<rect x="183.3" y="183.3" width="3.5" height="3.5" fill="#484848"/>
<rect x="186.7" y="183.3" width="3.5" height="3.5" fill="#4c4c4c"/>
<rect x="190.0" y="183.3" width="3.5" height="3.5" fill="#505050"/>
<rect x="193.3" y="183.3" width="3.5" height="3.5" fill="#585858"/>
<rect x="196.7" y="183.3" width="3.5" height="3.5" fill="#5c5c5c"/>
<rect x="200.0" y="183.3" width="3.5" height="3.5" fill="#646464"/>
<rect x="203.3" y="183.3" width="3.5" height="3.5" fill="#686868"/>
<rect x="206.7" y="183.3" width="3.5" height="3.5" fill="#646464"/>
<rect x="210.0" y="183.3" width="3.5" height="3.5" fill="#606060"/>
<rect x="213.3" y="183.3" width="6.9" height="3.5" fill="#5c5c5c"/>
<rect x="220.0" y="183.3" width="6.9" height="3.5" fill="#585858"/>
<rect x="226.7" y="183.3" width="3.5" height="3.5" fill="#505050"/>
<rect x="230.0" y="183.3" width="3.5" height="3.5" fill="#484848"/>
<rect x="233.3" y="183.3" width="6.9" height="3.5" fill="#444444"/>
<rect x="240.0" y="183.3" width="3.5" height="3.5" fill="#4c4c4c"/>
<rect x="243.3" y="183.3" width="3.5" height="3.5" fill="#505050"/>
<rect x="246.7" y="183.3" width="3.5" height="3.5" fill="#545454"/>
<rect x="250.0" y="183.3" width="10.2" height="3.5" fill="#585858"/>
<rect x="260.0" y="183.3" width="3.5" height="3.5" fill="#545454"/>
<rect x="263.3" y="183.3" width="3.5" height="3.5" fill="#4c4c4c"/>
<rect x="266.7" y="183.3" width="3.5" height="3.5" fill="#444444"/>
<rect x="270.0" y="183.3" width="3.5" height="3.5" fill="#343434"/>
<rect x="273.3" y="183.3" width="3.5" height="3.5" fill="#2c2c2c"/>
<rect x="276.7" y="183.3" width="6.9" height="3.5" fill="#242424"/>
<rect x="283.3" y="183.3" width="3.5" height="3.5" fill="#202020"/>
<rect x="286.7" y="183.3" width="3.5" height="3.5" fill="#181818"/>
<rect x="290.0" y="183.3" width="3.5" height="3.5" fill="#101010"/>
<rect x="293.3" y="183.3" width="3.5" height="3.5" fill="#080808"/>
<rect x="296.7" y="183.3" width="3.5" height="3.5" fill="#040404"/>
<rect x="160.0" y="186.7" width="3.5" height="3.5" fill="#040404"/>
<rect x="163.3" y="186.7" width="3.5" height="3.5" fill="#080808"/>
<rect x="166.7" y="186.7" width="3.5" height="3.5" fill="#101010"/>
<rect x="170.0" y="186.7" width="3.5" height="3.5" fill="#1c1c1c"/>
<rect x="173.3" y="186.7" width="3.5" height="3.5" fill="#282828"/>
<rect x="176.7" y="186.7" width="3.5" height="3.5" fill="#303030"/>
<rect x="180.0" y="186.7" width="3.5" height="3.5" fill="#3c3c3c"/>
<rect x="183.3" y="186.7" width="3.5" height="3.5" fill="#444444"/>
<rect x="186.7" y="186.7" width="3.5" height="3.5" fill="#484848"/>
<rect x="190.0" y="186.7" width="3.5" height="3.5" fill="#505050"/>
<rect x="193.3" y="186.7" width="3.5" height="3.5" fill="#545454"/>
<rect x="196.7" y="186.7" width="3.5" height="3.5" fill="#5c5c5c"/>
<rect x="200.0" y="186.7" width="10.2" height="3.5" fill="#606060"/>
<rect x="210.0" y="186.7" width="3.5" height="3.5" fill="#5c5c5c"/>
<rect x="213.3" y="186.7" width="10.2" height="3.5" fill="#585858"/>
<rect x="223.3" y="186.7" width="3.5" height="3.5" fill="#545454"/>
<rect x="226.7" y="186.7" width="3.5" height="3.5" fill="#4c4c4c"/>
<rect x="230.0" y="186.7" width="3.5" height="3.5" fill="#444444"/>
<rect x="233.3" y="186.7" width="6.9" height="3.5" fill="#404040"/>
<rect x="240.0" y="186.7" width="3.5" height="3.5" fill="#444444"/>
<rect x="243.3" y="186.7" width="16.9" height="3.5" fill="#4c4c4c"/>
<rect x="260.0" y="186.7" width="3.5" height="3.5" fill="#484848"/>
<rect x="263.3" y="186.7" width="3.5" height="3.5" fill="#404040"/>
<rect x="266.7" y="186.7" width="3.5" height="3.5" fill="#383838"/>
<rect x="270.0" y="186.7" width="3.5" height="3.5" fill="#2c2c2c"/>
<rect x="273.3" y="186.7" width="3.5" height="3.5" fill="#242424"/>
<rect x="276.7" y="186.7" width="3.5" height="3.5" fill="#1c1c1c"/>
<rect x="280.0" y="186.7" width="3.5" height="3.5" fill="#181818"/>
<rect x="283.3" y="186.7" width="3.5" height="3.5" fill="#141414"/>
<rect x="286.7" y="186.7" width="3.5" height="3.5" fill="#0c0c0c"/>
<rect x="290.0" y="186.7" width="3.5" height="3.5" fill="#080808"/>
<rect x="293.3" y="186.7" width="3.5" height="3.5" fill="#040404"/>
<rect x="163.3" y="190.0" width="3.5" height="3.5" fill="#040404"/>
<rect x="166.7" y="190.0" width="3.5" height="3.5" fill="#080808"/>
<rect x="170.0" y="190.0" width="3.5" height="3.5" fill="#101010"/>
<rect x="173.3" y="190.0" width="3.5" height="3.5" fill="#1c1c1c"/>
<rect x="176.7" y="190.0" width="3.5" height="3.5" fill="#282828"/>
<rect x="180.0" y="190.0" width="3.5" height="3.5" fill="#303030"/>
<rect x="183.3" y="190.0" width="3.5" height="3.5" fill="#3c3c3c"/>
<rect x="186.7" y="190.0" width="3.5" height="3.5" fill="#444444"/>
<rect x="190.0" y="190.0" width="3.5" height="3.5" fill="#4c4c4c"/>
<rect x="193.3" y="190.0" width="3.5" height="3.5" fill="#505050"/>
<rect x="196.7" y="190.0" width="3.5" height="3.5" fill="#545454"/>
<rect x="200.0" y="190.0" width="3.5" height="3.5" fill="#585858"/>
<rect x="203.3" y="190.0" width="3.5" height="3.5" fill="#5c5c5c"/>
<rect x="206.7" y="190.0" width="3.5" height="3.5" fill="#585858"/>
<rect x="210.0" y="190.0" width="13.5" height="3.5" fill="#545454"/>
<rect x="223.3" y="190.0" width="3.5" height="3.5" fill="#505050"/>
<rect x="226.7" y="190.0" width="3.5" height="3.5" fill="#484848"/>
<rect x="230.0" y="190.0" width="3.5" height="3.5" fill="#404040"/>
<rect x="233.3" y="190.0" width="6.9" height="3.5" fill="#383838"/>
<rect x="240.0" y="190.0" width="3.5" height="3.5" fill="#3c3c3c"/>
<rect x="243.3" y="190.0" width="3.5" height="3.5" fill="#404040"/>
<rect x="246.7" y="190.0" width="3.5" height="3.5" fill="#444444"/>
<rect x="250.0" y="190.0" width="6.9" height="3.5" fill="#404040"/>
<rect x="256.7" y="190.0" width="3.5" height="3.5" fill="#3c3c3c"/>
<rect x="260.0" y="190.0" width="3.5" height="3.5" fill="#383838"/>
<rect x="263.3" y="190.0" width="3.5" height="3.5" fill="#303030"/>
<rect x="266.7" y="190.0" width="3.5" height="3.5" fill="#282828"/>
<rect x="270.0" y="190.0" width="3.5" height="3.5" fill="#202020"/>
<rect x="273.3" y="190.0" width="3.5" height="3.5" fill="#181818"/>
<rect x="276.7" y="190.0" width="3.5" height="3.5" fill="#101010"/>
<rect x="280.0" y="190.0" width="3.5" height="3.5" fill="#0c0c0c"/>
<rect x="283.3" y="190.0" width="3.5" height="3.5" fill="#080808"/>
<rect x="286.7" y="190.0" width="6.9" height="3.5" fill="#040404"/>
<rect x="166.7" y="193.3" width="3.5" height="3.5" fill="#040404"/>
<rect x="170.0" y="193.3" width="3.5" height="3.5" fill="#080808"/>
<rect x="173.3" y="193.3" width="3.5" height="3.5" fill="#101010"/>
<rect x="176.7" y="193.3" width="3.5" height="3.5" fill="#1c1c1c"/>
<rect x="180.0" y="193.3" width="3.5" height="3.5" fill="#282828"/>
<rect x="183.3" y="193.3" width="3.5" height="3.5" fill="#303030"/>
<rect x="186.7" y="193.3" width="3.5" height="3.5" fill="#383838"/>
<rect x="190.0" y="193.3" width="3.5" height="3.5" fill="#404040"/>
<rect x="193.3" y="193.3" width="3.5" height="3.5" fill="#484848"/>
<rect x="196.7" y="193.3" width="3.5" height="3.5" fill="#4c4c4c"/>
<rect x="200.0" y="193.3" width="10.2" height="3.5" fill="#505050"/>
<rect x="210.0" y="193.3" width="6.9" height="3.5" fill="#4c4c4c"/>
<rect x="216.7" y="193.3" width="6.9" height="3.5" fill="#505050"/>
<rect x="223.3" y="193.3" width="3.5" height="3.5" fill="#4c4c4c"/>
<rect x="226.7" y="193.3" width="3.5" height="3.5" fill="#444444"/>
<rect x="230.0" y="193.3" width="3.5" height="3.5" fill="#383838"/>
<rect x="233.3" y="193.3" width="10.2" height="3.5" fill="#303030"/>
<rect x="243.3" y="193.3" width="10.2" height="3.5" fill="#343434"/>
<rect x="253.3" y="193.3" width="3.5" height="3.5" fill="#303030"/>
<rect x="256.7" y="193.3" width="3.5" height="3.5" fill="#2c2c2c"/>
<rect x="260.0" y="193.3" width="3.5" height="3.5" fill="#282828"/>
<rect x="263.3" y="193.3" width="3.5" height="3.5" fill="#242424"/>
<rect x="266.7" y="193.3" width="3.5" height="3.5" fill="#1c1c1c"/>
<rect x="270.0" y="193.3" width="3.5" height="3.5" fill="#141414"/>
<rect x="273.3" y="193.3" width="3.5" height="3.5" fill="#0c0c0c"/>
<rect x="276.7" y="193.3" width="3.5" height="3.5" fill="#080808"/>
<rect x="280.0" y="193.3" width="6.9" height="3.5" fill="#040404"/>
<rect x="170.0" y="196.7" width="3.5" height="3.5" fill="#040404"/>
<rect x="173.3" y="196.7" width="3.5" height="3.5" fill="#080808"/>
<rect x="176.7" y="196.7" width="3.5" height="3.5" fill="#101010"/>
<rect x="180.0" y="196.7" width="3.5" height="3.5" fill="#181818"/>
<rect x="183.3" y="196.7" width="3.5" height="3.5" fill="#242424"/>
<rect x="186.7" y="196.7" width="3.5" height="3.5" fill="#2c2c2c"/>
<rect x="190.0" y="196.7" width="3.5" height="3.5" fill="#343434"/>
<rect x="193.3" y="196.7" width="3.5" height="3.5" fill="#3c3c3c"/>
<rect x="196.7" y="196.7" width="3.5" height="3.5" fill="#404040"/>
<rect x="200.0" y="196.7" width="16.9" height="3.5" fill="#484848"/>
<rect x="216.7" y="196.7" width="6.9" height="3.5" fill="#4c4c4c"/>
<rect x="223.3" y="196.7" width="3.5" height="3.5" fill="#484848"/>
<rect x="226.7" y="196.7" width="3.5" height="3.5" fill="#3c3c3c"/>
<rect x="230.0" y="196.7" width="3.5" height="3.5" fill="#303030"/>
<rect x="233.3" y="196.7" width="3.5" height="3.5" fill="#242424"/>
<rect x="236.7" y="196.7" width="3.5" height="3.5" fill="#202020"/>
<rect x="240.0" y="196.7" width="13.5" height="3.5" fill="#242424"/>
<rect x="253.3" y="196.7" width="3.5" height="3.5" fill="#202020"/>
<rect x="256.7" y="196.7" width="3.5" height="3.5" fill="#1c1c1c"/>
<rect x="260.0" y="196.7" width="3.5" height="3.5" fill="#181818"/>
<rect x="263.3" y="196.7" width="3.5" height="3.5" fill="#141414"/>
<rect x="266.7" y="196.7" width="3.5" height="3.5" fill="#101010"/>
<rect x="270.0" y="196.7" width="3.5" height="3.5" fill="#0c0c0c"/>
<rect x="273.3" y="196.7" width="3.5" height="3.5" fill="#080808"/>
<rect x="276.7" y="196.7" width="3.5" height="3.5" fill="#040404"/>
<rect x="173.3" y="200.0" width="3.5" height="3.5" fill="#040404"/>
<rect x="176.7" y="200.0" width="3.5" height="3.5" fill="#080808"/>
<rect x="180.0" y="200.0" width="3.5" height="3.5" fill="#0c0c0c"/>
<rect x="183.3" y="200.0" width="3.5" height="3.5" fill="#141414"/>
<rect x="186.7" y="200.0" width="3.5" height="3.5" fill="#1c1c1c"/>
<rect x="190.0" y="200.0" width="3.5" height="3.5" fill="#242424"/>
<rect x="193.3" y="200.0" width="3.5" height="3.5" fill="#2c2c2c"/>
<rect x="196.7" y="200.0" width="3.5" height="3.5" fill="#343434"/>
<rect x="200.0" y="200.0" width="3.5" height="3.5" fill="#3c3c3c"/>
<rect x="203.3" y="200.0" width="13.5" height="3.5" fill="#404040"/>
<rect x="216.7" y="200.0" width="6.9" height="3.5" fill="#444444"/>
<rect x="223.3" y="200.0" width="3.5" height="3.5" fill="#404040"/>
<rect x="226.7" y="200.0" width="3.5" height="3.5" fill="#343434"/>
<rect x="230.0" y="200.0" width="3.5" height="3.5" fill="#242424"/>
<rect x="233.3" y="200.0" width="3.5" height="3.5" fill="#181818"/>
<rect x="236.7" y="200.0" width="16.9" height="3.5" fill="#141414"/>
<rect x="253.3" y="200.0" width="6.9" height="3.5" fill="#101010"/>
<rect x="260.0" y="200.0" width="3.5" height="3.5" fill="#0c0c0c"/>
<rect x="263.3" y="200.0" width="6.9" height="3.5" fill="#080808"/>
<rect x="270.0" y="200.0" width="6.9" height="3.5" fill="#040404"/>
<rect x="180.0" y="203.3" width="3.5" height="3.5" fill="#040404"/>
<rect x="183.3" y="203.3" width="3.5" height="3.5" fill="#080808"/>
<rect x="186.7" y="203.3" width="3.5" height="3.5" fill="#101010"/>
<rect x="190.0" y="203.3" width="3.5" height="3.5" fill="#181818"/>
<rect x="193.3" y="203.3" width="3.5" height="3.5" fill="#202020"/>
<rect x="196.7" y="203.3" width="3.5" height="3.5" fill="#242424"/>
<rect x="200.0" y="203.3" width="3.5" height="3.5" fill="#2c2c2c"/>
<rect x="203.3" y="203.3" width="3.5" height="3.5" fill="#303030"/>
<rect x="206.7" y="203.3" width="10.2" height="3.5" fill="#343434"/>
<rect x="216.7" y="203.3" width="6.9" height="3.5" fill="#383838"/>
<rect x="223.3" y="203.3" width="3.5" height="3.5" fill="#343434"/>
<rect x="226.7" y="203.3" width="3.5" height="3.5" fill="#282828"/>
<rect x="230.0" y="203.3" width="3.5" height="3.5" fill="#181818"/>
<rect x="233.3" y="203.3" width="3.5" height="3.5" fill="#0c0c0c"/>
<rect x="236.7" y="203.3" width="20.2" height="3.5" fill="#080808"/>
<rect x="256.7" y="203.3" width="10.2" height="3.5" fill="#040404"/>
<rect x="183.3" y="206.7" width="3.5" height="3.5" fill="#040404"/>
<rect x="186.7" y="206.7" width="3.5" height="3.5" fill="#080808"/>
<rect x="190.0" y="206.7" width="3.5" height="3.5" fill="#0c0c0c"/>
<rect x="193.3" y="206.7" width="3.5" height="3.5" fill="#101010"/>
<rect x="196.7" y="206.7" width="3.5" height="3.5" fill="#181818"/>
<rect x="200.0" y="206.7" width="3.5" height="3.5" fill="#1c1c1c"/>
<rect x="203.3" y="206.7" width="6.9" height="3.5" fill="#202020"/>
<rect x="210.0" y="206.7" width="6.9" height="3.5" fill="#242424"/>
<rect x="216.7" y="206.7" width="6.9" height="3.5" fill="#282828"/>
<rect x="223.3" y="206.7" width="3.5" height="3.5" fill="#242424"/>
<rect x="226.7" y="206.7" width="3.5" height="3.5" fill="#1c1c1c"/>
<rect x="230.0" y="206.7" width="3.5" height="3.5" fill="#101010"/>
<rect x="233.3" y="206.7" width="3.5" height="3.5" fill="#080808"/>
<rect x="236.7" y="206.7" width="16.9" height="3.5" fill="#040404"/>
<rect x="186.7" y="210.0" width="6.9" height="3.5" fill="#040404"/>
<rect x="193.3" y="210.0" width="3.5" height="3.5" fill="#080808"/>
<rect x="196.7" y="210.0" width="6.9" height="3.5" fill="#0c0c0c"/>
<rect x="203.3" y="210.0" width="6.9" height="3.5" fill="#101010"/>
<rect x="210.0" y="210.0" width="6.9" height="3.5" fill="#141414"/>
<rect x="216.7" y="210.0" width="6.9" height="3.5" fill="#181818"/>
<rect x="223.3" y="210.0" width="3.5" height="3.5" fill="#141414"/>
<rect x="226.7" y="210.0" width="3.5" height="3.5" fill="#101010"/>
<rect x="230.0" y="210.0" width="3.5" height="3.5" fill="#080808"/>
<rect x="193.3" y="213.3" width="10.2" height="3.5" fill="#040404"/>
<rect x="203.3" y="213.3" width="13.5" height="3.5" fill="#080808"/>
<rect x="216.7" y="213.3" width="6.9" height="3.5" fill="#0c0c0c"/>
<rect x="223.3" y="213.3" width="6.9" height="3.5" fill="#080808"/>
<rect x="230.0" y="213.3" width="3.5" height="3.5" fill="#040404"/>
<rect x="200.0" y="216.7" width="13.5" height="3.5" fill="#040404"/>
<rect x="213.3" y="216.7" width="13.5" height="3.5" fill="#080808"/>
<rect x="226.7" y="216.7" width="3.5" height="3.5" fill="#040404"/>
</g>
</g>
<rect x="95.6" y="246" width="1.4" height="5.7" fill="#fff"/>
<rect x="157.4" y="246" width="1.4" height="5.7" fill="#fff"/>
<rect x="219.3" y="246" width="1.4" height="5.7" fill="#fff"/>
<rect x="281.1" y="246" width="1.4" height="5.7" fill="#fff"/>
<rect x="343.0" y="246" width="1.4" height="5.7" fill="#fff"/>
<rect x="58" y="65.9" width="5.7" height="1.4" fill="#fff"/>
<rect x="58" y="127.6" width="5.7" height="1.4" fill="#fff"/>
<rect x="58" y="189.2" width="5.7" height="1.4" fill="#fff"/>
<text x="16.8" y="20.2" text-anchor="start" fill="#111" stroke="#111" stroke-width="0.3" font-size="18.2" textLength="36.8" lengthAdjust="spacingAndGlyphs"><tspan class="it">y</tspan>/cm</text>
<text x="84.5" y="32.8" text-anchor="start" fill="#fff" stroke="#fff" stroke-width="0" font-size="18.5">a</text>
<text x="54.3" y="72.1" text-anchor="end" fill="#111" stroke="#111" stroke-width="0.3"><tspan>–</tspan><tspan dx="2.2">5</tspan></text>
<text x="54.3" y="133.8" text-anchor="end" fill="#111" stroke="#111" stroke-width="0.3">0</text>
<text x="54.3" y="195.4" text-anchor="end" fill="#111" stroke="#111" stroke-width="0.3">5</text>
<text x="54.3" y="257.8" text-anchor="end" fill="#111" stroke="#111" stroke-width="0.3">10</text>
<text x="96.0" y="268.7" text-anchor="middle" fill="#111" stroke="#111" stroke-width="0.3"><tspan>–</tspan><tspan dx="2.2">10</tspan></text>
<text x="157.8" y="268.7" text-anchor="middle" fill="#111" stroke="#111" stroke-width="0.3"><tspan>–</tspan><tspan dx="2.2">5</tspan></text>
<text x="220.4" y="268.7" text-anchor="middle" fill="#111" stroke="#111" stroke-width="0.3">0</text>
<text x="282.2" y="268.7" text-anchor="middle" fill="#111" stroke="#111" stroke-width="0.3">5</text>
<text x="335.8" y="268.7" text-anchor="start" fill="#111" stroke="#111" stroke-width="0.3" font-size="18.2" textLength="36.4" lengthAdjust="spacingAndGlyphs"><tspan class="it">x</tspan>/cm</text>
<rect x="391.3" y="5.5" width="22.7" height="246" fill="url(#cba)" stroke="#6b6b6b" stroke-width="1.1"/>
<line x1="392.5" y1="247" x2="412" y2="40" stroke="#fff" stroke-opacity="0.3" stroke-width="0.6"/>
<rect x="408" y="52.0" width="6" height="1.4" fill="#222"/>
<rect x="408" y="101.7" width="6" height="1.4" fill="#222"/>
<rect x="408" y="151.9" width="6" height="1.4" fill="#fff"/>
<rect x="408" y="201.6" width="6" height="1.4" fill="#fff"/>
<text x="418" y="11.1" text-anchor="start" fill="#111" stroke="#111" stroke-width="0.3">1.0</text>
<text x="418" y="58.2" text-anchor="start" fill="#111" stroke="#111" stroke-width="0.3">0.8</text>
<text x="418" y="107.9" text-anchor="start" fill="#111" stroke="#111" stroke-width="0.3">0.6</text>
<text x="418" y="158.1" text-anchor="start" fill="#111" stroke="#111" stroke-width="0.3">0.4</text>
<text x="418" y="207.8" text-anchor="start" fill="#111" stroke="#111" stroke-width="0.3">0.2</text>
<text x="418" y="257.7" text-anchor="start" fill="#111" stroke="#111" stroke-width="0.3">0</text>
<text transform="translate(460.9,237) rotate(-90)" fill="#111" stroke="#111" stroke-width="0.3" font-size="16.6" textLength="221.5" lengthAdjust="spacingAndGlyphs">Energy flux density (arb. units)</text>
<rect x="608" y="4" width="249" height="249" fill="#000"/>
<g clip-path="url(#clipb)">
<g filter="url(#bl2)" opacity="0.9">
<ellipse cx="733" cy="129" rx="60" ry="66" fill="none" stroke="#0a0a0a" stroke-width="28"/>
<ellipse cx="688" cy="88" rx="20" ry="30" fill="#131313" transform="rotate(25 688 88)"/>
<ellipse cx="797" cy="125" rx="13" ry="32" fill="#0f0f0f"/>
<ellipse cx="748" cy="195" rx="34" ry="13" fill="#0f0f0f"/>
</g>
<line x1="608" y1="250.5" x2="857" y2="5" stroke="#101010" stroke-width="0.7"/>
<g transform="translate(733.5,128.7) rotate(12)"><ellipse cx="0" cy="0" rx="33.5" ry="47.5" fill="url(#spot)"/></g>
</g>
<rect x="632.0" y="247.2" width="1.4" height="5.8" fill="#fff"/>
<rect x="681.7" y="247.2" width="1.4" height="5.8" fill="#fff"/>
<rect x="731.4" y="247.2" width="1.4" height="5.8" fill="#fff"/>
<rect x="781.1" y="247.2" width="1.4" height="5.8" fill="#fff"/>
<rect x="831.5" y="247.2" width="1.4" height="5.8" fill="#fff"/>
<rect x="608" y="28.3" width="5.8" height="1.4" fill="#fff"/>
<rect x="608" y="78.3" width="5.8" height="1.4" fill="#fff"/>
<rect x="608" y="128.0" width="5.8" height="1.4" fill="#fff"/>
<rect x="608" y="177.7" width="5.8" height="1.4" fill="#fff"/>
<rect x="608" y="228.3" width="5.8" height="1.4" fill="#fff"/>
<text x="563.3" y="19.6" text-anchor="start" fill="#111" stroke="#111" stroke-width="0.3" font-size="18.2" textLength="39.2" lengthAdjust="spacingAndGlyphs"><tspan class="it">y</tspan>/μm</text>
<text x="633" y="32.3" text-anchor="start" fill="#fff" stroke="#fff" stroke-width="0" font-size="18.5">b</text>
<text x="711.3" y="28.7" text-anchor="start" fill="#fff" stroke="#fff" stroke-width="0" font-size="17.3">S = 0.66</text>
<text x="605.3" y="84.5" text-anchor="end" fill="#111" stroke="#111" stroke-width="0.3"><tspan>–</tspan><tspan dx="2.2">50</tspan></text>
<text x="605.3" y="134.2" text-anchor="end" fill="#111" stroke="#111" stroke-width="0.3">0</text>
<text x="605.3" y="183.9" text-anchor="end" fill="#111" stroke="#111" stroke-width="0.3">50</text>
<text x="605.3" y="234.7" text-anchor="end" fill="#111" stroke="#111" stroke-width="0.3">100</text>
<text x="632.6" y="269" text-anchor="middle" fill="#111" stroke="#111" stroke-width="0.3"><tspan>–</tspan><tspan dx="2.2">100</tspan></text>
<text x="681.8" y="269" text-anchor="middle" fill="#111" stroke="#111" stroke-width="0.3"><tspan>–</tspan><tspan dx="2.2">50</tspan></text>
<text x="732.3" y="269" text-anchor="middle" fill="#111" stroke="#111" stroke-width="0.3">0</text>
<text x="782" y="269" text-anchor="middle" fill="#111" stroke="#111" stroke-width="0.3">50</text>
<text x="811.6" y="269" text-anchor="start" fill="#111" stroke="#111" stroke-width="0.3" font-size="18.2" textLength="39.4" lengthAdjust="spacingAndGlyphs"><tspan class="it">x</tspan>/μm</text>
<rect x="867.8" y="3.5" width="22.9" height="248.5" fill="url(#cba)" stroke="#6b6b6b" stroke-width="1.1"/>
<line x1="869" y1="247" x2="888.5" y2="40" stroke="#fff" stroke-opacity="0.3" stroke-width="0.6"/>
<rect x="884.7" y="25.6" width="6" height="1.4" fill="#222"/>
<rect x="884.7" y="101.3" width="6" height="1.4" fill="#222"/>
<rect x="884.7" y="176.3" width="6" height="1.4" fill="#fff"/>
<text x="895" y="31.8" text-anchor="start" fill="#111" stroke="#111" stroke-width="0.3">0.6</text>
<text x="895" y="107.5" text-anchor="start" fill="#111" stroke="#111" stroke-width="0.3">0.4</text>
<text x="895" y="182.5" text-anchor="start" fill="#111" stroke="#111" stroke-width="0.3">0.2</text>
<text x="895" y="257.7" text-anchor="start" fill="#111" stroke="#111" stroke-width="0.3">0</text>
<text transform="translate(940.1,254.8) rotate(-90)" fill="#111" stroke="#111" stroke-width="0.3" font-size="16.6" textLength="221.5" lengthAdjust="spacingAndGlyphs">Energy flux density (arb. units)</text>
<rect x="58.1" y="286.7" width="378.0" height="249.9" fill="#fff" stroke="#1c1c1c" stroke-width="1.3"/>
<rect x="120.6" y="531.1" width="1" height="5.5" fill="#1c1c1c"/>
<rect x="183.6" y="531.1" width="1" height="5.5" fill="#1c1c1c"/>
<rect x="246.5" y="531.1" width="1" height="5.5" fill="#1c1c1c"/>
<rect x="309.5" y="531.1" width="1" height="5.5" fill="#1c1c1c"/>
<rect x="372.5" y="531.1" width="1" height="5.5" fill="#1c1c1c"/>
<rect x="58.1" y="369.3" width="5.5" height="1.2" fill="#1c1c1c"/>
<rect x="58.1" y="452.6" width="5.5" height="1.2" fill="#1c1c1c"/>
<path d="M58.0,536.3 L59.5,536.3 L61.0,536.3 L62.5,536.3 L64.0,536.3 L65.5,536.3 L67.0,536.3 L68.5,536.3 L70.0,536.3 L71.5,536.3 L73.0,536.3 L74.5,536.3 L76.0,536.3 L77.5,536.3 L79.0,536.3 L80.5,536.3 L82.0,536.3 L83.5,536.3 L85.0,536.3 L86.5,536.3 L88.0,536.3 L89.5,536.3 L91.0,536.3 L92.5,536.3 L94.0,536.3 L95.5,536.3 L97.0,536.3 L98.5,536.3 L100.0,536.3 L101.5,536.3 L103.0,536.3 L104.5,536.3 L106.0,536.3 L107.5,536.3 L109.0,536.3 L110.5,536.3 L112.0,536.3 L113.5,536.3 L115.0,536.3 L116.5,536.3 L118.0,536.3 L119.5,536.3 L121.0,536.3 L122.5,536.3 L124.0,536.3 L125.5,536.3 L127.0,536.3 L128.5,536.3 L130.0,536.3 L131.5,536.3 L133.0,536.3 L134.5,536.3 L136.0,536.3 L137.5,536.3 L139.0,536.2 L140.5,536.2 L142.0,536.2 L143.5,536.1 L145.0,536.0 L146.5,535.9 L148.0,535.8 L149.5,535.6 L151.0,535.4 L152.5,535.2 L154.0,534.9 L155.5,534.7 L157.0,534.4 L158.5,534.1 L160.0,533.7 L161.5,533.3 L163.0,533.0 L164.5,532.7 L166.0,532.4 L167.5,532.2 L169.0,531.9 L170.5,531.7 L172.0,531.5 L173.5,531.3 L175.0,531.3 L176.5,531.3 L178.0,531.4 L179.5,531.4 L181.0,531.5 L182.5,531.6 L184.0,531.8 L185.5,532.0 L187.0,532.7 L188.5,533.3 L190.0,533.9 L191.5,534.4 L193.0,534.8 L194.5,535.1 L196.0,535.3 L197.5,535.1 L199.0,534.4 L200.5,533.3 L202.0,531.6 L203.5,529.2 L205.0,526.2 L206.5,522.2 L208.0,518.0 L209.5,513.3 L211.0,508.1 L212.5,502.5 L214.0,496.4 L215.5,489.7 L217.0,482.4 L218.5,474.0 L220.0,463.7 L221.5,452.8 L223.0,441.6 L224.5,429.3 L226.0,416.6 L227.5,405.1 L229.0,390.0 L230.5,376.0 L232.0,364.9 L233.5,354.9 L235.0,345.7 L236.5,336.5 L238.0,328.6 L239.5,321.9 L241.0,315.4 L242.5,309.7 L244.0,305.0 L245.5,301.7 L247.0,299.5 L248.5,298.1 L250.0,298.9 L251.5,300.4 L253.0,302.1 L254.5,306.1 L256.0,311.9 L257.5,317.7 L259.0,324.2 L260.5,331.6 L262.0,339.8 L263.5,348.7 L265.0,358.1 L266.5,368.5 L268.0,380.1 L269.5,395.9 L271.0,408.6 L272.5,419.5 L274.0,430.8 L275.5,442.3 L277.0,454.2 L278.5,464.9 L280.0,474.6 L281.5,483.4 L283.0,491.4 L284.5,498.4 L286.0,504.7 L287.5,510.3 L289.0,515.4 L290.5,520.0 L292.0,524.2 L293.5,527.8 L295.0,530.3 L296.5,532.2 L298.0,533.5 L299.5,534.5 L301.0,535.1 L302.5,535.2 L304.0,535.0 L305.5,534.7 L307.0,534.4 L308.5,533.9 L310.0,533.3 L311.5,532.8 L313.0,532.4 L314.5,531.9 L316.0,531.6 L317.5,531.3 L319.0,531.2 L320.5,531.1 L322.0,531.0 L323.5,531.1 L325.0,531.3 L326.5,531.6 L328.0,531.9 L329.5,532.2 L331.0,532.5 L332.5,532.9 L334.0,533.3 L335.5,533.6 L337.0,534.0 L338.5,534.3 L340.0,534.6 L341.5,534.9 L343.0,535.1 L344.5,535.4 L346.0,535.6 L347.5,535.7 L349.0,535.8 L350.5,535.9 L352.0,536.0 L353.5,536.1 L355.0,536.1 L356.5,536.2 L358.0,536.2 L359.5,536.2 L361.0,536.2 L362.5,536.2 L364.0,536.2 L365.5,536.3 L367.0,536.3 L368.5,536.3 L370.0,536.3 L371.5,536.3 L373.0,536.3 L374.5,536.3 L376.0,536.3 L377.5,536.3 L379.0,536.3 L380.5,536.3 L382.0,536.3 L383.5,536.3 L385.0,536.3 L386.5,536.3 L388.0,536.3 L389.5,536.3 L391.0,536.3 L392.5,536.3 L394.0,536.3 L395.5,536.3 L397.0,536.3 L398.5,536.3 L400.0,536.3 L401.5,536.3 L403.0,536.3 L404.5,536.3 L406.0,536.3 L407.5,536.3 L409.0,536.3 L410.5,536.3 L412.0,536.3 L413.5,536.3 L415.0,536.3 L416.5,536.3 L418.0,536.3 L419.5,536.3 L421.0,536.3 L422.5,536.3 L424.0,536.3 L425.5,536.3 L427.0,536.3 L428.5,536.3 L430.0,536.3 L431.5,536.3 L433.0,536.3 L434.5,536.3 L436.0,536.3" fill="none" stroke="#0c0c0c" stroke-width="2" stroke-linejoin="round"/>
<circle cx="60.9" cy="535.3" r="2.0" fill="#0c0c0c"/>
<circle cx="66.6" cy="535.3" r="2.0" fill="#0c0c0c"/>
<circle cx="72.3" cy="535.3" r="2.0" fill="#0c0c0c"/>
<circle cx="78.1" cy="535.3" r="2.0" fill="#0c0c0c"/>
<circle cx="83.8" cy="535.3" r="2.0" fill="#0c0c0c"/>
<circle cx="89.5" cy="535.3" r="2.0" fill="#0c0c0c"/>
<circle cx="95.2" cy="535.3" r="2.0" fill="#0c0c0c"/>
<circle cx="100.9" cy="535.3" r="2.0" fill="#0c0c0c"/>
<circle cx="106.7" cy="535.3" r="2.0" fill="#0c0c0c"/>
<circle cx="112.4" cy="535.3" r="2.0" fill="#0c0c0c"/>
<circle cx="118.1" cy="535.3" r="2.0" fill="#0c0c0c"/>
<circle cx="124.5" cy="534.8" r="2.0" fill="#0c0c0c"/>
<circle cx="130.2" cy="534.4" r="2.0" fill="#0c0c0c"/>
<circle cx="135.8" cy="534.0" r="2.0" fill="#0c0c0c"/>
<circle cx="141.5" cy="533.6" r="2.0" fill="#0c0c0c"/>
<circle cx="147.2" cy="533.2" r="2.0" fill="#0c0c0c"/>
<circle cx="152.9" cy="532.7" r="2.0" fill="#0c0c0c"/>
<circle cx="158.6" cy="532.1" r="2.0" fill="#0c0c0c"/>
<circle cx="164.3" cy="531.0" r="2.0" fill="#0c0c0c"/>
<circle cx="170.0" cy="530.2" r="2.0" fill="#0c0c0c"/>
<circle cx="175.6" cy="530.0" r="2.0" fill="#0c0c0c"/>
<circle cx="181.3" cy="530.4" r="2.0" fill="#0c0c0c"/>
<circle cx="187.0" cy="530.6" r="2.0" fill="#0c0c0c"/>
<circle cx="192.7" cy="527.9" r="2.0" fill="#0c0c0c"/>
<circle cx="198.4" cy="520.0" r="2.0" fill="#0c0c0c"/>
<circle cx="204.0" cy="506.5" r="2.0" fill="#0c0c0c"/>
<circle cx="209.6" cy="487.8" r="2.0" fill="#0c0c0c"/>
<circle cx="215.3" cy="466.0" r="2.0" fill="#0c0c0c"/>
<circle cx="221.1" cy="442.1" r="2.0" fill="#0c0c0c"/>
<circle cx="226.9" cy="420.6" r="2.0" fill="#0c0c0c"/>
<circle cx="232.6" cy="401.8" r="2.0" fill="#0c0c0c"/>
<circle cx="238.4" cy="388.0" r="2.0" fill="#0c0c0c"/>
<circle cx="244.0" cy="380.4" r="2.0" fill="#0c0c0c"/>
<circle cx="249.8" cy="378.8" r="2.0" fill="#0c0c0c"/>
<circle cx="255.5" cy="383.6" r="2.0" fill="#0c0c0c"/>
<circle cx="261.3" cy="394.2" r="2.0" fill="#0c0c0c"/>
<circle cx="267.0" cy="410.0" r="2.0" fill="#0c0c0c"/>
<circle cx="272.8" cy="430.6" r="2.0" fill="#0c0c0c"/>
<circle cx="278.6" cy="452.2" r="2.0" fill="#0c0c0c"/>
<circle cx="284.1" cy="472.8" r="2.0" fill="#0c0c0c"/>
<circle cx="289.8" cy="488.3" r="2.0" fill="#0c0c0c"/>
<circle cx="295.7" cy="499.8" r="2.0" fill="#0c0c0c"/>
<circle cx="301.4" cy="508.0" r="2.0" fill="#0c0c0c"/>
<circle cx="307.1" cy="513.3" r="2.0" fill="#0c0c0c"/>
<circle cx="312.8" cy="517.3" r="2.0" fill="#0c0c0c"/>
<circle cx="318.5" cy="520.5" r="2.0" fill="#0c0c0c"/>
<circle cx="324.2" cy="523.3" r="2.0" fill="#0c0c0c"/>
<circle cx="329.9" cy="525.4" r="2.0" fill="#0c0c0c"/>
<circle cx="335.6" cy="527.5" r="2.0" fill="#0c0c0c"/>
<circle cx="341.3" cy="529.4" r="2.0" fill="#0c0c0c"/>
<circle cx="346.9" cy="531.1" r="2.0" fill="#0c0c0c"/>
<circle cx="352.6" cy="532.3" r="2.0" fill="#0c0c0c"/>
<circle cx="358.3" cy="533.4" r="2.0" fill="#0c0c0c"/>
<circle cx="364.0" cy="534.0" r="2.0" fill="#0c0c0c"/>
<circle cx="369.7" cy="534.4" r="2.0" fill="#0c0c0c"/>
<circle cx="375.4" cy="534.8" r="2.0" fill="#0c0c0c"/>
<circle cx="381.0" cy="535.1" r="2.0" fill="#0c0c0c"/>
<circle cx="386.8" cy="535.3" r="2.0" fill="#0c0c0c"/>
<circle cx="392.5" cy="535.3" r="2.0" fill="#0c0c0c"/>
<circle cx="398.2" cy="535.3" r="2.0" fill="#0c0c0c"/>
<circle cx="404.0" cy="535.3" r="2.0" fill="#0c0c0c"/>
<circle cx="409.7" cy="535.3" r="2.0" fill="#0c0c0c"/>
<circle cx="415.4" cy="535.3" r="2.0" fill="#0c0c0c"/>
<circle cx="421.1" cy="535.3" r="2.0" fill="#0c0c0c"/>
<circle cx="426.8" cy="535.3" r="2.0" fill="#0c0c0c"/>
<circle cx="432.6" cy="535.3" r="2.0" fill="#0c0c0c"/>
<rect x="273.4" y="287" width="162.7" height="50.2" fill="#fff" stroke="#1c1c1c" stroke-width="1.1"/>
<circle cx="290.0" cy="304.3" r="2.2" fill="#0c0c0c"/>
<rect x="281.8" y="321.8" width="16.6" height="2.1" fill="#0c0c0c"/>
<text x="307.4" y="308.5" text-anchor="start" fill="#111" stroke="#111" stroke-width="0.3" font-size="17.6" textLength="83" lengthAdjust="spacingAndGlyphs">Experiment</text>
<text x="307.4" y="328.5" text-anchor="start" fill="#111" stroke="#111" stroke-width="0.3" font-size="17.6" textLength="117.8" lengthAdjust="spacingAndGlyphs">Diffraction limit</text>
<text x="76.6" y="313.3" text-anchor="start" fill="#111" stroke="#111" stroke-width="0.3" font-size="18.5">c</text>
<text x="54.1" y="292.7" text-anchor="end" fill="#111" stroke="#111" stroke-width="0.3">1.5</text>
<text x="54.1" y="375.4" text-anchor="end" fill="#111" stroke="#111" stroke-width="0.3">1.0</text>
<text x="54.1" y="458.7" text-anchor="end" fill="#111" stroke="#111" stroke-width="0.3">0.5</text>
<text x="54.300000000000004" y="541.0" text-anchor="end" fill="#111" stroke="#111" stroke-width="0.3">0</text>
<text x="60.3" y="552.8" text-anchor="middle" fill="#111" stroke="#111" stroke-width="0.3"><tspan>–</tspan><tspan dx="2.2">150</tspan></text>
<text x="119.6" y="552.8" text-anchor="middle" fill="#111" stroke="#111" stroke-width="0.3"><tspan>–</tspan><tspan dx="2.2">100</tspan></text>
<text x="183.0" y="552.8" text-anchor="middle" fill="#111" stroke="#111" stroke-width="0.3"><tspan>–</tspan><tspan dx="2.2">50</tspan></text>
<text x="247.4" y="552.8" text-anchor="middle" fill="#111" stroke="#111" stroke-width="0.3">0</text>
<text x="310.3" y="552.8" text-anchor="middle" fill="#111" stroke="#111" stroke-width="0.3">50</text>
<text x="373.5" y="552.8" text-anchor="middle" fill="#111" stroke="#111" stroke-width="0.3">100</text>
<text x="397.90000000000003" y="552.8" text-anchor="start" fill="#111" stroke="#111" stroke-width="0.3" font-size="18.2" textLength="39.0" lengthAdjust="spacingAndGlyphs"><tspan class="it">x</tspan>/μm</text>
<text transform="translate(16.0,536.3) rotate(-90)" fill="#111" stroke="#111" stroke-width="0.3" font-size="16.4" textLength="231" lengthAdjust="spacingAndGlyphs">Energy flux density/10<tspan font-size="9.8" dy="-8">19</tspan><tspan dy="8"> W cm</tspan><tspan font-size="9.8" dy="-8">–2</tspan></text>
<rect x="571.6" y="286.7" width="376.8" height="249.9" fill="#fff" stroke="#1c1c1c" stroke-width="1.3"/>
<rect x="633.9" y="531.1" width="1" height="5.5" fill="#1c1c1c"/>
<rect x="696.7" y="531.1" width="1" height="5.5" fill="#1c1c1c"/>
<rect x="759.5" y="531.1" width="1" height="5.5" fill="#1c1c1c"/>
<rect x="822.3" y="531.1" width="1" height="5.5" fill="#1c1c1c"/>
<rect x="885.2" y="531.1" width="1" height="5.5" fill="#1c1c1c"/>
<rect x="571.6" y="369.3" width="5.5" height="1.2" fill="#1c1c1c"/>
<rect x="571.6" y="452.6" width="5.5" height="1.2" fill="#1c1c1c"/>
<path d="M571.6,536.3 L573.1,536.3 L574.6,536.3 L576.1,536.3 L577.6,536.3 L579.1,536.3 L580.6,536.3 L582.1,536.3 L583.6,536.3 L585.2,536.3 L586.7,536.3 L588.2,536.3 L589.7,536.3 L591.2,536.3 L592.7,536.3 L594.2,536.3 L595.7,536.3 L597.2,536.3 L598.7,536.3 L600.2,536.3 L601.7,536.3 L603.2,536.3 L604.7,536.3 L606.2,536.3 L607.7,536.3 L609.2,536.3 L610.7,536.3 L612.3,536.3 L613.8,536.3 L615.3,536.3 L616.8,536.3 L618.3,536.3 L619.8,536.3 L621.3,536.3 L622.8,536.3 L624.3,536.3 L625.8,536.3 L627.3,536.3 L628.8,536.3 L630.3,536.3 L631.8,536.3 L633.3,536.3 L634.8,536.3 L636.3,536.3 L637.8,536.3 L639.4,536.3 L640.9,536.3 L642.4,536.3 L643.9,536.3 L645.4,536.3 L646.9,536.3 L648.4,536.3 L649.9,536.3 L651.4,536.3 L652.9,536.3 L654.4,536.3 L655.9,536.3 L657.4,536.3 L658.9,536.2 L660.4,536.1 L661.9,536.0 L663.4,535.9 L664.9,535.7 L666.5,535.4 L668.0,535.2 L669.5,534.9 L671.0,534.6 L672.5,534.4 L674.0,534.0 L675.5,533.7 L677.0,533.3 L678.5,532.9 L680.0,532.4 L681.5,531.8 L683.0,531.2 L684.5,530.7 L686.0,530.4 L687.5,530.1 L689.0,529.9 L690.5,529.7 L692.0,529.5 L693.6,529.3 L695.1,529.2 L696.6,529.4 L698.1,529.8 L699.6,530.3 L701.1,530.9 L702.6,531.6 L704.1,532.3 L705.6,533.1 L707.1,533.7 L708.6,534.3 L710.1,534.7 L711.6,534.8 L713.1,534.4 L714.6,533.7 L716.1,532.8 L717.6,531.1 L719.1,528.8 L720.7,525.2 L722.2,520.7 L723.7,515.9 L725.2,510.5 L726.7,504.6 L728.2,498.2 L729.7,490.7 L731.2,481.6 L732.7,472.0 L734.2,462.1 L735.7,450.8 L737.2,438.2 L738.7,425.7 L740.2,413.1 L741.7,400.6 L743.2,388.0 L744.7,377.0 L746.2,366.9 L747.8,356.4 L749.3,346.7 L750.8,336.6 L752.3,327.9 L753.8,320.7 L755.3,313.4 L756.8,307.4 L758.3,302.8 L759.8,300.2 L761.3,298.4 L762.8,298.4 L764.3,300.0 L765.8,301.6 L767.3,304.7 L768.8,310.5 L770.3,317.4 L771.8,324.6 L773.4,332.3 L774.9,341.6 L776.4,351.6 L777.9,362.1 L779.4,372.4 L780.9,381.9 L782.4,397.8 L783.9,410.3 L785.4,422.2 L786.9,434.4 L788.4,446.4 L789.9,458.0 L791.4,468.7 L792.9,478.5 L794.4,487.5 L795.9,495.5 L797.4,502.5 L798.9,508.7 L800.5,514.4 L802.0,519.3 L803.5,523.4 L805.0,526.9 L806.5,529.4 L808.0,531.4 L809.5,532.7 L811.0,533.6 L812.5,534.3 L814.0,534.6 L815.5,534.4 L817.0,534.0 L818.5,533.5 L820.0,532.9 L821.5,532.1 L823.0,531.4 L824.5,530.7 L826.0,530.1 L827.6,529.5 L829.1,529.1 L830.6,529.0 L832.1,528.8 L833.6,528.7 L835.1,528.7 L836.6,529.0 L838.1,529.4 L839.6,530.0 L841.1,530.5 L842.6,531.1 L844.1,531.8 L845.6,532.4 L847.1,533.0 L848.6,533.6 L850.1,534.1 L851.6,534.6 L853.1,535.1 L854.7,535.4 L856.2,535.7 L857.7,535.9 L859.2,536.0 L860.7,536.1 L862.2,536.2 L863.7,536.3 L865.2,536.3 L866.7,536.3 L868.2,536.3 L869.7,536.3 L871.2,536.3 L872.7,536.3 L874.2,536.3 L875.7,536.3 L877.2,536.3 L878.7,536.3 L880.2,536.3 L881.8,536.3 L883.3,536.3 L884.8,536.3 L886.3,536.3 L887.8,536.3 L889.3,536.3 L890.8,536.3 L892.3,536.3 L893.8,536.3 L895.3,536.3 L896.8,536.3 L898.3,536.3 L899.8,536.3 L901.3,536.3 L902.8,536.3 L904.3,536.3 L905.8,536.3 L907.3,536.3 L908.9,536.3 L910.4,536.3 L911.9,536.3 L913.4,536.3 L914.9,536.3 L916.4,536.3 L917.9,536.3 L919.4,536.3 L920.9,536.3 L922.4,536.3 L923.9,536.3 L925.4,536.3 L926.9,536.3 L928.4,536.3 L929.9,536.3 L931.4,536.3 L932.9,536.3 L934.4,536.3 L936.0,536.3 L937.5,536.3 L939.0,536.3 L940.5,536.3 L942.0,536.3 L943.5,536.3 L945.0,536.3 L946.5,536.3 L948.0,536.3" fill="none" stroke="#0c0c0c" stroke-width="2" stroke-linejoin="round"/>
<circle cx="574.3" cy="535.3" r="2.0" fill="#0c0c0c"/>
<circle cx="580.0" cy="535.5" r="2.0" fill="#0c0c0c"/>
<circle cx="585.7" cy="535.0" r="2.0" fill="#0c0c0c"/>
<circle cx="591.4" cy="534.6" r="2.0" fill="#0c0c0c"/>
<circle cx="597.1" cy="534.6" r="2.0" fill="#0c0c0c"/>
<circle cx="602.8" cy="534.8" r="2.0" fill="#0c0c0c"/>
<circle cx="608.6" cy="535.0" r="2.0" fill="#0c0c0c"/>
<circle cx="614.3" cy="535.3" r="2.0" fill="#0c0c0c"/>
<circle cx="620.0" cy="535.0" r="2.0" fill="#0c0c0c"/>
<circle cx="625.7" cy="534.6" r="2.0" fill="#0c0c0c"/>
<circle cx="631.4" cy="534.4" r="2.0" fill="#0c0c0c"/>
<circle cx="637.1" cy="534.2" r="2.0" fill="#0c0c0c"/>
<circle cx="642.8" cy="534.2" r="2.0" fill="#0c0c0c"/>
<circle cx="648.5" cy="534.2" r="2.0" fill="#0c0c0c"/>
<circle cx="654.3" cy="534.0" r="2.0" fill="#0c0c0c"/>
<circle cx="660.0" cy="533.4" r="2.0" fill="#0c0c0c"/>
<circle cx="665.7" cy="532.9" r="2.0" fill="#0c0c0c"/>
<circle cx="671.4" cy="532.5" r="2.0" fill="#0c0c0c"/>
<circle cx="677.2" cy="531.7" r="2.0" fill="#0c0c0c"/>
<circle cx="682.9" cy="530.0" r="2.0" fill="#0c0c0c"/>
<circle cx="688.6" cy="527.0" r="2.0" fill="#0c0c0c"/>
<circle cx="694.3" cy="523.3" r="2.0" fill="#0c0c0c"/>
<circle cx="700.2" cy="521.6" r="2.0" fill="#0c0c0c"/>
<circle cx="706.0" cy="521.0" r="2.0" fill="#0c0c0c"/>
<circle cx="711.8" cy="520.0" r="2.0" fill="#0c0c0c"/>
<circle cx="717.6" cy="515.9" r="2.0" fill="#0c0c0c"/>
<circle cx="723.3" cy="505.4" r="2.0" fill="#0c0c0c"/>
<circle cx="728.9" cy="487.3" r="2.0" fill="#0c0c0c"/>
<circle cx="734.4" cy="464.0" r="2.0" fill="#0c0c0c"/>
<circle cx="740.1" cy="438.9" r="2.0" fill="#0c0c0c"/>
<circle cx="745.9" cy="415.0" r="2.0" fill="#0c0c0c"/>
<circle cx="751.8" cy="395.8" r="2.0" fill="#0c0c0c"/>
<circle cx="757.4" cy="383.8" r="2.0" fill="#0c0c0c"/>
<circle cx="763.0" cy="378.8" r="2.0" fill="#0c0c0c"/>
<circle cx="768.8" cy="382.5" r="2.0" fill="#0c0c0c"/>
<circle cx="774.4" cy="394.1" r="2.0" fill="#0c0c0c"/>
<circle cx="780.3" cy="413.0" r="2.0" fill="#0c0c0c"/>
<circle cx="786.1" cy="438.9" r="2.0" fill="#0c0c0c"/>
<circle cx="791.6" cy="467.0" r="2.0" fill="#0c0c0c"/>
<circle cx="797.3" cy="494.1" r="2.0" fill="#0c0c0c"/>
<circle cx="802.9" cy="514.1" r="2.0" fill="#0c0c0c"/>
<circle cx="808.6" cy="524.9" r="2.0" fill="#0c0c0c"/>
<circle cx="814.4" cy="528.6" r="2.0" fill="#0c0c0c"/>
<circle cx="820.1" cy="527.5" r="2.0" fill="#0c0c0c"/>
<circle cx="825.8" cy="526.2" r="2.0" fill="#0c0c0c"/>
<circle cx="831.5" cy="526.8" r="2.0" fill="#0c0c0c"/>
<circle cx="837.2" cy="529.2" r="2.0" fill="#0c0c0c"/>
<circle cx="842.8" cy="532.1" r="2.0" fill="#0c0c0c"/>
<circle cx="848.5" cy="534.4" r="2.0" fill="#0c0c0c"/>
<circle cx="854.2" cy="535.5" r="2.0" fill="#0c0c0c"/>
<circle cx="859.9" cy="535.7" r="2.0" fill="#0c0c0c"/>
<circle cx="865.6" cy="535.3" r="2.0" fill="#0c0c0c"/>
<circle cx="871.3" cy="534.8" r="2.0" fill="#0c0c0c"/>
<circle cx="877.0" cy="534.6" r="2.0" fill="#0c0c0c"/>
<circle cx="882.6" cy="534.4" r="2.0" fill="#0c0c0c"/>
<circle cx="888.3" cy="534.6" r="2.0" fill="#0c0c0c"/>
<circle cx="894.0" cy="534.6" r="2.0" fill="#0c0c0c"/>
<circle cx="899.7" cy="534.6" r="2.0" fill="#0c0c0c"/>
<circle cx="905.5" cy="534.6" r="2.0" fill="#0c0c0c"/>
<circle cx="911.2" cy="534.6" r="2.0" fill="#0c0c0c"/>
<circle cx="916.9" cy="534.6" r="2.0" fill="#0c0c0c"/>
<circle cx="922.6" cy="534.6" r="2.0" fill="#0c0c0c"/>
<circle cx="928.3" cy="534.6" r="2.0" fill="#0c0c0c"/>
<circle cx="934.1" cy="534.6" r="2.0" fill="#0c0c0c"/>
<circle cx="939.8" cy="534.6" r="2.0" fill="#0c0c0c"/>
<circle cx="945.5" cy="534.6" r="2.0" fill="#0c0c0c"/>
<rect x="784.6" y="287" width="163.8" height="50.2" fill="#fff" stroke="#1c1c1c" stroke-width="1.1"/>
<circle cx="801.2" cy="304.3" r="2.2" fill="#0c0c0c"/>
<rect x="793.0" y="321.8" width="16.6" height="2.1" fill="#0c0c0c"/>
<text x="818.6" y="308.5" text-anchor="start" fill="#111" stroke="#111" stroke-width="0.3" font-size="17.6" textLength="83" lengthAdjust="spacingAndGlyphs">Experiment</text>
<text x="818.6" y="328.5" text-anchor="start" fill="#111" stroke="#111" stroke-width="0.3" font-size="17.6" textLength="117.8" lengthAdjust="spacingAndGlyphs">Diffraction limit</text>
<text x="593" y="313.3" text-anchor="start" fill="#111" stroke="#111" stroke-width="0.3" font-size="18.5">d</text>
<text x="567.6" y="292.7" text-anchor="end" fill="#111" stroke="#111" stroke-width="0.3">1.5</text>
<text x="567.6" y="375.4" text-anchor="end" fill="#111" stroke="#111" stroke-width="0.3">1.0</text>
<text x="567.6" y="458.7" text-anchor="end" fill="#111" stroke="#111" stroke-width="0.3">0.5</text>
<text x="567.8000000000001" y="543.0" text-anchor="end" fill="#111" stroke="#111" stroke-width="0.3">0</text>
<text x="573.9" y="553.5" text-anchor="middle" fill="#111" stroke="#111" stroke-width="0.3"><tspan>–</tspan><tspan dx="2.2">150</tspan></text>
<text x="633.0" y="553.5" text-anchor="middle" fill="#111" stroke="#111" stroke-width="0.3"><tspan>–</tspan><tspan dx="2.2">100</tspan></text>
<text x="696.3" y="553.5" text-anchor="middle" fill="#111" stroke="#111" stroke-width="0.3"><tspan>–</tspan><tspan dx="2.2">50</tspan></text>
<text x="760.3" y="553.5" text-anchor="middle" fill="#111" stroke="#111" stroke-width="0.3">0</text>
<text x="823.2" y="553.5" text-anchor="middle" fill="#111" stroke="#111" stroke-width="0.3">50</text>
<text x="886.2" y="553.5" text-anchor="middle" fill="#111" stroke="#111" stroke-width="0.3">100</text>
<text x="909.8" y="553.5" text-anchor="start" fill="#111" stroke="#111" stroke-width="0.3" font-size="18.2" textLength="37.0" lengthAdjust="spacingAndGlyphs"><tspan class="it">y</tspan>/μm</text>
<text transform="translate(529.0,536.3) rotate(-90)" fill="#111" stroke="#111" stroke-width="0.3" font-size="16.4" textLength="231" lengthAdjust="spacingAndGlyphs">Energy flux density/10<tspan font-size="9.8" dy="-8">19</tspan><tspan dy="8"> W cm</tspan><tspan font-size="9.8" dy="-8">–2</tspan></text>
</svg></body></html>
